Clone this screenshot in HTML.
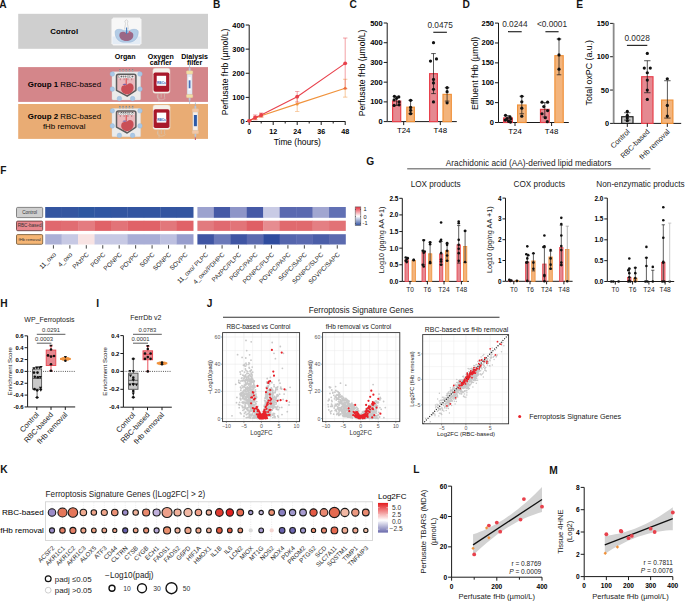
<!DOCTYPE html>
<html><head><meta charset="utf-8"><style>
html,body{margin:0;padding:0;background:#fff;}
svg{display:block;font-family:"Liberation Sans", sans-serif;}
</style></head><body>
<svg width="685" height="601" viewBox="0 0 685 601">
<rect width="685" height="601" fill="#fff"/>
<text x="-0.66" y="7.7" font-size="10.2" font-weight="bold" fill="#151515" >A</text>
<rect x="18.2" y="13.8" width="189.8" height="35" fill="#cfcfcf" />
<text x="64.2" y="33.6" font-size="7.8" font-weight="bold" text-anchor="middle" >Control</text>
<path d="M113.3,17.6 L139.6,17.6 L141.6,19.6 L141.6,43.5 L139.6,45.5 L113.3,45.5 L111.3,43.5 L111.3,19.6 Z" fill="#f7f7f7" stroke="#dedede" stroke-width="0.6" />
<rect x="112.5" y="36.5" width="28" height="7.6" fill="#e4ecf5" />
<path d="M115.2,31.5 C115.5,29.2 120,28.6 123,30.2 C125,31 128,31 130,30.2 C133.5,28.6 138,29.2 138.2,31.5 C138.6,36 136,41.5 130,42.2 L123,42.2 C117,41.5 114.8,36 115.2,31.5 Z" fill="#b3cce6" stroke="#93b2d4" stroke-width="0.5" />
<path d="M119.3,35.2 C119.2,32 122.5,31.2 125,32.2 C125.8,32.6 126.5,33.4 126.8,33.6 C127.2,33.2 128,32.5 129,32.2 C131.5,31.4 133.8,33 133.3,36 C132.8,39.4 129.8,41.1 126.2,41 C122.4,40.9 119.4,38.6 119.3,35.2 Z" fill="#9b6786" />
<line x1="126.6" y1="27.5" x2="126.6" y2="34" stroke="#4a7fc0" stroke-width="1.3" />
<path d="M124.5,29.5 L125.5,23.5 L124.8,21 L126.4,19.8 L128,21 L127.4,23.5 L128.6,29.5" fill="none" stroke="#b8b8b8" stroke-width="0.5" />
<circle cx="129.6" cy="31.8" r="0.9" fill="#e06070" />
<text x="125.2" y="58.6" font-size="7.1" font-weight="bold" text-anchor="middle" >Organ</text>
<text x="160.8" y="58.6" font-size="7.1" font-weight="bold" text-anchor="middle" >Oxygen</text>
<text x="160.8" y="64.9" font-size="7.1" font-weight="bold" text-anchor="middle" >carrier</text>
<text x="194.6" y="58.6" font-size="7.1" font-weight="bold" text-anchor="middle" >Dialysis</text>
<text x="194.6" y="64.9" font-size="7.1" font-weight="bold" text-anchor="middle" >filter</text>
<rect x="18.2" y="67.1" width="189.8" height="34.8" fill="#d4868a" />
<rect x="18.2" y="104" width="189.8" height="34.9" fill="#e9ac74" />
<text x="27.8" y="87" font-size="7.9" ><tspan font-weight="bold">Group 1</tspan> RBC-based</text>
<text x="27.8" y="119" font-size="7.9" ><tspan font-weight="bold">Group 2</tspan> RBC-based</text>
<text x="64.2" y="128.6" font-size="7.9" text-anchor="middle" >fHb removal</text>
<rect x="112" y="71.8" width="28.6" height="28.1" fill="#ebebeb" stroke="#d6d6d6" stroke-width="0.4" rx="0.8" />
<rect x="119" y="69.4" width="1.7" height="2.2" fill="#a8a8a8" />
<rect x="119.3" y="69.1" width="1.1" height="0.8" fill="#777" />
<rect x="122.2" y="69.4" width="1.7" height="2.2" fill="#a8a8a8" />
<rect x="122.5" y="69.1" width="1.1" height="0.8" fill="#777" />
<rect x="125.4" y="69.4" width="1.7" height="2.2" fill="#a8a8a8" />
<rect x="125.7" y="69.1" width="1.1" height="0.8" fill="#777" />
<rect x="128.6" y="69.4" width="1.7" height="2.2" fill="#a8a8a8" />
<rect x="128.9" y="69.1" width="1.1" height="0.8" fill="#777" />
<rect x="131.8" y="69.4" width="1.7" height="2.2" fill="#a8a8a8" />
<rect x="132.1" y="69.1" width="1.1" height="0.8" fill="#777" />
<circle cx="112.3" cy="74" r="2.3" fill="#a9c8e6" stroke="#8fb2d6" stroke-width="0.4" />
<circle cx="140" cy="74" r="2.3" fill="#a9c8e6" stroke="#8fb2d6" stroke-width="0.4" />
<circle cx="112.3" cy="89.1" r="2.3" fill="#a9c8e6" stroke="#8fb2d6" stroke-width="0.4" />
<circle cx="140" cy="89.1" r="2.3" fill="#a9c8e6" stroke="#8fb2d6" stroke-width="0.4" />
<circle cx="119.4" cy="98.6" r="2.3" fill="#a9c8e6" stroke="#8fb2d6" stroke-width="0.4" />
<circle cx="132.6" cy="98.6" r="2.3" fill="#a9c8e6" stroke="#8fb2d6" stroke-width="0.4" />
<path d="M118.5,74.2 L133.9,74.2 Q135.9,74.2 135.9,76.2 L135.9,90.3 L127.2,96.19999999999999 L116.5,90.3 L116.5,76.2 Q116.5,74.2 118.5,74.2 Z" fill="#e9b9bd" stroke="#5c5c5c" stroke-width="1.5" stroke-linejoin="round"/>
<rect x="118.2" y="75.2" width="16" height="3" fill="#ffffff" />
<rect x="118.8" y="75.9" width="1.3" height="1.6" fill="none" stroke="#444" stroke-width="0.35" />
<rect x="121" y="75.9" width="1.3" height="1.6" fill="none" stroke="#444" stroke-width="0.35" />
<rect x="123.2" y="75.9" width="1.3" height="1.6" fill="none" stroke="#444" stroke-width="0.35" />
<rect x="125.4" y="75.9" width="1.3" height="1.6" fill="none" stroke="#444" stroke-width="0.35" />
<rect x="127.6" y="75.9" width="1.3" height="1.6" fill="none" stroke="#444" stroke-width="0.35" />
<rect x="129.8" y="75.9" width="1.3" height="1.6" fill="none" stroke="#444" stroke-width="0.35" />
<rect x="132" y="75.9" width="1.3" height="1.6" fill="none" stroke="#444" stroke-width="0.35" />
<line x1="120.3" y1="78.2" x2="120.3" y2="80.2" stroke="#8a4a50" stroke-width="0.5" />
<line x1="124.1" y1="78.2" x2="124.1" y2="80.2" stroke="#8a4a50" stroke-width="0.5" />
<line x1="127.9" y1="78.2" x2="127.9" y2="80.2" stroke="#8a4a50" stroke-width="0.5" />
<line x1="131.7" y1="78.2" x2="131.7" y2="80.2" stroke="#8a4a50" stroke-width="0.5" />
<line x1="126.2" y1="78.2" x2="126.2" y2="84.8" stroke="#e03838" stroke-width="0.9" />
<path d="M121.8,86.39999999999999 C124.0,84.39999999999999 126.0,86.0 127.6,84.2 C129.6,82.2 133.6,83.39999999999999 133.6,87.39999999999999 C133.6,91.8 130.0,94.4 126.5,94.19999999999999 C123.0,93.9 121.0,91.4 121.2,88.8 C121.3,87.6 121.5,86.8 121.8,86.39999999999999 Z" fill="#c94f57" />
<path d="M122.5,84.39999999999999 C123.8,83.2 125.2,84.2 126.8,84.0 C126.2,85.39999999999999 124.0,85.3 122.5,84.39999999999999 Z" fill="#7a62a8" />
<rect x="112" y="108.6" width="28.6" height="28.1" fill="#ebebeb" stroke="#d6d6d6" stroke-width="0.4" rx="0.8" />
<rect x="119" y="106.2" width="1.7" height="2.2" fill="#a8a8a8" />
<rect x="119.3" y="105.9" width="1.1" height="0.8" fill="#777" />
<rect x="122.2" y="106.2" width="1.7" height="2.2" fill="#a8a8a8" />
<rect x="122.5" y="105.9" width="1.1" height="0.8" fill="#777" />
<rect x="125.4" y="106.2" width="1.7" height="2.2" fill="#a8a8a8" />
<rect x="125.7" y="105.9" width="1.1" height="0.8" fill="#777" />
<rect x="128.6" y="106.2" width="1.7" height="2.2" fill="#a8a8a8" />
<rect x="128.9" y="105.9" width="1.1" height="0.8" fill="#777" />
<rect x="131.8" y="106.2" width="1.7" height="2.2" fill="#a8a8a8" />
<rect x="132.1" y="105.9" width="1.1" height="0.8" fill="#777" />
<circle cx="112.3" cy="110.8" r="2.3" fill="#a9c8e6" stroke="#8fb2d6" stroke-width="0.4" />
<circle cx="140" cy="110.8" r="2.3" fill="#a9c8e6" stroke="#8fb2d6" stroke-width="0.4" />
<circle cx="112.3" cy="125.9" r="2.3" fill="#a9c8e6" stroke="#8fb2d6" stroke-width="0.4" />
<circle cx="140" cy="125.9" r="2.3" fill="#a9c8e6" stroke="#8fb2d6" stroke-width="0.4" />
<circle cx="119.4" cy="135.4" r="2.3" fill="#a9c8e6" stroke="#8fb2d6" stroke-width="0.4" />
<circle cx="132.6" cy="135.4" r="2.3" fill="#a9c8e6" stroke="#8fb2d6" stroke-width="0.4" />
<path d="M118.5,111.0 L133.9,111.0 Q135.9,111.0 135.9,113.0 L135.9,127.1 L127.2,133.0 L116.5,127.1 L116.5,113.0 Q116.5,111.0 118.5,111.0 Z" fill="#e9b9bd" stroke="#5c5c5c" stroke-width="1.5" stroke-linejoin="round"/>
<rect x="118.2" y="112" width="16" height="3" fill="#ffffff" />
<rect x="118.8" y="112.7" width="1.3" height="1.6" fill="none" stroke="#444" stroke-width="0.35" />
<rect x="121" y="112.7" width="1.3" height="1.6" fill="none" stroke="#444" stroke-width="0.35" />
<rect x="123.2" y="112.7" width="1.3" height="1.6" fill="none" stroke="#444" stroke-width="0.35" />
<rect x="125.4" y="112.7" width="1.3" height="1.6" fill="none" stroke="#444" stroke-width="0.35" />
<rect x="127.6" y="112.7" width="1.3" height="1.6" fill="none" stroke="#444" stroke-width="0.35" />
<rect x="129.8" y="112.7" width="1.3" height="1.6" fill="none" stroke="#444" stroke-width="0.35" />
<rect x="132" y="112.7" width="1.3" height="1.6" fill="none" stroke="#444" stroke-width="0.35" />
<line x1="120.3" y1="115" x2="120.3" y2="117" stroke="#8a4a50" stroke-width="0.5" />
<line x1="124.1" y1="115" x2="124.1" y2="117" stroke="#8a4a50" stroke-width="0.5" />
<line x1="127.9" y1="115" x2="127.9" y2="117" stroke="#8a4a50" stroke-width="0.5" />
<line x1="131.7" y1="115" x2="131.7" y2="117" stroke="#8a4a50" stroke-width="0.5" />
<line x1="126.2" y1="115" x2="126.2" y2="121.6" stroke="#e03838" stroke-width="0.9" />
<path d="M121.8,123.19999999999999 C124.0,121.19999999999999 126.0,122.8 127.6,121.0 C129.6,119.0 133.6,120.19999999999999 133.6,124.19999999999999 C133.6,128.6 130.0,131.2 126.5,131.0 C123.0,130.7 121.0,128.2 121.2,125.6 C121.3,124.39999999999999 121.5,123.6 121.8,123.19999999999999 Z" fill="#c94f57" />
<path d="M122.5,121.19999999999999 C123.8,120.0 125.2,121.0 126.8,120.8 C126.2,122.19999999999999 124.0,122.1 122.5,121.19999999999999 Z" fill="#7a62a8" />
<rect x="152.9" y="68.2" width="17.1" height="25" fill="#f5f0ea" stroke="#e2dbd0" stroke-width="0.4" rx="2.2" />
<rect x="153.5" y="72.4" width="15.9" height="19.4" fill="#a8182a" rx="1.8" />
<rect x="156.7" y="75.8" width="9.4" height="10" fill="#ffffff" />
<rect x="156.7" y="82.2" width="9.4" height="2.6" fill="#e9eef7" />
<text x="161.4" y="84.2" font-size="3.2" font-weight="bold" text-anchor="middle" fill="#3a66b4" >RBCs</text>
<line x1="157.9" y1="93.2" x2="157.9" y2="97.7" stroke="#cfc6ba" stroke-width="0.6" />
<line x1="161.2" y1="93.2" x2="161.2" y2="97.7" stroke="#cfc6ba" stroke-width="0.6" />
<line x1="164.5" y1="93.2" x2="164.5" y2="97.7" stroke="#cfc6ba" stroke-width="0.6" />
<path d="M157.4,95.2 C156.4,100.2 161.9,101.2 165.4,98.2" fill="none" stroke="#d4ccc0" stroke-width="0.5" />
<line x1="158.9" y1="97.2" x2="158.9" y2="101.8" stroke="#cfc6ba" stroke-width="0.5" />
<rect x="153" y="105" width="17.1" height="24.5" fill="#f5f0ea" stroke="#e2dbd0" stroke-width="0.4" rx="2.2" />
<rect x="153.6" y="109.2" width="15.9" height="18.9" fill="#a8182a" rx="1.8" />
<rect x="156.8" y="112.6" width="9.4" height="10" fill="#ffffff" />
<rect x="156.8" y="119" width="9.4" height="2.6" fill="#e9eef7" />
<text x="161.5" y="121" font-size="3.2" font-weight="bold" text-anchor="middle" fill="#3a66b4" >RBCs</text>
<line x1="158" y1="129.5" x2="158" y2="134" stroke="#cfc6ba" stroke-width="0.6" />
<line x1="161.3" y1="129.5" x2="161.3" y2="134" stroke="#cfc6ba" stroke-width="0.6" />
<line x1="164.6" y1="129.5" x2="164.6" y2="134" stroke="#cfc6ba" stroke-width="0.6" />
<path d="M157.5,131.5 C156.5,136.5 162.0,137.5 165.5,134.5" fill="none" stroke="#d4ccc0" stroke-width="0.5" />
<line x1="159" y1="133.5" x2="159" y2="138.1" stroke="#cfc6ba" stroke-width="0.5" />
<line x1="189.6" y1="64.6" x2="189.6" y2="104" stroke="#aab8cc" stroke-width="0.8" />
<rect x="188.7" y="68.1" width="1.8" height="3" fill="#b8c4d8" />
<rect x="188.7" y="97.5" width="1.8" height="3" fill="#b8c4d8" />
<rect x="187.1" y="74.1" width="5" height="20.4" fill="#e6ebf3" stroke="#c4ccda" stroke-width="0.4" />
<rect x="186.4" y="70.8" width="6.4" height="3.3" fill="#f2dea2" stroke="#d8c8a0" stroke-width="0.3" rx="0.8" />
<rect x="186.4" y="94.4" width="6.4" height="3.3" fill="#f2dea2" stroke="#d8c8a0" stroke-width="0.3" rx="0.8" />
<rect x="188.5" y="77.1" width="2.2" height="13.1" fill="#ffffff" />
<rect x="188.7" y="80.3" width="1.8" height="8" fill="#4a72b8" />
<line x1="195.4" y1="102.5" x2="195.4" y2="140" stroke="#aab8cc" stroke-width="0.8" />
<rect x="194.5" y="106" width="1.8" height="3" fill="#b8c4d8" />
<rect x="194.5" y="133.5" width="1.8" height="3" fill="#b8c4d8" />
<rect x="192.9" y="112" width="5" height="18.5" fill="#f8efe8" stroke="#c4ccda" stroke-width="0.4" />
<rect x="192.2" y="108.7" width="6.4" height="3.3" fill="#f3c6a6" stroke="#d8c8a0" stroke-width="0.3" rx="0.8" />
<rect x="192.2" y="130.4" width="6.4" height="3.3" fill="#f3c6a6" stroke="#d8c8a0" stroke-width="0.3" rx="0.8" />
<rect x="193.9" y="115" width="3" height="11.2" fill="#2c5aa8" />
<line x1="195.4" y1="137.5" x2="195.4" y2="140" stroke="#d04050" stroke-width="0.8" />
<text x="213.12" y="7.8" font-size="10.2" font-weight="bold" fill="#151515" >B</text>
<line x1="249.2" y1="121.5" x2="249.2" y2="25" stroke="#1a1a1a" stroke-width="1" />
<line x1="245.7" y1="121.5" x2="249.2" y2="121.5" stroke="#1a1a1a" stroke-width="1" />
<text x="244.7" y="121.5" font-size="7.4" font-weight="bold" text-anchor="end" dominant-baseline="central" >0</text>
<line x1="245.7" y1="97.38" x2="249.2" y2="97.38" stroke="#1a1a1a" stroke-width="1" />
<text x="244.7" y="97.38" font-size="7.4" font-weight="bold" text-anchor="end" dominant-baseline="central" >100</text>
<line x1="245.7" y1="73.26" x2="249.2" y2="73.26" stroke="#1a1a1a" stroke-width="1" />
<text x="244.7" y="73.26" font-size="7.4" font-weight="bold" text-anchor="end" dominant-baseline="central" >200</text>
<line x1="245.7" y1="49.14" x2="249.2" y2="49.14" stroke="#1a1a1a" stroke-width="1" />
<text x="244.7" y="49.14" font-size="7.4" font-weight="bold" text-anchor="end" dominant-baseline="central" >300</text>
<line x1="245.7" y1="25.02" x2="249.2" y2="25.02" stroke="#1a1a1a" stroke-width="1" />
<text x="244.7" y="25.02" font-size="7.4" font-weight="bold" text-anchor="end" dominant-baseline="central" >400</text>
<line x1="249.2" y1="121.5" x2="345.4" y2="121.5" stroke="#1a1a1a" stroke-width="1" />
<line x1="249.2" y1="121.5" x2="249.2" y2="125" stroke="#1a1a1a" stroke-width="1" />
<line x1="261.2" y1="121.5" x2="261.2" y2="123.5" stroke="#1a1a1a" stroke-width="1" />
<line x1="273.2" y1="121.5" x2="273.2" y2="125" stroke="#1a1a1a" stroke-width="1" />
<line x1="285.2" y1="121.5" x2="285.2" y2="123.5" stroke="#1a1a1a" stroke-width="1" />
<line x1="297.2" y1="121.5" x2="297.2" y2="125" stroke="#1a1a1a" stroke-width="1" />
<line x1="309.2" y1="121.5" x2="309.2" y2="123.5" stroke="#1a1a1a" stroke-width="1" />
<line x1="321.2" y1="121.5" x2="321.2" y2="125" stroke="#1a1a1a" stroke-width="1" />
<line x1="333.2" y1="121.5" x2="333.2" y2="123.5" stroke="#1a1a1a" stroke-width="1" />
<line x1="345.2" y1="121.5" x2="345.2" y2="125" stroke="#1a1a1a" stroke-width="1" />
<text x="249.2" y="133.6" font-size="7.2" font-weight="bold" text-anchor="middle" >0</text>
<text x="273.2" y="133.6" font-size="7.2" font-weight="bold" text-anchor="middle" >12</text>
<text x="297.2" y="133.6" font-size="7.2" font-weight="bold" text-anchor="middle" >24</text>
<text x="321.2" y="133.6" font-size="7.2" font-weight="bold" text-anchor="middle" >36</text>
<text x="345.2" y="133.6" font-size="7.2" font-weight="bold" text-anchor="middle" >48</text>
<text x="297.3" y="145.3" font-size="8.4" text-anchor="middle" >Time (hours)</text>
<text x="227.8" y="72" font-size="8.6" text-anchor="middle" transform="rotate(-90 227.8 72)" >Perfusate fHb (µmol/L)</text>
<path d="M249.20,120.78 L255.20,118.12 L261.20,115.71 L297.20,103.89 L345.20,88.21" fill="none" stroke="#f0923b" stroke-width="1.1" />
<line x1="249.2" y1="120.29" x2="249.2" y2="121.26" stroke="#f0923b" stroke-width="0.7" opacity="0.7"/>
<line x1="247" y1="120.29" x2="251.4" y2="120.29" stroke="#f0923b" stroke-width="0.7" opacity="0.7"/>
<line x1="247" y1="121.26" x2="251.4" y2="121.26" stroke="#f0923b" stroke-width="0.7" opacity="0.7"/>
<circle cx="249.2" cy="120.78" r="1.5" fill="#f0923b" />
<line x1="255.2" y1="116.68" x2="255.2" y2="119.57" stroke="#f0923b" stroke-width="0.7" opacity="0.7"/>
<line x1="253" y1="116.68" x2="257.4" y2="116.68" stroke="#f0923b" stroke-width="0.7" opacity="0.7"/>
<line x1="253" y1="119.57" x2="257.4" y2="119.57" stroke="#f0923b" stroke-width="0.7" opacity="0.7"/>
<circle cx="255.2" cy="118.12" r="1.5" fill="#f0923b" />
<line x1="261.2" y1="114.26" x2="261.2" y2="117.16" stroke="#f0923b" stroke-width="0.7" opacity="0.7"/>
<line x1="259" y1="114.26" x2="263.4" y2="114.26" stroke="#f0923b" stroke-width="0.7" opacity="0.7"/>
<line x1="259" y1="117.16" x2="263.4" y2="117.16" stroke="#f0923b" stroke-width="0.7" opacity="0.7"/>
<circle cx="261.2" cy="115.71" r="1.5" fill="#f0923b" />
<line x1="297.2" y1="96.42" x2="297.2" y2="111.37" stroke="#f0923b" stroke-width="0.7" opacity="0.7"/>
<line x1="295" y1="96.42" x2="299.4" y2="96.42" stroke="#f0923b" stroke-width="0.7" opacity="0.7"/>
<line x1="295" y1="111.37" x2="299.4" y2="111.37" stroke="#f0923b" stroke-width="0.7" opacity="0.7"/>
<circle cx="297.2" cy="103.89" r="1.5" fill="#f0923b" />
<line x1="345.2" y1="79.29" x2="345.2" y2="97.14" stroke="#f0923b" stroke-width="0.7" opacity="0.7"/>
<line x1="343" y1="79.29" x2="347.4" y2="79.29" stroke="#f0923b" stroke-width="0.7" opacity="0.7"/>
<line x1="343" y1="97.14" x2="347.4" y2="97.14" stroke="#f0923b" stroke-width="0.7" opacity="0.7"/>
<circle cx="345.2" cy="88.21" r="1.5" fill="#f0923b" />
<path d="M249.20,120.78 L255.20,117.40 L261.20,114.99 L297.20,96.66 L345.20,63.37" fill="none" stroke="#e8414c" stroke-width="1.1" />
<line x1="249.2" y1="120.29" x2="249.2" y2="121.26" stroke="#e8414c" stroke-width="0.7" opacity="0.7"/>
<line x1="247" y1="120.29" x2="251.4" y2="120.29" stroke="#e8414c" stroke-width="0.7" opacity="0.7"/>
<line x1="247" y1="121.26" x2="251.4" y2="121.26" stroke="#e8414c" stroke-width="0.7" opacity="0.7"/>
<circle cx="249.2" cy="120.78" r="1.9" fill="#e8414c" />
<line x1="255.2" y1="114.99" x2="255.2" y2="119.81" stroke="#e8414c" stroke-width="0.7" opacity="0.7"/>
<line x1="253" y1="114.99" x2="257.4" y2="114.99" stroke="#e8414c" stroke-width="0.7" opacity="0.7"/>
<line x1="253" y1="119.81" x2="257.4" y2="119.81" stroke="#e8414c" stroke-width="0.7" opacity="0.7"/>
<circle cx="255.2" cy="117.4" r="1.9" fill="#e8414c" />
<line x1="261.2" y1="113.06" x2="261.2" y2="116.92" stroke="#e8414c" stroke-width="0.7" opacity="0.7"/>
<line x1="259" y1="113.06" x2="263.4" y2="113.06" stroke="#e8414c" stroke-width="0.7" opacity="0.7"/>
<line x1="259" y1="116.92" x2="263.4" y2="116.92" stroke="#e8414c" stroke-width="0.7" opacity="0.7"/>
<circle cx="261.2" cy="114.99" r="1.9" fill="#e8414c" />
<line x1="297.2" y1="91.35" x2="297.2" y2="101.96" stroke="#e8414c" stroke-width="0.7" opacity="0.7"/>
<line x1="295" y1="91.35" x2="299.4" y2="91.35" stroke="#e8414c" stroke-width="0.7" opacity="0.7"/>
<line x1="295" y1="101.96" x2="299.4" y2="101.96" stroke="#e8414c" stroke-width="0.7" opacity="0.7"/>
<circle cx="297.2" cy="96.66" r="1.9" fill="#e8414c" />
<line x1="345.2" y1="38.04" x2="345.2" y2="88.7" stroke="#e8414c" stroke-width="0.7" opacity="0.7"/>
<line x1="343" y1="38.04" x2="347.4" y2="38.04" stroke="#e8414c" stroke-width="0.7" opacity="0.7"/>
<line x1="343" y1="88.7" x2="347.4" y2="88.7" stroke="#e8414c" stroke-width="0.7" opacity="0.7"/>
<circle cx="345.2" cy="63.37" r="1.9" fill="#e8414c" />
<text x="349.48" y="7.6" font-size="10.2" font-weight="bold" fill="#151515" >C</text>
<line x1="387.2" y1="121.6" x2="387.2" y2="23" stroke="#1a1a1a" stroke-width="1" />
<line x1="383.7" y1="121.6" x2="387.2" y2="121.6" stroke="#1a1a1a" stroke-width="1" />
<text x="382.7" y="121.6" font-size="7.5" font-weight="bold" text-anchor="end" dominant-baseline="central" >0</text>
<line x1="383.7" y1="101.88" x2="387.2" y2="101.88" stroke="#1a1a1a" stroke-width="1" />
<text x="382.7" y="101.88" font-size="7.5" font-weight="bold" text-anchor="end" dominant-baseline="central" >100</text>
<line x1="383.7" y1="82.16" x2="387.2" y2="82.16" stroke="#1a1a1a" stroke-width="1" />
<text x="382.7" y="82.16" font-size="7.5" font-weight="bold" text-anchor="end" dominant-baseline="central" >200</text>
<line x1="383.7" y1="62.44" x2="387.2" y2="62.44" stroke="#1a1a1a" stroke-width="1" />
<text x="382.7" y="62.44" font-size="7.5" font-weight="bold" text-anchor="end" dominant-baseline="central" >300</text>
<line x1="383.7" y1="42.72" x2="387.2" y2="42.72" stroke="#1a1a1a" stroke-width="1" />
<text x="382.7" y="42.72" font-size="7.5" font-weight="bold" text-anchor="end" dominant-baseline="central" >400</text>
<line x1="383.7" y1="23" x2="387.2" y2="23" stroke="#1a1a1a" stroke-width="1" />
<text x="382.7" y="23" font-size="7.5" font-weight="bold" text-anchor="end" dominant-baseline="central" >500</text>
<line x1="387.2" y1="121.6" x2="456.8" y2="121.6" stroke="#1a1a1a" stroke-width="1" />
<line x1="403.7" y1="121.6" x2="403.7" y2="125.1" stroke="#1a1a1a" stroke-width="1" />
<text x="403.7" y="133.4" font-size="7.9" text-anchor="middle" >T24</text>
<line x1="440.3" y1="121.6" x2="440.3" y2="125.1" stroke="#1a1a1a" stroke-width="1" />
<text x="440.3" y="133.4" font-size="7.9" text-anchor="middle" >T48</text>
<text x="365.3" y="72.9" font-size="8.6" text-anchor="middle" transform="rotate(-90 365.3 72.9)" >Perfusate fHb (µmol/L)</text>
<rect x="392.6" y="101.09" width="8.1" height="20.51" fill="#e58991" stroke="#e8414c" stroke-width="1.2" />
<rect x="406.8" y="107.2" width="7.6" height="14.4" fill="#f3b47c" stroke="#f0923b" stroke-width="1.2" />
<rect x="429.6" y="73.68" width="7.8" height="47.92" fill="#e58991" stroke="#e8414c" stroke-width="1.2" />
<rect x="443" y="94.39" width="8.3" height="27.21" fill="#f3b47c" stroke="#f0923b" stroke-width="1.2" />
<line x1="396.6" y1="96.36" x2="396.6" y2="105.43" stroke="#111" stroke-width="0.7" />
<line x1="394.3" y1="96.36" x2="398.9" y2="96.36" stroke="#111" stroke-width="0.7" />
<line x1="394.3" y1="105.43" x2="398.9" y2="105.43" stroke="#111" stroke-width="0.7" />
<line x1="410.6" y1="100.3" x2="410.6" y2="113.71" stroke="#111" stroke-width="0.7" />
<line x1="408.3" y1="100.3" x2="412.9" y2="100.3" stroke="#111" stroke-width="0.7" />
<line x1="408.3" y1="113.71" x2="412.9" y2="113.71" stroke="#111" stroke-width="0.7" />
<line x1="433.5" y1="53.57" x2="433.5" y2="93.6" stroke="#111" stroke-width="0.7" />
<line x1="431.2" y1="53.57" x2="435.8" y2="53.57" stroke="#111" stroke-width="0.7" />
<line x1="431.2" y1="93.6" x2="435.8" y2="93.6" stroke="#111" stroke-width="0.7" />
<line x1="447.1" y1="87.68" x2="447.1" y2="101.09" stroke="#111" stroke-width="0.7" />
<line x1="444.8" y1="87.68" x2="449.4" y2="87.68" stroke="#111" stroke-width="0.7" />
<line x1="444.8" y1="101.09" x2="449.4" y2="101.09" stroke="#111" stroke-width="0.7" />
<circle cx="394.4" cy="96.36" r="1.6" fill="#111" />
<circle cx="398.8" cy="96.95" r="1.6" fill="#111" />
<circle cx="394.1" cy="99.91" r="1.6" fill="#111" />
<circle cx="399.1" cy="101.88" r="1.6" fill="#111" />
<circle cx="396.6" cy="98.33" r="1.6" fill="#111" />
<circle cx="394.1" cy="105.43" r="1.6" fill="#111" />
<circle cx="399.1" cy="104.84" r="1.6" fill="#111" />
<circle cx="410.6" cy="100.3" r="1.6" fill="#111" />
<circle cx="410.6" cy="107.4" r="1.6" fill="#111" />
<circle cx="410.6" cy="110.36" r="1.6" fill="#111" />
<circle cx="410.6" cy="113.71" r="1.6" fill="#111" />
<circle cx="433.5" cy="42.72" r="1.6" fill="#111" />
<circle cx="430.5" cy="61.06" r="1.6" fill="#111" />
<circle cx="436.5" cy="58.89" r="1.6" fill="#111" />
<circle cx="433.5" cy="79.4" r="1.6" fill="#111" />
<circle cx="433.5" cy="82.95" r="1.6" fill="#111" />
<circle cx="433.5" cy="89.26" r="1.6" fill="#111" />
<circle cx="433.5" cy="101.88" r="1.6" fill="#111" />
<circle cx="447.1" cy="87.68" r="1.6" fill="#111" />
<circle cx="447.1" cy="91.63" r="1.6" fill="#111" />
<circle cx="447.1" cy="102.87" r="1.6" fill="#111" />
<line x1="433.3" y1="32.3" x2="446.9" y2="32.3" stroke="#2a2a2a" stroke-width="1.2" />
<text x="440.1" y="27.8" font-size="8.3" text-anchor="middle" fill="#2a2a2a" >0.0475</text>
<text x="462.62" y="7.7" font-size="10.2" font-weight="bold" fill="#151515" >D</text>
<line x1="498.5" y1="122.5" x2="498.5" y2="23" stroke="#1a1a1a" stroke-width="1" />
<line x1="495" y1="122.5" x2="498.5" y2="122.5" stroke="#1a1a1a" stroke-width="1" />
<text x="494" y="122.5" font-size="7.5" font-weight="bold" text-anchor="end" dominant-baseline="central" >0</text>
<line x1="495" y1="102.62" x2="498.5" y2="102.62" stroke="#1a1a1a" stroke-width="1" />
<text x="494" y="102.62" font-size="7.5" font-weight="bold" text-anchor="end" dominant-baseline="central" >50</text>
<line x1="495" y1="82.74" x2="498.5" y2="82.74" stroke="#1a1a1a" stroke-width="1" />
<text x="494" y="82.74" font-size="7.5" font-weight="bold" text-anchor="end" dominant-baseline="central" >100</text>
<line x1="495" y1="62.86" x2="498.5" y2="62.86" stroke="#1a1a1a" stroke-width="1" />
<text x="494" y="62.86" font-size="7.5" font-weight="bold" text-anchor="end" dominant-baseline="central" >150</text>
<line x1="495" y1="42.98" x2="498.5" y2="42.98" stroke="#1a1a1a" stroke-width="1" />
<text x="494" y="42.98" font-size="7.5" font-weight="bold" text-anchor="end" dominant-baseline="central" >200</text>
<line x1="495" y1="23.1" x2="498.5" y2="23.1" stroke="#1a1a1a" stroke-width="1" />
<text x="494" y="23.1" font-size="7.5" font-weight="bold" text-anchor="end" dominant-baseline="central" >250</text>
<line x1="498.5" y1="122.5" x2="568.8" y2="122.5" stroke="#1a1a1a" stroke-width="1" />
<line x1="515" y1="122.5" x2="515" y2="126" stroke="#1a1a1a" stroke-width="1" />
<text x="515" y="133.5" font-size="7.9" text-anchor="middle" >T24</text>
<line x1="551.6" y1="122.5" x2="551.6" y2="126" stroke="#1a1a1a" stroke-width="1" />
<text x="551.6" y="133.5" font-size="7.9" text-anchor="middle" >T48</text>
<text x="477.9" y="73.4" font-size="8.8" text-anchor="middle" transform="rotate(-90 477.9 73.4)" >Effluent fHb (µmol)</text>
<rect x="503.6" y="117.93" width="8.8" height="4.57" fill="#e58991" stroke="#e8414c" stroke-width="1.2" />
<rect x="517.6" y="105.01" width="8.5" height="17.49" fill="#f3b47c" stroke="#f0923b" stroke-width="1.2" />
<rect x="540.5" y="109.38" width="8.7" height="13.12" fill="#e58991" stroke="#e8414c" stroke-width="1.2" />
<rect x="554.9" y="55.7" width="8.3" height="66.8" fill="#f3b47c" stroke="#f0923b" stroke-width="1.2" />
<line x1="508" y1="115.74" x2="508" y2="120.51" stroke="#111" stroke-width="0.7" />
<line x1="505.7" y1="115.74" x2="510.3" y2="115.74" stroke="#111" stroke-width="0.7" />
<line x1="505.7" y1="120.51" x2="510.3" y2="120.51" stroke="#111" stroke-width="0.7" />
<line x1="521.8" y1="96.26" x2="521.8" y2="113.75" stroke="#111" stroke-width="0.7" />
<line x1="519.5" y1="96.26" x2="524.1" y2="96.26" stroke="#111" stroke-width="0.7" />
<line x1="519.5" y1="113.75" x2="524.1" y2="113.75" stroke="#111" stroke-width="0.7" />
<line x1="544.8" y1="102.62" x2="544.8" y2="116.93" stroke="#111" stroke-width="0.7" />
<line x1="542.5" y1="102.62" x2="547.1" y2="102.62" stroke="#111" stroke-width="0.7" />
<line x1="542.5" y1="116.93" x2="547.1" y2="116.93" stroke="#111" stroke-width="0.7" />
<line x1="559" y1="39" x2="559" y2="74.79" stroke="#111" stroke-width="0.7" />
<line x1="556.7" y1="39" x2="561.3" y2="39" stroke="#111" stroke-width="0.7" />
<line x1="556.7" y1="74.79" x2="561.3" y2="74.79" stroke="#111" stroke-width="0.7" />
<circle cx="505.5" cy="115.34" r="1.6" fill="#111" />
<circle cx="510" cy="116.93" r="1.6" fill="#111" />
<circle cx="507" cy="118.52" r="1.6" fill="#111" />
<circle cx="510.8" cy="118.92" r="1.6" fill="#111" />
<circle cx="505.2" cy="120.11" r="1.6" fill="#111" />
<circle cx="508.5" cy="121.31" r="1.6" fill="#111" />
<circle cx="510.5" cy="122.1" r="1.6" fill="#111" />
<circle cx="521.8" cy="96.26" r="1.6" fill="#111" />
<circle cx="521.8" cy="101.82" r="1.6" fill="#111" />
<circle cx="521.8" cy="108.19" r="1.6" fill="#111" />
<circle cx="521.8" cy="116.14" r="1.6" fill="#111" />
<circle cx="542" cy="102.22" r="1.6" fill="#111" />
<circle cx="547.6" cy="102.22" r="1.6" fill="#111" />
<circle cx="543.8" cy="106.6" r="1.6" fill="#111" />
<circle cx="547.6" cy="110.57" r="1.6" fill="#111" />
<circle cx="542" cy="113.75" r="1.6" fill="#111" />
<circle cx="545.3" cy="117.73" r="1.6" fill="#111" />
<circle cx="547.3" cy="121.7" r="1.6" fill="#111" />
<circle cx="559" cy="39" r="1.6" fill="#111" />
<circle cx="559" cy="54.91" r="1.6" fill="#111" />
<circle cx="559" cy="69.22" r="1.6" fill="#111" />
<line x1="508" y1="31.7" x2="521.7" y2="31.7" stroke="#2a2a2a" stroke-width="1.2" />
<text x="514.85" y="27.2" font-size="8.3" text-anchor="middle" fill="#2a2a2a" >0.0244</text>
<line x1="545.4" y1="31.7" x2="558.6" y2="31.7" stroke="#2a2a2a" stroke-width="1.2" />
<text x="552" y="27.2" font-size="8.3" text-anchor="middle" fill="#2a2a2a" >&lt;0.0001</text>
<text x="576.32" y="7.7" font-size="10.2" font-weight="bold" fill="#151515" >E</text>
<line x1="613.6" y1="123.4" x2="613.6" y2="23.2" stroke="#1a1a1a" stroke-width="1" />
<line x1="610.1" y1="123.4" x2="613.6" y2="123.4" stroke="#1a1a1a" stroke-width="1" />
<text x="609.1" y="123.4" font-size="7.4" font-weight="bold" text-anchor="end" dominant-baseline="central" >0</text>
<line x1="610.1" y1="90.06" x2="613.6" y2="90.06" stroke="#1a1a1a" stroke-width="1" />
<text x="609.1" y="90.06" font-size="7.4" font-weight="bold" text-anchor="end" dominant-baseline="central" >50</text>
<line x1="610.1" y1="56.73" x2="613.6" y2="56.73" stroke="#1a1a1a" stroke-width="1" />
<text x="609.1" y="56.73" font-size="7.4" font-weight="bold" text-anchor="end" dominant-baseline="central" >100</text>
<line x1="610.1" y1="23.4" x2="613.6" y2="23.4" stroke="#1a1a1a" stroke-width="1" />
<text x="609.1" y="23.4" font-size="7.4" font-weight="bold" text-anchor="end" dominant-baseline="central" >150</text>
<line x1="613.6" y1="123.4" x2="613.6" y2="23.2" stroke="#8a8a8a" stroke-width="1.7" />
<line x1="613.6" y1="123.4" x2="681.2" y2="123.4" stroke="#1a1a1a" stroke-width="1" />
<rect x="621.7" y="116.73" width="11.3" height="6.67" fill="#c8c8c8" stroke="#222" stroke-width="1.2" />
<rect x="641.7" y="76.73" width="11.3" height="46.67" fill="#e58991" stroke="#e8414c" stroke-width="1.2" />
<rect x="661.6" y="100.07" width="11.3" height="23.33" fill="#f3b47c" stroke="#f0923b" stroke-width="1.2" />
<line x1="627.3" y1="112.73" x2="627.3" y2="120.07" stroke="#111" stroke-width="0.7" />
<line x1="624.1" y1="112.73" x2="630.5" y2="112.73" stroke="#111" stroke-width="0.7" />
<line x1="624.1" y1="120.07" x2="630.5" y2="120.07" stroke="#111" stroke-width="0.7" />
<line x1="647.3" y1="60.73" x2="647.3" y2="92.73" stroke="#111" stroke-width="0.7" />
<line x1="644.1" y1="60.73" x2="650.5" y2="60.73" stroke="#111" stroke-width="0.7" />
<line x1="644.1" y1="92.73" x2="650.5" y2="92.73" stroke="#111" stroke-width="0.7" />
<line x1="667.4" y1="80.73" x2="667.4" y2="118.07" stroke="#111" stroke-width="0.7" />
<line x1="664.2" y1="80.73" x2="670.6" y2="80.73" stroke="#111" stroke-width="0.7" />
<line x1="664.2" y1="118.07" x2="670.6" y2="118.07" stroke="#111" stroke-width="0.7" />
<circle cx="627.3" cy="111.4" r="1.6" fill="#111" />
<circle cx="627.3" cy="115.4" r="1.6" fill="#111" />
<circle cx="627.3" cy="118.07" r="1.6" fill="#111" />
<circle cx="627.3" cy="120.73" r="1.6" fill="#111" />
<circle cx="647.3" cy="53.4" r="1.6" fill="#111" />
<circle cx="644.3" cy="68.06" r="1.6" fill="#111" />
<circle cx="650.3" cy="68.06" r="1.6" fill="#111" />
<circle cx="647.3" cy="72.73" r="1.6" fill="#111" />
<circle cx="647.3" cy="80.06" r="1.6" fill="#111" />
<circle cx="647.3" cy="90.06" r="1.6" fill="#111" />
<circle cx="647.3" cy="99.4" r="1.6" fill="#111" />
<circle cx="667.3" cy="78.73" r="1.6" fill="#111" />
<circle cx="667.3" cy="105.4" r="1.6" fill="#111" />
<circle cx="667.3" cy="116.07" r="1.6" fill="#111" />
<line x1="626.9" y1="45.4" x2="647.3" y2="45.4" stroke="#2a2a2a" stroke-width="1.2" />
<text x="637.1" y="40.9" font-size="8.3" text-anchor="middle" fill="#2a2a2a" >0.0028</text>
<line x1="627.3" y1="123.4" x2="627.3" y2="126.9" stroke="#1a1a1a" stroke-width="1" />
<text x="630.2" y="132.2" font-size="7.3" text-anchor="end" fill="#222" transform="rotate(-45 630.2 132.2)" >Control</text>
<line x1="647.3" y1="123.4" x2="647.3" y2="126.9" stroke="#1a1a1a" stroke-width="1" />
<text x="650.2" y="132.2" font-size="7.3" text-anchor="end" fill="#222" transform="rotate(-45 650.2 132.2)" >RBC-based</text>
<line x1="667.3" y1="123.4" x2="667.3" y2="126.9" stroke="#1a1a1a" stroke-width="1" />
<text x="670.2" y="132.2" font-size="7.3" text-anchor="end" fill="#222" transform="rotate(-45 670.2 132.2)" >fHb removal</text>
<text x="592.4" y="72.7" font-size="8.8" text-anchor="middle" transform="rotate(-90 592.4 72.7)" >Total oxPC (a.u.)</text>
<text x="0.22" y="173.8" font-size="10.2" font-weight="bold" fill="#151515" >F</text>
<rect x="16.5" y="207.4" width="26.2" height="10.2" fill="#cfcfcf" stroke="#6a6a6a" stroke-width="0.8" rx="1.2" />
<text x="29.6" y="213.9" font-size="4.6" text-anchor="middle" fill="#333" >Control</text>
<rect x="16.5" y="221.1" width="26.2" height="9.6" fill="#e8878d" stroke="#5a3434" stroke-width="0.8" rx="1.2" />
<text x="29.6" y="227.3" font-size="4.6" text-anchor="middle" fill="#333" >RBC-based</text>
<rect x="16.5" y="234.6" width="26.2" height="9.7" fill="#f5b574" stroke="#6a5030" stroke-width="0.8" rx="1.2" />
<text x="29.6" y="240.85" font-size="4.1" text-anchor="middle" fill="#333" >fHb removal</text>
<rect x="45.2" y="207" width="16.74" height="10.8" fill="#3455a0" />
<rect x="61.64" y="207" width="16.74" height="10.8" fill="#3455a0" />
<rect x="78.09" y="207" width="16.74" height="10.8" fill="#2d56a0" />
<rect x="94.53" y="207" width="16.74" height="10.8" fill="#2f55a2" />
<rect x="110.98" y="207" width="16.74" height="10.8" fill="#3254a0" />
<rect x="127.42" y="207" width="16.74" height="10.8" fill="#3254a0" />
<rect x="143.87" y="207" width="16.74" height="10.8" fill="#3254a0" />
<rect x="160.31" y="207" width="16.74" height="10.8" fill="#3455a0" />
<rect x="176.76" y="207" width="16.74" height="10.8" fill="#3455a0" />
<rect x="45.2" y="220.7" width="16.74" height="10.2" fill="#e0686e" />
<rect x="61.64" y="220.7" width="16.74" height="10.2" fill="#e16d72" />
<rect x="78.09" y="220.7" width="16.74" height="10.2" fill="#e47b80" />
<rect x="94.53" y="220.7" width="16.74" height="10.2" fill="#e06268" />
<rect x="110.98" y="220.7" width="16.74" height="10.2" fill="#e27378" />
<rect x="127.42" y="220.7" width="16.74" height="10.2" fill="#e06268" />
<rect x="143.87" y="220.7" width="16.74" height="10.2" fill="#e06268" />
<rect x="160.31" y="220.7" width="16.74" height="10.2" fill="#e2777b" />
<rect x="176.76" y="220.7" width="16.74" height="10.2" fill="#e06268" />
<rect x="45.2" y="234.2" width="16.74" height="10.3" fill="#abb0d6" />
<rect x="61.64" y="234.2" width="16.74" height="10.3" fill="#c7c9e4" />
<rect x="78.09" y="234.2" width="16.74" height="10.3" fill="#f8e3e3" />
<rect x="94.53" y="234.2" width="16.74" height="10.3" fill="#c7c9e4" />
<rect x="110.98" y="234.2" width="16.74" height="10.3" fill="#c7c9e4" />
<rect x="127.42" y="234.2" width="16.74" height="10.3" fill="#a9aed6" />
<rect x="143.87" y="234.2" width="16.74" height="10.3" fill="#a9aed6" />
<rect x="160.31" y="234.2" width="16.74" height="10.3" fill="#bdc0e0" />
<rect x="176.76" y="234.2" width="16.74" height="10.3" fill="#979dcd" />
<rect x="197.4" y="207" width="16.76" height="10.8" fill="#9ca2cf" />
<rect x="213.86" y="207" width="16.76" height="10.8" fill="#4659a6" />
<rect x="230.31" y="207" width="16.76" height="10.8" fill="#8e95c8" />
<rect x="246.77" y="207" width="16.76" height="10.8" fill="#4659a6" />
<rect x="263.22" y="207" width="16.76" height="10.8" fill="#c9cbe5" />
<rect x="279.68" y="207" width="16.76" height="10.8" fill="#5b69b0" />
<rect x="296.13" y="207" width="16.76" height="10.8" fill="#5b69b0" />
<rect x="312.59" y="207" width="16.76" height="10.8" fill="#a1a6d1" />
<rect x="329.04" y="207" width="16.76" height="10.8" fill="#6170b4" />
<rect x="197.4" y="220.7" width="16.76" height="10.2" fill="#e27a7e" />
<rect x="213.86" y="220.7" width="16.76" height="10.2" fill="#e06a70" />
<rect x="230.31" y="220.7" width="16.76" height="10.2" fill="#e27478" />
<rect x="246.77" y="220.7" width="16.76" height="10.2" fill="#df5f65" />
<rect x="263.22" y="220.7" width="16.76" height="10.2" fill="#e68c90" />
<rect x="279.68" y="220.7" width="16.76" height="10.2" fill="#e06a6e" />
<rect x="296.13" y="220.7" width="16.76" height="10.2" fill="#e06a6e" />
<rect x="312.59" y="220.7" width="16.76" height="10.2" fill="#e47f83" />
<rect x="329.04" y="220.7" width="16.76" height="10.2" fill="#e27276" />
<rect x="197.4" y="234.2" width="16.76" height="10.3" fill="#3f55a3" />
<rect x="213.86" y="234.2" width="16.76" height="10.3" fill="#6b79b9" />
<rect x="230.31" y="234.2" width="16.76" height="10.3" fill="#3f55a3" />
<rect x="246.77" y="234.2" width="16.76" height="10.3" fill="#5b6aaf" />
<rect x="263.22" y="234.2" width="16.76" height="10.3" fill="#2f4c9e" />
<rect x="279.68" y="234.2" width="16.76" height="10.3" fill="#5565ad" />
<rect x="296.13" y="234.2" width="16.76" height="10.3" fill="#5a69b0" />
<rect x="312.59" y="234.2" width="16.76" height="10.3" fill="#4b5ea8" />
<rect x="329.04" y="234.2" width="16.76" height="10.3" fill="#5b6aaf" />
<line x1="53.42" y1="245.2" x2="53.42" y2="248.6" stroke="#333" stroke-width="0.9" />
<text x="56.42" y="255" font-size="6.4" text-anchor="end" fill="#1a1a1a" transform="rotate(-45 56.42 255)" >11_oxo</text>
<line x1="69.87" y1="245.2" x2="69.87" y2="248.6" stroke="#333" stroke-width="0.9" />
<text x="72.87" y="255" font-size="6.4" text-anchor="end" fill="#1a1a1a" transform="rotate(-45 72.87 255)" >4_oxo</text>
<line x1="86.31" y1="245.2" x2="86.31" y2="248.6" stroke="#333" stroke-width="0.9" />
<text x="89.31" y="255" font-size="6.4" text-anchor="end" fill="#1a1a1a" transform="rotate(-45 89.31 255)" >PAzPC</text>
<line x1="102.76" y1="245.2" x2="102.76" y2="248.6" stroke="#333" stroke-width="0.9" />
<text x="105.76" y="255" font-size="6.4" text-anchor="end" fill="#1a1a1a" transform="rotate(-45 105.76 255)" >PGPC</text>
<line x1="119.2" y1="245.2" x2="119.2" y2="248.6" stroke="#333" stroke-width="0.9" />
<text x="122.2" y="255" font-size="6.4" text-anchor="end" fill="#1a1a1a" transform="rotate(-45 122.2 255)" >PONPC</text>
<line x1="135.64" y1="245.2" x2="135.64" y2="248.6" stroke="#333" stroke-width="0.9" />
<text x="138.64" y="255" font-size="6.4" text-anchor="end" fill="#1a1a1a" transform="rotate(-45 138.64 255)" >POVPC</text>
<line x1="152.09" y1="245.2" x2="152.09" y2="248.6" stroke="#333" stroke-width="0.9" />
<text x="155.09" y="255" font-size="6.4" text-anchor="end" fill="#1a1a1a" transform="rotate(-45 155.09 255)" >SGPC</text>
<line x1="168.53" y1="245.2" x2="168.53" y2="248.6" stroke="#333" stroke-width="0.9" />
<text x="171.53" y="255" font-size="6.4" text-anchor="end" fill="#1a1a1a" transform="rotate(-45 171.53 255)" >SONPC</text>
<line x1="184.98" y1="245.2" x2="184.98" y2="248.6" stroke="#333" stroke-width="0.9" />
<text x="187.98" y="255" font-size="6.4" text-anchor="end" fill="#1a1a1a" transform="rotate(-45 187.98 255)" >SOVPC</text>
<line x1="205.63" y1="245.2" x2="205.63" y2="248.6" stroke="#333" stroke-width="0.9" />
<text x="208.63" y="255" font-size="6.4" text-anchor="end" fill="#1a1a1a" transform="rotate(-45 208.63 255)" >11_oxo/ PLPC</text>
<line x1="222.08" y1="245.2" x2="222.08" y2="248.6" stroke="#333" stroke-width="0.9" />
<text x="225.08" y="255" font-size="6.4" text-anchor="end" fill="#1a1a1a" transform="rotate(-45 225.08 255)" >4_oxo/PDHPC</text>
<line x1="238.54" y1="245.2" x2="238.54" y2="248.6" stroke="#333" stroke-width="0.9" />
<text x="241.54" y="255" font-size="6.4" text-anchor="end" fill="#1a1a1a" transform="rotate(-45 241.54 255)" >PAzPC/PLPC</text>
<line x1="254.99" y1="245.2" x2="254.99" y2="248.6" stroke="#333" stroke-width="0.9" />
<text x="257.99" y="255" font-size="6.4" text-anchor="end" fill="#1a1a1a" transform="rotate(-45 257.99 255)" >PGPC/PAPC</text>
<line x1="271.45" y1="245.2" x2="271.45" y2="248.6" stroke="#333" stroke-width="0.9" />
<text x="274.45" y="255" font-size="6.4" text-anchor="end" fill="#1a1a1a" transform="rotate(-45 274.45 255)" >PONPC/PLPC</text>
<line x1="287.91" y1="245.2" x2="287.91" y2="248.6" stroke="#333" stroke-width="0.9" />
<text x="290.91" y="255" font-size="6.4" text-anchor="end" fill="#1a1a1a" transform="rotate(-45 290.91 255)" >POVPC/PAPC</text>
<line x1="304.36" y1="245.2" x2="304.36" y2="248.6" stroke="#333" stroke-width="0.9" />
<text x="307.36" y="255" font-size="6.4" text-anchor="end" fill="#1a1a1a" transform="rotate(-45 307.36 255)" >SGPC/SAPC</text>
<line x1="320.82" y1="245.2" x2="320.82" y2="248.6" stroke="#333" stroke-width="0.9" />
<text x="323.82" y="255" font-size="6.4" text-anchor="end" fill="#1a1a1a" transform="rotate(-45 323.82 255)" >SONPC/SLPC</text>
<line x1="337.27" y1="245.2" x2="337.27" y2="248.6" stroke="#333" stroke-width="0.9" />
<text x="340.27" y="255" font-size="6.4" text-anchor="end" fill="#1a1a1a" transform="rotate(-45 340.27 255)" >SOVPC/SAPC</text>
<defs><linearGradient id="hcb" x1="0" y1="0" x2="0" y2="1"><stop offset="0" stop-color="#e8303e"/><stop offset="0.5" stop-color="#ffffff"/><stop offset="1" stop-color="#2f4f9f"/></linearGradient><linearGradient id="kcb" x1="0" y1="0" x2="0" y2="1"><stop offset="0" stop-color="#e31a1c"/><stop offset="0.58" stop-color="#ffffff"/><stop offset="1" stop-color="#6a6aac"/></linearGradient></defs>
<rect x="355.2" y="206.9" width="5.6" height="18.6" fill="url(#hcb)" stroke="#666" stroke-width="0.6" />
<line x1="355.2" y1="209.4" x2="356" y2="209.4" stroke="#222" stroke-width="0.6" />
<line x1="360" y1="209.4" x2="360.8" y2="209.4" stroke="#222" stroke-width="0.6" />
<text x="363.6" y="211.4" font-size="5.6" fill="#222" >1</text>
<line x1="355.2" y1="216.6" x2="356" y2="216.6" stroke="#222" stroke-width="0.6" />
<line x1="360" y1="216.6" x2="360.8" y2="216.6" stroke="#222" stroke-width="0.6" />
<text x="363.6" y="218.6" font-size="5.6" fill="#222" >0</text>
<line x1="355.2" y1="223.4" x2="356" y2="223.4" stroke="#222" stroke-width="0.6" />
<line x1="360" y1="223.4" x2="360.8" y2="223.4" stroke="#222" stroke-width="0.6" />
<text x="362.6" y="225.4" font-size="5.6" fill="#222" >-1</text>
<text x="366.28" y="165" font-size="10.2" font-weight="bold" fill="#151515" >G</text>
<text x="445.8" y="166.4" font-size="8.3" fill="#222" >Arachidonic acid (AA)-derived lipid mediators</text>
<line x1="407.2" y1="168.8" x2="650.5" y2="168.8" stroke="#8a8a8a" stroke-width="1.6" />
<text x="435.7" y="187.2" font-size="8.2" text-anchor="middle" fill="#222" >LOX products</text>
<text x="539.3" y="187.2" font-size="8.2" text-anchor="middle" fill="#222" >COX products</text>
<text x="640.5" y="187.2" font-size="8.2" text-anchor="middle" fill="#222" >Non-enzymatic products</text>
<line x1="402.3" y1="281.4" x2="402.3" y2="198.3" stroke="#1a1a1a" stroke-width="1" />
<line x1="399.3" y1="281.4" x2="402.3" y2="281.4" stroke="#1a1a1a" stroke-width="1" />
<text x="398.3" y="281.4" font-size="6.4" font-weight="bold" text-anchor="end" dominant-baseline="central" >0.0</text>
<line x1="399.3" y1="264.78" x2="402.3" y2="264.78" stroke="#1a1a1a" stroke-width="1" />
<text x="398.3" y="264.78" font-size="6.4" font-weight="bold" text-anchor="end" dominant-baseline="central" >0.5</text>
<line x1="399.3" y1="248.16" x2="402.3" y2="248.16" stroke="#1a1a1a" stroke-width="1" />
<text x="398.3" y="248.16" font-size="6.4" font-weight="bold" text-anchor="end" dominant-baseline="central" >1.0</text>
<line x1="399.3" y1="231.54" x2="402.3" y2="231.54" stroke="#1a1a1a" stroke-width="1" />
<text x="398.3" y="231.54" font-size="6.4" font-weight="bold" text-anchor="end" dominant-baseline="central" >1.5</text>
<line x1="399.3" y1="214.92" x2="402.3" y2="214.92" stroke="#1a1a1a" stroke-width="1" />
<text x="398.3" y="214.92" font-size="6.4" font-weight="bold" text-anchor="end" dominant-baseline="central" >2.0</text>
<line x1="399.3" y1="198.3" x2="402.3" y2="198.3" stroke="#1a1a1a" stroke-width="1" />
<text x="398.3" y="198.3" font-size="6.4" font-weight="bold" text-anchor="end" dominant-baseline="central" >2.5</text>
<line x1="402.3" y1="281.4" x2="468.9" y2="281.4" stroke="#1a1a1a" stroke-width="1" />
<line x1="410" y1="281.4" x2="410" y2="284.4" stroke="#1a1a1a" stroke-width="1" />
<text x="410" y="291.6" font-size="6.6" text-anchor="middle" fill="#222" >T0</text>
<line x1="427.4" y1="281.4" x2="427.4" y2="284.4" stroke="#1a1a1a" stroke-width="1" />
<text x="427.4" y="291.6" font-size="6.6" text-anchor="middle" fill="#222" >T6</text>
<line x1="444" y1="281.4" x2="444" y2="284.4" stroke="#1a1a1a" stroke-width="1" />
<text x="444" y="291.6" font-size="6.6" text-anchor="middle" fill="#222" >T24</text>
<line x1="461.4" y1="281.4" x2="461.4" y2="284.4" stroke="#1a1a1a" stroke-width="1" />
<text x="461.4" y="291.6" font-size="6.6" text-anchor="middle" fill="#222" >T48</text>
<rect x="405" y="259.79" width="3.4" height="21.61" fill="#e58991" stroke="#e8414c" stroke-width="0.8" />
<line x1="406.7" y1="257.47" x2="406.7" y2="261.46" stroke="#1a1a1a" stroke-width="0.7" />
<line x1="405.1" y1="257.47" x2="408.3" y2="257.47" stroke="#1a1a1a" stroke-width="0.7" />
<line x1="405.1" y1="261.46" x2="408.3" y2="261.46" stroke="#1a1a1a" stroke-width="0.7" />
<circle cx="405.7" cy="257.47" r="1.3" fill="#111" />
<circle cx="407.7" cy="258.13" r="1.3" fill="#111" />
<circle cx="406.7" cy="259.46" r="1.3" fill="#111" />
<circle cx="405.7" cy="260.79" r="1.3" fill="#111" />
<circle cx="406.7" cy="262.12" r="1.3" fill="#111" />
<rect x="412" y="260.46" width="3.4" height="20.94" fill="#f3b47c" stroke="#f0923b" stroke-width="0.8" />
<circle cx="413.7" cy="259.79" r="1.3" fill="#111" />
<circle cx="413.7" cy="260.13" r="1.3" fill="#111" />
<rect x="422" y="252.15" width="3.4" height="29.25" fill="#e58991" stroke="#e8414c" stroke-width="0.8" />
<line x1="423.7" y1="239.85" x2="423.7" y2="264.78" stroke="#1a1a1a" stroke-width="0.7" />
<line x1="422.1" y1="239.85" x2="425.3" y2="239.85" stroke="#1a1a1a" stroke-width="0.7" />
<line x1="422.1" y1="264.78" x2="425.3" y2="264.78" stroke="#1a1a1a" stroke-width="0.7" />
<circle cx="423.7" cy="240.18" r="1.3" fill="#111" />
<circle cx="422.7" cy="250.82" r="1.3" fill="#111" />
<circle cx="424.7" cy="251.48" r="1.3" fill="#111" />
<circle cx="423.7" cy="252.81" r="1.3" fill="#111" />
<circle cx="422.7" cy="264.78" r="1.3" fill="#111" />
<circle cx="423.7" cy="266.44" r="1.3" fill="#111" />
<rect x="428.4" y="253.81" width="3.4" height="27.59" fill="#f3b47c" stroke="#f0923b" stroke-width="0.8" />
<line x1="430.1" y1="242.18" x2="430.1" y2="263.12" stroke="#1a1a1a" stroke-width="0.7" />
<line x1="428.5" y1="242.18" x2="431.7" y2="242.18" stroke="#1a1a1a" stroke-width="0.7" />
<line x1="428.5" y1="263.12" x2="431.7" y2="263.12" stroke="#1a1a1a" stroke-width="0.7" />
<circle cx="430.1" cy="242.18" r="1.3" fill="#111" />
<circle cx="430.1" cy="244.17" r="1.3" fill="#111" />
<circle cx="430.1" cy="262.12" r="1.3" fill="#111" />
<circle cx="430.1" cy="263.12" r="1.3" fill="#111" />
<rect x="439.4" y="254.14" width="3.4" height="27.26" fill="#e58991" stroke="#e8414c" stroke-width="0.8" />
<line x1="441.1" y1="241.51" x2="441.1" y2="264.78" stroke="#1a1a1a" stroke-width="0.7" />
<line x1="439.5" y1="241.51" x2="442.7" y2="241.51" stroke="#1a1a1a" stroke-width="0.7" />
<line x1="439.5" y1="264.78" x2="442.7" y2="264.78" stroke="#1a1a1a" stroke-width="0.7" />
<circle cx="441.1" cy="222.57" r="1.3" fill="#111" />
<circle cx="441.1" cy="239.85" r="1.3" fill="#111" />
<circle cx="440.1" cy="241.51" r="1.3" fill="#111" />
<circle cx="441.1" cy="253.15" r="1.3" fill="#111" />
<circle cx="441.1" cy="259.46" r="1.3" fill="#111" />
<circle cx="441.1" cy="261.46" r="1.3" fill="#111" />
<circle cx="441.1" cy="264.78" r="1.3" fill="#111" />
<rect x="445.4" y="250.82" width="3.4" height="30.58" fill="#f3b47c" stroke="#f0923b" stroke-width="0.8" />
<line x1="447.1" y1="243.17" x2="447.1" y2="260.79" stroke="#1a1a1a" stroke-width="0.7" />
<line x1="445.5" y1="243.17" x2="448.7" y2="243.17" stroke="#1a1a1a" stroke-width="0.7" />
<line x1="445.5" y1="260.79" x2="448.7" y2="260.79" stroke="#1a1a1a" stroke-width="0.7" />
<circle cx="447.1" cy="243.17" r="1.3" fill="#111" />
<circle cx="447.1" cy="244.84" r="1.3" fill="#111" />
<circle cx="447.1" cy="250.82" r="1.3" fill="#111" />
<circle cx="447.1" cy="255.47" r="1.3" fill="#111" />
<circle cx="447.1" cy="260.79" r="1.3" fill="#111" />
<rect x="457" y="244.84" width="3.4" height="36.56" fill="#e58991" stroke="#e8414c" stroke-width="0.8" />
<line x1="458.7" y1="225.56" x2="458.7" y2="263.12" stroke="#1a1a1a" stroke-width="0.7" />
<line x1="457.1" y1="225.56" x2="460.3" y2="225.56" stroke="#1a1a1a" stroke-width="0.7" />
<line x1="457.1" y1="263.12" x2="460.3" y2="263.12" stroke="#1a1a1a" stroke-width="0.7" />
<circle cx="458.7" cy="221.57" r="1.3" fill="#111" />
<circle cx="458.7" cy="223.23" r="1.3" fill="#111" />
<circle cx="458.7" cy="239.85" r="1.3" fill="#111" />
<circle cx="458.7" cy="244.84" r="1.3" fill="#111" />
<circle cx="458.7" cy="248.82" r="1.3" fill="#111" />
<circle cx="458.7" cy="253.15" r="1.3" fill="#111" />
<circle cx="458.7" cy="260.79" r="1.3" fill="#111" />
<rect x="463.4" y="246.5" width="3.4" height="34.9" fill="#f3b47c" stroke="#f0923b" stroke-width="0.8" />
<line x1="465.1" y1="230.88" x2="465.1" y2="262.45" stroke="#1a1a1a" stroke-width="0.7" />
<line x1="463.5" y1="230.88" x2="466.7" y2="230.88" stroke="#1a1a1a" stroke-width="0.7" />
<line x1="463.5" y1="262.45" x2="466.7" y2="262.45" stroke="#1a1a1a" stroke-width="0.7" />
<circle cx="465.1" cy="230.88" r="1.3" fill="#111" />
<circle cx="465.1" cy="262.12" r="1.3" fill="#111" />
<text x="384.5" y="239.85" font-size="7.3" text-anchor="middle" fill="#222" transform="rotate(-90 384.5 239.85)" >Log10 (pg/ng AA +1)</text>
<line x1="505.5" y1="281.3" x2="505.5" y2="198.1" stroke="#1a1a1a" stroke-width="1" />
<line x1="502.5" y1="281.3" x2="505.5" y2="281.3" stroke="#1a1a1a" stroke-width="1" />
<text x="501.5" y="281.3" font-size="6.4" font-weight="bold" text-anchor="end" dominant-baseline="central" >0</text>
<line x1="502.5" y1="260.5" x2="505.5" y2="260.5" stroke="#1a1a1a" stroke-width="1" />
<text x="501.5" y="260.5" font-size="6.4" font-weight="bold" text-anchor="end" dominant-baseline="central" >1</text>
<line x1="502.5" y1="239.7" x2="505.5" y2="239.7" stroke="#1a1a1a" stroke-width="1" />
<text x="501.5" y="239.7" font-size="6.4" font-weight="bold" text-anchor="end" dominant-baseline="central" >2</text>
<line x1="502.5" y1="218.9" x2="505.5" y2="218.9" stroke="#1a1a1a" stroke-width="1" />
<text x="501.5" y="218.9" font-size="6.4" font-weight="bold" text-anchor="end" dominant-baseline="central" >3</text>
<line x1="502.5" y1="198.1" x2="505.5" y2="198.1" stroke="#1a1a1a" stroke-width="1" />
<text x="501.5" y="198.1" font-size="6.4" font-weight="bold" text-anchor="end" dominant-baseline="central" >4</text>
<line x1="505.5" y1="281.3" x2="572.6" y2="281.3" stroke="#1a1a1a" stroke-width="1" />
<line x1="513.8" y1="281.3" x2="513.8" y2="284.3" stroke="#1a1a1a" stroke-width="1" />
<text x="513.8" y="291.6" font-size="6.6" text-anchor="middle" fill="#222" >T0</text>
<line x1="530" y1="281.3" x2="530" y2="284.3" stroke="#1a1a1a" stroke-width="1" />
<text x="530" y="291.6" font-size="6.6" text-anchor="middle" fill="#222" >T6</text>
<line x1="546.6" y1="281.3" x2="546.6" y2="284.3" stroke="#1a1a1a" stroke-width="1" />
<text x="546.6" y="291.6" font-size="6.6" text-anchor="middle" fill="#222" >T24</text>
<line x1="563.9" y1="281.3" x2="563.9" y2="284.3" stroke="#1a1a1a" stroke-width="1" />
<text x="563.9" y="291.6" font-size="6.6" text-anchor="middle" fill="#222" >T48</text>
<rect x="508.6" y="280.26" width="3.4" height="1.04" fill="#e58991" stroke="#e8414c" stroke-width="0.8" />
<circle cx="509.3" cy="279.84" r="1.3" fill="#111" />
<circle cx="511.3" cy="280.47" r="1.3" fill="#111" />
<circle cx="510.3" cy="280.88" r="1.3" fill="#111" />
<rect x="515.2" y="280.68" width="3.4" height="0.62" fill="#f3b47c" stroke="#f0923b" stroke-width="0.8" />
<circle cx="516.9" cy="280.88" r="1.3" fill="#111" />
<rect x="525.6" y="261.96" width="3.4" height="19.34" fill="#e58991" stroke="#e8414c" stroke-width="0.8" />
<line x1="527.3" y1="254.26" x2="527.3" y2="281.3" stroke="#1a1a1a" stroke-width="0.7" />
<line x1="525.7" y1="254.26" x2="528.9" y2="254.26" stroke="#1a1a1a" stroke-width="0.7" />
<line x1="525.7" y1="281.3" x2="528.9" y2="281.3" stroke="#1a1a1a" stroke-width="0.7" />
<circle cx="527.3" cy="246.36" r="1.3" fill="#111" />
<circle cx="526.3" cy="254.26" r="1.3" fill="#111" />
<circle cx="528.3" cy="255.3" r="1.3" fill="#111" />
<circle cx="527.3" cy="258.42" r="1.3" fill="#111" />
<circle cx="527.3" cy="262.16" r="1.3" fill="#111" />
<circle cx="526.3" cy="262.58" r="1.3" fill="#111" />
<circle cx="527.3" cy="280.88" r="1.3" fill="#111" />
<rect x="531.7" y="260.92" width="3.4" height="20.38" fill="#f3b47c" stroke="#f0923b" stroke-width="0.8" />
<line x1="533.4" y1="253.64" x2="533.4" y2="270.9" stroke="#1a1a1a" stroke-width="0.7" />
<line x1="531.8" y1="253.64" x2="535" y2="253.64" stroke="#1a1a1a" stroke-width="0.7" />
<line x1="531.8" y1="270.9" x2="535" y2="270.9" stroke="#1a1a1a" stroke-width="0.7" />
<circle cx="533.4" cy="253.22" r="1.3" fill="#111" />
<circle cx="533.4" cy="262.58" r="1.3" fill="#111" />
<circle cx="533.4" cy="268.82" r="1.3" fill="#111" />
<rect x="542.7" y="264.04" width="3.4" height="17.26" fill="#e58991" stroke="#e8414c" stroke-width="0.8" />
<line x1="544.4" y1="247.6" x2="544.4" y2="281.3" stroke="#1a1a1a" stroke-width="0.7" />
<line x1="542.8" y1="247.6" x2="546" y2="247.6" stroke="#1a1a1a" stroke-width="0.7" />
<line x1="542.8" y1="281.3" x2="546" y2="281.3" stroke="#1a1a1a" stroke-width="0.7" />
<circle cx="544.4" cy="235.54" r="1.3" fill="#111" />
<circle cx="544.4" cy="246.36" r="1.3" fill="#111" />
<circle cx="543.4" cy="246.98" r="1.3" fill="#111" />
<circle cx="544.4" cy="275.06" r="1.3" fill="#111" />
<circle cx="544.4" cy="276.1" r="1.3" fill="#111" />
<circle cx="544.4" cy="281.3" r="1.3" fill="#111" />
<rect x="548.9" y="256.96" width="3.4" height="24.34" fill="#f3b47c" stroke="#f0923b" stroke-width="0.8" />
<line x1="550.6" y1="251.14" x2="550.6" y2="268.82" stroke="#1a1a1a" stroke-width="0.7" />
<line x1="549" y1="251.14" x2="552.2" y2="251.14" stroke="#1a1a1a" stroke-width="0.7" />
<line x1="549" y1="268.82" x2="552.2" y2="268.82" stroke="#1a1a1a" stroke-width="0.7" />
<circle cx="550.6" cy="250.1" r="1.3" fill="#111" />
<circle cx="550.6" cy="258.42" r="1.3" fill="#111" />
<circle cx="550.6" cy="264.66" r="1.3" fill="#111" />
<circle cx="550.6" cy="268.82" r="1.3" fill="#111" />
<rect x="559.6" y="247.6" width="3.4" height="33.7" fill="#e58991" stroke="#e8414c" stroke-width="0.8" />
<line x1="561.3" y1="225.14" x2="561.3" y2="265.08" stroke="#1a1a1a" stroke-width="0.7" />
<line x1="559.7" y1="225.14" x2="562.9" y2="225.14" stroke="#1a1a1a" stroke-width="0.7" />
<line x1="559.7" y1="265.08" x2="562.9" y2="265.08" stroke="#1a1a1a" stroke-width="0.7" />
<circle cx="561.3" cy="217.86" r="1.3" fill="#111" />
<circle cx="561.3" cy="224.1" r="1.3" fill="#111" />
<circle cx="561.3" cy="235.54" r="1.3" fill="#111" />
<circle cx="561.3" cy="245.94" r="1.3" fill="#111" />
<circle cx="561.3" cy="250.1" r="1.3" fill="#111" />
<circle cx="561.3" cy="262.58" r="1.3" fill="#111" />
<circle cx="561.3" cy="265.08" r="1.3" fill="#111" />
<rect x="565.6" y="249.48" width="3.4" height="31.82" fill="#f3b47c" stroke="#f0923b" stroke-width="0.8" />
<line x1="567.3" y1="226.18" x2="567.3" y2="281.3" stroke="#9a9a9a" stroke-width="0.7" />
<line x1="565.7" y1="226.18" x2="568.9" y2="226.18" stroke="#9a9a9a" stroke-width="0.7" />
<line x1="565.7" y1="281.3" x2="568.9" y2="281.3" stroke="#9a9a9a" stroke-width="0.7" />
<circle cx="567.3" cy="281.3" r="1.3" fill="#111" />
<text x="492.5" y="239.7" font-size="7.3" text-anchor="middle" fill="#222" transform="rotate(-90 492.5 239.7)" >Log10 (pg/ng AA +1)</text>
<line x1="607.3" y1="281.5" x2="607.3" y2="198.1" stroke="#1a1a1a" stroke-width="1" />
<line x1="604.3" y1="281.5" x2="607.3" y2="281.5" stroke="#1a1a1a" stroke-width="1" />
<text x="603.3" y="281.5" font-size="6.4" font-weight="bold" text-anchor="end" dominant-baseline="central" >0.0</text>
<line x1="604.3" y1="260.65" x2="607.3" y2="260.65" stroke="#1a1a1a" stroke-width="1" />
<text x="603.3" y="260.65" font-size="6.4" font-weight="bold" text-anchor="end" dominant-baseline="central" >0.5</text>
<line x1="604.3" y1="239.8" x2="607.3" y2="239.8" stroke="#1a1a1a" stroke-width="1" />
<text x="603.3" y="239.8" font-size="6.4" font-weight="bold" text-anchor="end" dominant-baseline="central" >1.0</text>
<line x1="604.3" y1="218.95" x2="607.3" y2="218.95" stroke="#1a1a1a" stroke-width="1" />
<text x="603.3" y="218.95" font-size="6.4" font-weight="bold" text-anchor="end" dominant-baseline="central" >1.5</text>
<line x1="604.3" y1="198.1" x2="607.3" y2="198.1" stroke="#1a1a1a" stroke-width="1" />
<text x="603.3" y="198.1" font-size="6.4" font-weight="bold" text-anchor="end" dominant-baseline="central" >2.0</text>
<line x1="607.3" y1="281.5" x2="674.2" y2="281.5" stroke="#1a1a1a" stroke-width="1" />
<line x1="615.3" y1="281.5" x2="615.3" y2="284.5" stroke="#1a1a1a" stroke-width="1" />
<text x="615.3" y="291.6" font-size="6.6" text-anchor="middle" fill="#222" >T0</text>
<line x1="632.6" y1="281.5" x2="632.6" y2="284.5" stroke="#1a1a1a" stroke-width="1" />
<text x="632.6" y="291.6" font-size="6.6" text-anchor="middle" fill="#222" >T6</text>
<line x1="648.9" y1="281.5" x2="648.9" y2="284.5" stroke="#1a1a1a" stroke-width="1" />
<text x="648.9" y="291.6" font-size="6.6" text-anchor="middle" fill="#222" >T24</text>
<line x1="665.1" y1="281.5" x2="665.1" y2="284.5" stroke="#1a1a1a" stroke-width="1" />
<text x="665.1" y="291.6" font-size="6.6" text-anchor="middle" fill="#222" >T48</text>
<circle cx="611.3" cy="281.5" r="1.3" fill="#111" />
<circle cx="613.3" cy="281.5" r="1.3" fill="#111" />
<circle cx="618.6" cy="281.5" r="1.3" fill="#111" />
<rect x="627.6" y="277.33" width="3.4" height="4.17" fill="#e58991" stroke="#e8414c" stroke-width="0.8" />
<line x1="629.3" y1="268.99" x2="629.3" y2="281.5" stroke="#1a1a1a" stroke-width="0.7" />
<line x1="627.7" y1="268.99" x2="630.9" y2="268.99" stroke="#1a1a1a" stroke-width="0.7" />
<line x1="627.7" y1="281.5" x2="630.9" y2="281.5" stroke="#1a1a1a" stroke-width="0.7" />
<circle cx="629.3" cy="258.56" r="1.3" fill="#111" />
<circle cx="629.3" cy="268.57" r="1.3" fill="#111" />
<circle cx="628.3" cy="270.24" r="1.3" fill="#111" />
<circle cx="629.3" cy="273.16" r="1.3" fill="#111" />
<circle cx="629.3" cy="277.33" r="1.3" fill="#111" />
<circle cx="629.3" cy="280.67" r="1.3" fill="#111" />
<circle cx="628.3" cy="281.5" r="1.3" fill="#111" />
<circle cx="630.3" cy="281.5" r="1.3" fill="#111" />
<rect x="633.6" y="278.16" width="3.4" height="3.34" fill="#f3b47c" stroke="#f0923b" stroke-width="0.8" />
<line x1="635.3" y1="267.74" x2="635.3" y2="281.5" stroke="#1a1a1a" stroke-width="0.7" />
<line x1="633.7" y1="267.74" x2="636.9" y2="267.74" stroke="#1a1a1a" stroke-width="0.7" />
<line x1="633.7" y1="281.5" x2="636.9" y2="281.5" stroke="#1a1a1a" stroke-width="0.7" />
<circle cx="635.3" cy="267.74" r="1.3" fill="#111" />
<circle cx="635.3" cy="273.16" r="1.3" fill="#111" />
<circle cx="635.3" cy="278.16" r="1.3" fill="#111" />
<circle cx="635.3" cy="281.5" r="1.3" fill="#111" />
<line x1="646.4" y1="257.73" x2="646.4" y2="281.5" stroke="#1a1a1a" stroke-width="0.7" />
<line x1="644.8" y1="257.73" x2="648" y2="257.73" stroke="#1a1a1a" stroke-width="0.7" />
<line x1="644.8" y1="281.5" x2="648" y2="281.5" stroke="#1a1a1a" stroke-width="0.7" />
<circle cx="646.4" cy="246.89" r="1.3" fill="#111" />
<circle cx="646.4" cy="257.73" r="1.3" fill="#111" />
<circle cx="646.4" cy="266.07" r="1.3" fill="#111" />
<circle cx="645.4" cy="281.5" r="1.3" fill="#111" />
<circle cx="647.4" cy="281.5" r="1.3" fill="#111" />
<line x1="652.8" y1="270.24" x2="652.8" y2="281.5" stroke="#1a1a1a" stroke-width="0.7" />
<line x1="651.2" y1="270.24" x2="654.4" y2="270.24" stroke="#1a1a1a" stroke-width="0.7" />
<line x1="651.2" y1="281.5" x2="654.4" y2="281.5" stroke="#1a1a1a" stroke-width="0.7" />
<circle cx="652.8" cy="266.9" r="1.3" fill="#111" />
<circle cx="652.8" cy="281.5" r="1.3" fill="#111" />
<rect x="661.6" y="262.32" width="3.4" height="19.18" fill="#e58991" stroke="#e8414c" stroke-width="0.8" />
<line x1="663.3" y1="224.79" x2="663.3" y2="281.5" stroke="#1a1a1a" stroke-width="0.7" />
<line x1="661.7" y1="224.79" x2="664.9" y2="224.79" stroke="#1a1a1a" stroke-width="0.7" />
<line x1="661.7" y1="281.5" x2="664.9" y2="281.5" stroke="#1a1a1a" stroke-width="0.7" />
<circle cx="663.3" cy="207.27" r="1.3" fill="#111" />
<circle cx="663.3" cy="220.2" r="1.3" fill="#111" />
<circle cx="663.3" cy="237.72" r="1.3" fill="#111" />
<circle cx="663.3" cy="261.9" r="1.3" fill="#111" />
<circle cx="663.3" cy="262.74" r="1.3" fill="#111" />
<circle cx="662.3" cy="281.5" r="1.3" fill="#111" />
<circle cx="664.3" cy="281.5" r="1.3" fill="#111" />
<circle cx="669.7" cy="281.5" r="1.3" fill="#111" />
<line x1="669.7" y1="223.12" x2="669.7" y2="281.5" stroke="#bbb" stroke-width="0.8" />
<line x1="668.1" y1="223.12" x2="671.3" y2="223.12" stroke="#bbb" stroke-width="0.8" />
<text x="0.22" y="306.8" font-size="10.2" font-weight="bold" fill="#151515" >H</text>
<path d="M60.4,358.9 L62.5,357.6 L68.4,357.6 L70.5,358.9 L68.4,360.2 L62.5,360.2 Z" fill="#f0923b" stroke="#f0923b" stroke-width="0.8" />
<line x1="27.6" y1="406.95" x2="27.6" y2="335.85" stroke="#1a1a1a" stroke-width="1" />
<line x1="24.6" y1="406.95" x2="27.6" y2="406.95" stroke="#1a1a1a" stroke-width="1" />
<text x="23.6" y="406.95" font-size="5.9" font-weight="bold" text-anchor="end" dominant-baseline="central" >-0.6</text>
<line x1="24.6" y1="395.1" x2="27.6" y2="395.1" stroke="#1a1a1a" stroke-width="1" />
<text x="23.6" y="395.1" font-size="5.9" font-weight="bold" text-anchor="end" dominant-baseline="central" >-0.4</text>
<line x1="24.6" y1="383.25" x2="27.6" y2="383.25" stroke="#1a1a1a" stroke-width="1" />
<text x="23.6" y="383.25" font-size="5.9" font-weight="bold" text-anchor="end" dominant-baseline="central" >-0.2</text>
<line x1="24.6" y1="371.4" x2="27.6" y2="371.4" stroke="#1a1a1a" stroke-width="1" />
<text x="23.6" y="371.4" font-size="5.9" font-weight="bold" text-anchor="end" dominant-baseline="central" >0.0</text>
<line x1="24.6" y1="359.55" x2="27.6" y2="359.55" stroke="#1a1a1a" stroke-width="1" />
<text x="23.6" y="359.55" font-size="5.9" font-weight="bold" text-anchor="end" dominant-baseline="central" >0.2</text>
<line x1="24.6" y1="347.7" x2="27.6" y2="347.7" stroke="#1a1a1a" stroke-width="1" />
<text x="23.6" y="347.7" font-size="5.9" font-weight="bold" text-anchor="end" dominant-baseline="central" >0.4</text>
<line x1="24.6" y1="335.85" x2="27.6" y2="335.85" stroke="#1a1a1a" stroke-width="1" />
<text x="23.6" y="335.85" font-size="5.9" font-weight="bold" text-anchor="end" dominant-baseline="central" >0.6</text>
<line x1="27.6" y1="406.95" x2="75.2" y2="406.95" stroke="#1a1a1a" stroke-width="1" />
<line x1="27.6" y1="371.4" x2="75.2" y2="371.4" stroke="#333" stroke-width="0.9" stroke-dasharray="0.9 1.3" />
<text x="49.4" y="321.6" font-size="7" text-anchor="middle" fill="#222" >WP_Ferroptosis</text>
<line x1="36.8" y1="406.95" x2="36.8" y2="409.95" stroke="#1a1a1a" stroke-width="1" />
<text x="39.4" y="414.95" font-size="7.5" text-anchor="end" fill="#222" transform="rotate(-47 39.4 414.95)" >Control</text>
<line x1="51" y1="406.95" x2="51" y2="409.95" stroke="#1a1a1a" stroke-width="1" />
<text x="53.6" y="414.95" font-size="7.5" text-anchor="end" fill="#222" transform="rotate(-47 53.6 414.95)" >RBC-based</text>
<line x1="65.3" y1="406.95" x2="65.3" y2="409.95" stroke="#1a1a1a" stroke-width="1" />
<text x="67.9" y="414.95" font-size="7.5" text-anchor="end" fill="#222" transform="rotate(-47 67.9 414.95)" >fHb removal</text>
<line x1="36.8" y1="334.3" x2="65.4" y2="334.3" stroke="#333" stroke-width="0.8" />
<text x="51.1" y="332.3" font-size="5.9" text-anchor="middle" fill="#333" >0.0291</text>
<line x1="36.8" y1="343.2" x2="51.4" y2="343.2" stroke="#333" stroke-width="0.8" />
<text x="44.1" y="341.2" font-size="5.9" text-anchor="middle" fill="#333" >0.0003</text>
<line x1="37.1" y1="367.25" x2="37.1" y2="369.03" stroke="#555" stroke-width="0.9" />
<line x1="37.1" y1="389.17" x2="37.1" y2="397.47" stroke="#555" stroke-width="0.9" />
<line x1="35.3" y1="367.25" x2="38.9" y2="367.25" stroke="#555" stroke-width="0.9" />
<line x1="35.3" y1="397.47" x2="38.9" y2="397.47" stroke="#555" stroke-width="0.9" />
<rect x="32.6" y="369.03" width="9" height="20.14" fill="#c9c9c9" stroke="#555" stroke-width="0.9" />
<line x1="32.6" y1="378.51" x2="41.6" y2="378.51" stroke="#555" stroke-width="0.9" />
<line x1="51" y1="345.92" x2="51" y2="350.07" stroke="#e8414c" stroke-width="0.9" />
<line x1="51" y1="365.47" x2="51" y2="370.81" stroke="#e8414c" stroke-width="0.9" />
<line x1="49.2" y1="345.92" x2="52.8" y2="345.92" stroke="#e8414c" stroke-width="0.9" />
<line x1="49.2" y1="370.81" x2="52.8" y2="370.81" stroke="#e8414c" stroke-width="0.9" />
<rect x="46.2" y="350.07" width="9.6" height="15.4" fill="#e58991" stroke="#e8414c" stroke-width="0.9" />
<line x1="46.2" y1="356" x2="55.8" y2="356" stroke="#e8414c" stroke-width="0.9" />
<line x1="65.4" y1="357.77" x2="65.4" y2="358.36" stroke="#f0923b" stroke-width="0.9" />
<line x1="65.4" y1="359.55" x2="65.4" y2="360.14" stroke="#f0923b" stroke-width="0.9" />
<line x1="63.6" y1="357.77" x2="67.2" y2="357.77" stroke="#f0923b" stroke-width="0.9" />
<line x1="63.6" y1="360.14" x2="67.2" y2="360.14" stroke="#f0923b" stroke-width="0.9" />
<rect x="60.6" y="358.36" width="9.6" height="1.19" fill="#f3b47c" stroke="#f0923b" stroke-width="0.9" />
<line x1="60.6" y1="358.96" x2="70.2" y2="358.96" stroke="#f0923b" stroke-width="0.9" />
<path d="M32.40,367.16 L35.60,367.16 L34.00,369.88 Z" fill="#111" />
<path d="M35.20,366.56 L38.40,366.56 L36.80,369.28 Z" fill="#111" />
<path d="M38.00,366.56 L41.20,366.56 L39.60,369.28 Z" fill="#111" />
<path d="M39.40,365.97 L42.60,365.97 L41.00,368.69 Z" fill="#111" />
<circle cx="34" cy="372.58" r="1.3" fill="#111" />
<circle cx="37.5" cy="372.58" r="1.3" fill="#111" />
<circle cx="34.8" cy="376.73" r="1.3" fill="#111" />
<circle cx="37.8" cy="377.32" r="1.3" fill="#111" />
<path d="M38.60,376.05 L41.80,376.05 L40.20,378.76 Z" fill="#111" />
<circle cx="34.5" cy="389.17" r="1.3" fill="#111" />
<path d="M38.90,386.71 L42.10,386.71 L40.50,389.43 Z" fill="#111" />
<circle cx="37.2" cy="390.36" r="1.3" fill="#111" />
<path d="M39.20,389.08 L42.40,389.08 L40.80,391.80 Z" fill="#111" />
<circle cx="37.1" cy="397.47" r="1.3" fill="#111" />
<path d="M49.40,344.64 L52.60,344.64 L51.00,347.36 Z" fill="#111" />
<circle cx="51" cy="349.48" r="1.3" fill="#111" />
<circle cx="48" cy="355.4" r="1.3" fill="#111" />
<circle cx="51" cy="356.59" r="1.3" fill="#111" />
<circle cx="54" cy="356" r="1.3" fill="#111" />
<circle cx="51" cy="364.29" r="1.3" fill="#111" />
<circle cx="51" cy="370.81" r="1.3" fill="#111" />
<path d="M63.80,355.90 L67.00,355.90 L65.40,358.62 Z" fill="#111" />
<circle cx="65.4" cy="360.73" r="1.3" fill="#111" />
<text x="11.6" y="371.4" font-size="6.1" text-anchor="middle" fill="#222" transform="rotate(-90 11.6 371.4)" >Enrichment Score</text>
<text x="96.32" y="306.8" font-size="10.2" font-weight="bold" fill="#151515" >I</text>
<path d="M157.0,363.3 L159.1,362.0 L165.0,362.0 L167.1,363.3 L165.0,364.6 L159.1,364.6 Z" fill="#f0923b" stroke="#f0923b" stroke-width="0.8" />
<line x1="123.4" y1="407.2" x2="123.4" y2="335.6" stroke="#1a1a1a" stroke-width="1" />
<line x1="120.4" y1="407.2" x2="123.4" y2="407.2" stroke="#1a1a1a" stroke-width="1" />
<text x="119.4" y="407.2" font-size="5.9" font-weight="bold" text-anchor="end" dominant-baseline="central" >-0.4</text>
<line x1="120.4" y1="389.3" x2="123.4" y2="389.3" stroke="#1a1a1a" stroke-width="1" />
<text x="119.4" y="389.3" font-size="5.9" font-weight="bold" text-anchor="end" dominant-baseline="central" >-0.2</text>
<line x1="120.4" y1="371.4" x2="123.4" y2="371.4" stroke="#1a1a1a" stroke-width="1" />
<text x="119.4" y="371.4" font-size="5.9" font-weight="bold" text-anchor="end" dominant-baseline="central" >0.0</text>
<line x1="120.4" y1="353.5" x2="123.4" y2="353.5" stroke="#1a1a1a" stroke-width="1" />
<text x="119.4" y="353.5" font-size="5.9" font-weight="bold" text-anchor="end" dominant-baseline="central" >0.2</text>
<line x1="120.4" y1="335.6" x2="123.4" y2="335.6" stroke="#1a1a1a" stroke-width="1" />
<text x="119.4" y="335.6" font-size="5.9" font-weight="bold" text-anchor="end" dominant-baseline="central" >0.4</text>
<line x1="123.4" y1="407.2" x2="171.8" y2="407.2" stroke="#1a1a1a" stroke-width="1" />
<line x1="123.4" y1="371.4" x2="171.8" y2="371.4" stroke="#333" stroke-width="0.9" stroke-dasharray="0.9 1.3" />
<text x="145.9" y="320" font-size="7" text-anchor="middle" fill="#222" >FerrDb v2</text>
<line x1="133.1" y1="407.2" x2="133.1" y2="410.2" stroke="#1a1a1a" stroke-width="1" />
<text x="135.7" y="415.2" font-size="7.5" text-anchor="end" fill="#222" transform="rotate(-47 135.7 415.2)" >Control</text>
<line x1="147.5" y1="407.2" x2="147.5" y2="410.2" stroke="#1a1a1a" stroke-width="1" />
<text x="150.1" y="415.2" font-size="7.5" text-anchor="end" fill="#222" transform="rotate(-47 150.1 415.2)" >RBC-based</text>
<line x1="162" y1="407.2" x2="162" y2="410.2" stroke="#1a1a1a" stroke-width="1" />
<text x="164.6" y="415.2" font-size="7.5" text-anchor="end" fill="#222" transform="rotate(-47 164.6 415.2)" >fHb removal</text>
<line x1="133" y1="334.3" x2="161.8" y2="334.3" stroke="#333" stroke-width="0.8" />
<text x="147.4" y="332.3" font-size="5.9" text-anchor="middle" fill="#333" >0.0783</text>
<line x1="133" y1="343.2" x2="148" y2="343.2" stroke="#333" stroke-width="0.8" />
<text x="140.5" y="341.2" font-size="5.9" text-anchor="middle" fill="#333" >0.0001</text>
<line x1="133.3" y1="358.87" x2="133.3" y2="373.19" stroke="#555" stroke-width="0.9" />
<line x1="133.3" y1="389.3" x2="133.3" y2="397.35" stroke="#555" stroke-width="0.9" />
<line x1="131.5" y1="358.87" x2="135.1" y2="358.87" stroke="#555" stroke-width="0.9" />
<line x1="131.5" y1="397.35" x2="135.1" y2="397.35" stroke="#555" stroke-width="0.9" />
<rect x="128.6" y="373.19" width="9.4" height="16.11" fill="#c9c9c9" stroke="#555" stroke-width="0.9" />
<line x1="128.6" y1="380.35" x2="138" y2="380.35" stroke="#555" stroke-width="0.9" />
<line x1="147.8" y1="346.34" x2="147.8" y2="350.81" stroke="#e8414c" stroke-width="0.9" />
<line x1="147.8" y1="359.76" x2="147.8" y2="371.4" stroke="#e8414c" stroke-width="0.9" />
<line x1="146" y1="346.34" x2="149.6" y2="346.34" stroke="#e8414c" stroke-width="0.9" />
<line x1="146" y1="371.4" x2="149.6" y2="371.4" stroke="#e8414c" stroke-width="0.9" />
<rect x="143" y="350.81" width="9.6" height="8.95" fill="#e58991" stroke="#e8414c" stroke-width="0.9" />
<line x1="143" y1="354.39" x2="152.6" y2="354.39" stroke="#e8414c" stroke-width="0.9" />
<line x1="162" y1="362.45" x2="162" y2="362.9" stroke="#f0923b" stroke-width="0.9" />
<line x1="162" y1="363.79" x2="162" y2="364.24" stroke="#f0923b" stroke-width="0.9" />
<line x1="160.2" y1="362.45" x2="163.8" y2="362.45" stroke="#f0923b" stroke-width="0.9" />
<line x1="160.2" y1="364.24" x2="163.8" y2="364.24" stroke="#f0923b" stroke-width="0.9" />
<rect x="157.2" y="362.9" width="9.6" height="0.89" fill="#f3b47c" stroke="#f0923b" stroke-width="0.9" />
<line x1="157.2" y1="363.34" x2="166.8" y2="363.34" stroke="#f0923b" stroke-width="0.9" />
<path d="M128.40,370.12 L131.60,370.12 L130.00,372.84 Z" fill="#111" />
<path d="M131.70,370.12 L134.90,370.12 L133.30,372.84 Z" fill="#111" />
<path d="M128.90,374.60 L132.10,374.60 L130.50,377.31 Z" fill="#111" />
<circle cx="133.3" cy="377.66" r="1.3" fill="#111" />
<path d="M131.70,379.07 L134.90,379.07 L133.30,381.79 Z" fill="#111" />
<circle cx="133.3" cy="383.93" r="1.3" fill="#111" />
<path d="M128.40,383.55 L131.60,383.55 L130.00,386.26 Z" fill="#111" />
<path d="M131.70,383.55 L134.90,383.55 L133.30,386.26 Z" fill="#111" />
<path d="M134.80,383.55 L138.00,383.55 L136.40,386.26 Z" fill="#111" />
<circle cx="133.3" cy="391.09" r="1.3" fill="#111" />
<path d="M131.70,392.50 L134.90,392.50 L133.30,395.21 Z" fill="#111" />
<circle cx="133.3" cy="397.35" r="1.3" fill="#111" />
<circle cx="133.3" cy="358.87" r="1.3" fill="#111" />
<path d="M146.20,345.06 L149.40,345.06 L147.80,347.78 Z" fill="#111" />
<circle cx="147.8" cy="349.02" r="1.3" fill="#111" />
<circle cx="145" cy="353.5" r="1.3" fill="#111" />
<circle cx="150.6" cy="353.5" r="1.3" fill="#111" />
<circle cx="147.8" cy="357.08" r="1.3" fill="#111" />
<circle cx="145" cy="358.87" r="1.3" fill="#111" />
<circle cx="150.6" cy="358.87" r="1.3" fill="#111" />
<circle cx="147.8" cy="371.4" r="1.3" fill="#111" />
<circle cx="162" cy="362.45" r="1.3" fill="#111" />
<circle cx="162" cy="364.24" r="1.3" fill="#111" />
<text x="107.4" y="371.4" font-size="6.1" text-anchor="middle" fill="#222" transform="rotate(-90 107.4 371.4)" >Enrichment Score</text>
<text x="206.75" y="306.8" font-size="10.2" font-weight="bold" fill="#151515" >J</text>
<text x="361" y="312.7" font-size="8.2" text-anchor="middle" fill="#222" >Ferroptosis Signature Genes</text>
<line x1="223" y1="317.3" x2="499.5" y2="317.3" stroke="#333" stroke-width="1.1" />
<line x1="226.4" y1="332.6" x2="226.4" y2="421.6" stroke="#e2e2e2" stroke-width="0.5" />
<line x1="235.15" y1="332.6" x2="235.15" y2="421.6" stroke="#ececec" stroke-width="0.5" />
<line x1="243.9" y1="332.6" x2="243.9" y2="421.6" stroke="#e2e2e2" stroke-width="0.5" />
<line x1="252.65" y1="332.6" x2="252.65" y2="421.6" stroke="#ececec" stroke-width="0.5" />
<line x1="261.4" y1="332.6" x2="261.4" y2="421.6" stroke="#e2e2e2" stroke-width="0.5" />
<line x1="270.15" y1="332.6" x2="270.15" y2="421.6" stroke="#ececec" stroke-width="0.5" />
<line x1="278.9" y1="332.6" x2="278.9" y2="421.6" stroke="#e2e2e2" stroke-width="0.5" />
<line x1="287.65" y1="332.6" x2="287.65" y2="421.6" stroke="#ececec" stroke-width="0.5" />
<line x1="296.4" y1="332.6" x2="296.4" y2="421.6" stroke="#e2e2e2" stroke-width="0.5" />
<line x1="222.6" y1="418.5" x2="299.6" y2="418.5" stroke="#e2e2e2" stroke-width="0.5" />
<line x1="222.6" y1="404.92" x2="299.6" y2="404.92" stroke="#ececec" stroke-width="0.5" />
<line x1="222.6" y1="391.34" x2="299.6" y2="391.34" stroke="#e2e2e2" stroke-width="0.5" />
<line x1="222.6" y1="377.76" x2="299.6" y2="377.76" stroke="#ececec" stroke-width="0.5" />
<line x1="222.6" y1="364.18" x2="299.6" y2="364.18" stroke="#e2e2e2" stroke-width="0.5" />
<line x1="222.6" y1="350.6" x2="299.6" y2="350.6" stroke="#ececec" stroke-width="0.5" />
<line x1="222.6" y1="337.02" x2="299.6" y2="337.02" stroke="#e2e2e2" stroke-width="0.5" />
<path d="M242.9,387.6h0M254.9,399.7h0M242.3,393.6h0M252.1,377.8h0M242.9,410.3h0M253.3,386.3h0M248.9,396.4h0M245.2,408.2h0M250.0,390.7h0M247.6,393.5h0M251.0,383.3h0M255.5,389.8h0M239.8,383.2h0M241.8,395.0h0M241.5,392.7h0M245.3,389.8h0M254.1,410.7h0M247.9,383.7h0M249.0,387.7h0M250.1,406.4h0M252.6,403.7h0M253.2,392.7h0M254.7,400.9h0M254.9,394.4h0M250.3,403.3h0M253.7,386.3h0M252.5,385.8h0M251.0,389.9h0M250.5,400.8h0M244.0,398.1h0M252.7,372.2h0M253.7,383.2h0M250.5,382.2h0M245.7,366.1h0M250.8,379.5h0M254.2,408.1h0M250.5,382.5h0M250.2,404.7h0M248.9,387.6h0M249.8,374.3h0M245.4,381.9h0M255.5,396.7h0M239.8,405.0h0M250.8,385.5h0M257.9,406.3h0M249.5,383.9h0M254.9,405.2h0M247.3,389.7h0M250.1,371.5h0M249.1,367.4h0M245.8,399.1h0M253.0,388.6h0M239.6,402.4h0M246.2,399.9h0M252.7,397.2h0M253.8,391.6h0M247.7,391.1h0M251.8,381.0h0M246.9,395.9h0M242.1,370.9h0M246.9,409.5h0M250.4,389.9h0M240.8,390.2h0M248.8,413.8h0M244.6,376.1h0M241.2,380.8h0M254.1,406.1h0M245.7,402.1h0M243.0,401.9h0M248.8,406.0h0M248.8,410.5h0M239.9,383.2h0M245.6,391.5h0M247.5,407.8h0M240.3,412.8h0M249.5,390.7h0M246.9,373.3h0M250.5,384.8h0M256.1,403.8h0M238.8,382.5h0M245.8,374.9h0M251.3,379.0h0M253.4,401.8h0M245.4,398.6h0M253.7,380.7h0M255.0,415.2h0M248.9,384.5h0M245.4,389.4h0M250.8,379.0h0M245.0,404.0h0M245.4,368.9h0M255.4,394.4h0M250.7,391.1h0M250.6,395.5h0M247.7,409.8h0M246.0,370.3h0M252.4,391.8h0M248.3,391.8h0M251.4,401.5h0M250.6,389.4h0M245.4,403.4h0M244.1,407.1h0M248.1,401.0h0M246.1,391.4h0M255.6,391.7h0M248.7,401.0h0M248.8,380.3h0M247.4,408.3h0M242.6,407.7h0M242.0,377.8h0M251.4,395.9h0M253.6,381.8h0M241.1,413.8h0M244.5,380.4h0M256.5,409.4h0M255.2,397.9h0M247.4,400.2h0M247.7,417.4h0M244.1,409.5h0M240.2,398.2h0M244.4,365.8h0M252.6,402.6h0M254.6,385.4h0M240.7,399.9h0M248.2,392.4h0M250.2,397.3h0M250.5,400.7h0M244.6,372.1h0M251.5,386.7h0M240.8,395.0h0M253.9,410.2h0M255.5,398.0h0M251.7,394.5h0M250.7,376.4h0M247.3,371.5h0M245.3,405.4h0M253.4,407.2h0M247.5,380.4h0M256.1,416.8h0M252.2,367.1h0M256.0,396.0h0M246.2,396.7h0M243.2,396.3h0M248.5,394.7h0M255.9,395.8h0M241.6,378.4h0M243.7,398.8h0M248.8,397.4h0M244.1,396.1h0M248.8,377.4h0M253.5,382.3h0M244.8,391.0h0M252.2,375.1h0M252.0,395.9h0M249.7,395.6h0M250.8,383.5h0M247.7,403.7h0M244.9,377.8h0M254.1,381.4h0M249.5,383.7h0M243.8,395.5h0M245.5,382.8h0M246.4,394.2h0M251.7,374.3h0M245.2,405.4h0M253.9,407.7h0M252.0,400.4h0M248.9,417.4h0M253.4,399.5h0M244.6,364.5h0M251.7,397.4h0M250.1,370.9h0M249.4,386.6h0M252.3,405.1h0M250.2,399.5h0M242.7,380.9h0M253.1,391.7h0M252.1,394.0h0M240.4,393.5h0M241.2,393.1h0M250.3,387.9h0M250.7,390.4h0M243.3,397.9h0M246.7,395.9h0M251.0,384.3h0M251.7,395.4h0M240.5,387.2h0M246.7,379.2h0M243.8,394.1h0M248.8,394.0h0M246.3,417.7h0M252.0,379.1h0M249.1,406.5h0M250.6,385.0h0M248.5,392.9h0M257.1,407.9h0M245.7,402.7h0M244.3,402.1h0M248.9,362.8h0M249.2,416.2h0M251.7,405.4h0M258.4,409.6h0M246.4,414.5h0M250.0,406.5h0M249.1,397.8h0M246.2,379.9h0M254.6,391.9h0M244.6,407.2h0M251.0,360.2h0M247.0,403.4h0M245.7,407.6h0M244.2,395.5h0M246.7,414.6h0M250.7,393.1h0M242.8,407.5h0M249.3,378.9h0M252.9,389.9h0M247.7,388.3h0M249.4,363.2h0M243.4,397.7h0M256.4,396.3h0M250.3,397.7h0M242.0,405.9h0M252.8,379.7h0M252.6,378.8h0M248.1,395.7h0M254.8,397.5h0M242.3,395.8h0M246.5,384.4h0M245.6,407.1h0M247.7,371.6h0M249.2,390.5h0M249.6,388.7h0M240.6,374.2h0M249.5,397.1h0M243.9,386.1h0M253.5,394.4h0M236.9,397.4h0M248.5,407.7h0M247.4,396.8h0M245.2,403.2h0M250.0,388.4h0M246.7,393.9h0M242.0,385.6h0M245.4,389.8h0M244.6,399.7h0M250.7,409.1h0M249.1,402.7h0M251.1,411.3h0M246.8,384.3h0M246.7,408.8h0M243.1,403.2h0M249.6,401.5h0M249.6,354.8h0M251.4,391.5h0M248.8,378.5h0M247.7,397.1h0M247.5,394.1h0M242.2,398.7h0M245.2,381.6h0M250.7,380.6h0M251.9,389.6h0M252.3,410.4h0M249.9,402.0h0M245.8,387.9h0M251.4,404.8h0M246.4,377.5h0M244.8,387.0h0M251.5,390.0h0M243.8,398.8h0M247.7,403.2h0M249.8,398.0h0M251.3,373.2h0M253.5,387.0h0M248.2,413.3h0M248.9,385.3h0M244.0,375.7h0M247.7,387.6h0M247.7,409.7h0M254.5,400.2h0M251.0,403.6h0M247.2,380.2h0M249.6,379.8h0M246.1,383.0h0M245.2,384.5h0M251.9,376.2h0M251.5,408.9h0M253.1,407.7h0M252.7,400.2h0M242.7,397.5h0M250.2,397.4h0M240.4,399.6h0M251.4,389.9h0M247.1,400.9h0M251.2,370.0h0M240.4,395.8h0M245.6,385.1h0M242.8,392.0h0M248.0,413.7h0M254.3,399.8h0M253.2,410.6h0M255.4,412.3h0M255.2,417.3h0M241.1,395.9h0M251.3,406.1h0M246.8,389.0h0M247.2,386.9h0M251.1,379.0h0M245.8,358.0h0M253.8,388.5h0M250.1,401.1h0M255.1,387.0h0M239.2,407.7h0M252.0,391.2h0M251.0,384.0h0M250.3,371.2h0M246.3,398.1h0M251.3,382.6h0M246.9,376.9h0M252.0,406.9h0M248.8,364.4h0M253.8,399.1h0M236.5,402.7h0M245.7,391.7h0M251.2,405.4h0M243.1,395.5h0M247.3,401.1h0M255.6,391.6h0M242.8,375.2h0M247.8,410.7h0M251.2,386.1h0M247.7,383.2h0M254.0,404.7h0M248.8,376.0h0M255.2,413.5h0M253.2,387.4h0M249.0,398.7h0M243.4,390.8h0M256.4,397.7h0M252.4,401.7h0M250.9,406.4h0M251.6,395.7h0M251.2,400.9h0M243.1,397.2h0M247.7,381.8h0M253.6,387.4h0M241.1,388.3h0M244.2,376.7h0M253.8,384.3h0M235.7,384.3h0M253.3,410.0h0M254.8,391.7h0M248.5,402.4h0M244.0,398.6h0M250.6,401.5h0M246.1,400.2h0M244.7,380.8h0M248.0,380.9h0M243.2,380.1h0M249.4,383.6h0M248.9,404.8h0M256.1,398.6h0M248.7,404.7h0M250.6,398.0h0M251.0,388.0h0M245.8,411.9h0M251.8,380.2h0M253.3,408.3h0M252.8,387.5h0M251.0,386.9h0M247.7,389.8h0M254.5,399.6h0M241.7,394.1h0M250.6,417.8h0M245.8,384.7h0M248.7,391.4h0M242.7,380.4h0M245.5,408.4h0M254.3,391.3h0M245.2,376.2h0M253.6,384.5h0M240.0,394.1h0M252.9,409.3h0M255.1,402.5h0M245.7,379.9h0M256.0,394.1h0M247.0,399.2h0M253.0,387.6h0M242.1,402.4h0M243.5,365.2h0M245.6,381.1h0M242.8,397.4h0M245.6,396.6h0M252.5,409.5h0M246.7,364.6h0M249.9,375.0h0M251.2,400.3h0M247.4,394.3h0M252.8,391.0h0M247.0,402.5h0M245.3,412.2h0M244.2,380.4h0M249.8,395.0h0M251.4,378.2h0M252.8,382.2h0M246.5,396.2h0M245.3,394.0h0M245.1,397.8h0M248.6,395.6h0M248.1,399.4h0M256.6,397.3h0M244.0,390.1h0M243.6,407.3h0M250.0,415.3h0M255.1,415.4h0M244.6,384.9h0M238.7,404.6h0M243.0,395.4h0M238.8,380.5h0M248.7,388.6h0M248.7,410.9h0M249.6,404.3h0M247.8,395.6h0M253.7,382.3h0M244.0,392.9h0M245.5,394.3h0M247.6,379.9h0M249.7,387.6h0M244.0,416.2h0M240.9,381.1h0M251.1,370.5h0M238.8,404.7h0M254.3,380.9h0M249.7,392.8h0M249.7,381.3h0M248.6,388.3h0M257.4,408.0h0M245.4,385.0h0M248.1,394.8h0M247.2,377.8h0M245.9,391.1h0M246.0,363.2h0M252.4,398.1h0M252.2,403.5h0M246.2,391.3h0M251.8,374.4h0M251.9,390.7h0M248.8,404.3h0M248.8,399.8h0M247.4,390.8h0M250.3,381.2h0M248.6,401.4h0M251.2,383.7h0M244.6,413.3h0M243.9,378.3h0M254.9,404.7h0M250.1,381.3h0M256.7,401.6h0M248.2,373.6h0M243.3,386.6h0M247.9,393.5h0M245.9,399.2h0M249.4,368.2h0M253.3,386.9h0M249.6,402.9h0M248.3,375.9h0M250.9,393.0h0M240.7,387.3h0M240.1,372.0h0M246.1,392.7h0M254.1,410.3h0M256.3,412.4h0M251.6,409.9h0M254.7,408.5h0M252.7,410.8h0M249.7,415.1h0M251.6,415.8h0M253.5,415.3h0M255.4,410.3h0M251.5,405.3h0M257.7,415.0h0M257.9,414.5h0M254.8,418.1h0M253.7,408.9h0M253.9,407.2h0M258.3,417.6h0M260.2,416.9h0M255.5,413.8h0M257.4,412.5h0M259.5,414.6h0M254.0,411.5h0M251.5,414.5h0M258.7,416.8h0M259.9,417.3h0M253.4,411.3h0M257.4,414.0h0M259.4,414.8h0M258.4,417.0h0M258.6,414.5h0M251.0,404.8h0M259.7,416.8h0M256.3,416.5h0M249.5,417.7h0M254.9,409.7h0M249.3,415.6h0M255.3,410.4h0M259.9,417.6h0M250.4,415.9h0M255.9,415.6h0M255.6,417.7h0M260.0,414.9h0M251.8,406.6h0M257.8,416.7h0M254.2,415.5h0M255.2,408.2h0M256.3,415.4h0M249.4,406.3h0M259.9,417.0h0M253.1,417.7h0M256.5,412.3h0M250.7,407.9h0M250.4,410.0h0M255.9,410.2h0M256.1,411.0h0M257.9,416.2h0M258.3,415.1h0M258.5,417.3h0M257.9,415.4h0M256.9,414.8h0M249.2,404.7h0M250.7,414.8h0M256.1,417.8h0M252.6,413.1h0M257.3,418.4h0M258.3,416.9h0M255.9,409.4h0M252.3,414.4h0M256.3,417.1h0M249.9,411.6h0M251.8,406.7h0M250.2,418.1h0M256.7,415.2h0M259.4,414.6h0M256.7,411.8h0M254.5,417.8h0M255.9,416.2h0M259.9,417.9h0M253.7,418.1h0M256.9,414.9h0M254.3,416.8h0M252.4,414.5h0M252.2,408.1h0M258.7,417.4h0M257.2,412.9h0M255.8,414.6h0M250.7,414.4h0M257.1,415.7h0M257.9,418.2h0M260.1,416.3h0M254.0,408.1h0M249.4,412.6h0M252.8,405.0h0M257.9,413.9h0M252.9,404.6h0M250.6,414.3h0M253.3,417.2h0M255.6,414.4h0M259.7,417.0h0M256.7,414.2h0M257.2,417.3h0M255.8,413.8h0M258.5,414.6h0M257.7,417.8h0M256.5,414.7h0M258.7,415.2h0M252.5,410.1h0M252.5,418.2h0M256.0,414.9h0M259.6,416.8h0M259.7,416.5h0M253.8,412.3h0M256.7,416.3h0M260.1,417.3h0M250.4,408.0h0M257.4,413.5h0M258.3,415.6h0M253.5,405.4h0M256.3,413.1h0M249.8,403.6h0M253.3,409.9h0M267.6,383.3h0M272.5,409.1h0M270.2,403.7h0M272.8,393.1h0M267.5,393.2h0M271.8,403.0h0M270.3,395.3h0M267.6,408.9h0M275.0,402.1h0M266.4,397.5h0M273.3,404.0h0M266.2,387.3h0M266.7,416.8h0M277.7,406.5h0M272.6,390.2h0M266.5,396.1h0M269.1,414.8h0M269.4,394.5h0M267.8,396.5h0M266.7,402.7h0M270.7,400.7h0M275.0,392.7h0M273.0,394.9h0M269.8,413.8h0M274.0,384.8h0M270.2,404.7h0M269.0,390.1h0M270.5,411.9h0M268.3,409.8h0M268.2,411.1h0M264.6,406.6h0M267.3,415.9h0M272.3,395.2h0M267.4,408.7h0M269.4,400.7h0M271.6,403.2h0M267.2,412.0h0M265.9,409.7h0M282.0,414.6h0M276.2,397.4h0M270.1,400.2h0M267.4,386.1h0M271.5,402.4h0M268.6,400.1h0M266.3,395.9h0M268.1,392.3h0M273.8,403.4h0M267.1,414.2h0M269.9,407.7h0M270.1,397.9h0M272.4,405.3h0M266.7,401.8h0M268.7,400.4h0M266.7,404.5h0M266.4,408.0h0M269.9,390.6h0M266.7,396.3h0M270.7,401.0h0M272.3,407.7h0M271.7,399.1h0M271.9,382.7h0M270.8,411.8h0M274.7,397.6h0M265.5,414.1h0M267.2,378.5h0M268.6,408.5h0M271.9,401.2h0M270.5,399.5h0M267.0,390.8h0M272.3,401.7h0M269.8,402.6h0M272.9,417.6h0M271.3,402.6h0M273.7,405.4h0M268.1,409.6h0M270.0,403.4h0M266.1,405.6h0M265.6,395.9h0M264.3,417.7h0M266.8,395.7h0M272.5,407.2h0M272.6,397.1h0M268.9,409.2h0M268.8,415.0h0M267.8,408.0h0M271.2,398.7h0M266.1,393.5h0M274.7,401.5h0M265.7,397.1h0M271.8,382.1h0M280.0,383.2h0M270.0,392.0h0M268.3,408.3h0M268.1,387.1h0M273.0,405.1h0M270.9,393.5h0M271.8,402.6h0M266.0,409.6h0M267.1,407.7h0M273.2,413.5h0M275.9,389.4h0M267.2,412.6h0M266.6,411.4h0M266.5,397.3h0M264.1,410.1h0M267.9,402.5h0M265.5,410.2h0M263.8,409.8h0M271.6,404.6h0M268.8,411.0h0M279.1,380.1h0M265.7,401.8h0M272.8,414.6h0M277.3,409.5h0M270.8,413.9h0M270.8,402.4h0M274.2,413.9h0M269.1,383.7h0M271.2,407.2h0M267.8,387.8h0M274.5,396.4h0M270.4,413.7h0M269.5,384.0h0M274.1,416.0h0M269.9,407.8h0M267.7,398.7h0M273.3,400.1h0M275.0,416.7h0M271.3,397.9h0M281.7,389.0h0M270.9,388.4h0M274.5,413.7h0M271.4,387.9h0M268.3,401.4h0M266.9,394.7h0M266.5,408.2h0M270.1,397.4h0M267.3,412.9h0M270.7,398.5h0M275.1,407.3h0M267.1,397.0h0M276.3,402.7h0M268.7,411.8h0M267.3,392.5h0M273.1,390.8h0M269.7,388.9h0M267.0,382.0h0M267.0,382.7h0M266.8,412.3h0M273.4,406.3h0M268.8,416.0h0M267.5,401.0h0M265.7,398.2h0M267.2,387.1h0M267.4,408.9h0M267.0,399.3h0M271.9,406.9h0M265.3,397.8h0M264.1,409.1h0M277.3,389.5h0M272.9,397.1h0M267.0,410.4h0M278.4,417.1h0M275.7,400.1h0M264.7,400.3h0M265.1,400.3h0M266.0,414.4h0M281.8,407.4h0M273.8,402.7h0M272.3,415.2h0M273.9,397.6h0M270.2,392.7h0M272.0,394.2h0M269.0,406.5h0M272.5,389.4h0M263.5,413.9h0M268.9,383.6h0M273.0,394.4h0M278.4,400.2h0M278.5,409.6h0M273.4,400.8h0M275.5,390.6h0M267.3,390.7h0M273.4,392.9h0M270.5,399.0h0M265.2,402.9h0M269.7,409.8h0M267.7,400.5h0M270.1,391.3h0M264.2,406.2h0M270.4,406.1h0M270.7,407.0h0M274.8,404.5h0M268.5,401.4h0M274.1,386.7h0M272.3,391.8h0M271.3,401.3h0M263.4,417.7h0M273.8,399.2h0M272.3,398.5h0M277.2,387.5h0M266.5,391.8h0M274.9,406.6h0M266.0,396.9h0M268.9,410.1h0M265.7,394.2h0M264.7,400.8h0M277.6,396.3h0M274.5,397.5h0M264.5,405.2h0M269.5,397.6h0M266.3,395.8h0M265.7,401.5h0M269.1,414.0h0M273.9,401.6h0M269.7,402.5h0M266.4,395.9h0M264.2,410.8h0M266.9,391.2h0M271.1,400.7h0M269.1,394.1h0M270.5,412.5h0M272.2,410.2h0M267.5,387.2h0M280.8,387.2h0M271.2,410.1h0M270.7,416.4h0M276.6,396.2h0M275.4,398.0h0M268.5,403.9h0M276.3,409.0h0M268.7,402.7h0M268.7,412.8h0M270.7,404.2h0M270.1,413.0h0M269.1,412.1h0M272.2,396.2h0M268.9,406.1h0M275.8,389.4h0M266.1,413.3h0M270.9,398.9h0M270.3,392.0h0M276.0,387.7h0M267.9,401.8h0M264.9,398.1h0M275.2,391.9h0M272.2,390.5h0M270.4,393.2h0M271.4,394.1h0M264.3,408.9h0M271.5,410.2h0M264.4,408.1h0M273.3,403.3h0M268.0,409.2h0M268.6,385.8h0M265.9,405.8h0M277.2,394.7h0M273.5,408.2h0M265.7,401.6h0M269.1,406.9h0M276.2,398.8h0M267.7,397.1h0M276.8,407.5h0M269.8,406.5h0M269.8,409.2h0M270.9,390.2h0M267.3,405.5h0M269.7,415.6h0M277.8,415.9h0M267.4,411.2h0M276.3,407.1h0M266.7,382.8h0M268.6,410.1h0M269.1,400.1h0M265.6,404.0h0M268.1,394.7h0M272.8,393.6h0M268.6,393.9h0M268.1,390.2h0M271.1,406.5h0M275.0,417.7h0M264.5,410.3h0M268.5,414.7h0M269.7,410.0h0M279.6,394.2h0M269.6,391.1h0M274.4,406.4h0M265.1,406.0h0M270.4,377.4h0M277.7,386.8h0M268.1,405.5h0M270.9,404.9h0M266.9,404.3h0M273.2,402.8h0M270.3,404.8h0M268.2,405.5h0M275.1,399.7h0M276.2,403.9h0M274.2,416.3h0M267.2,402.7h0M260.1,418.3h0M259.5,418.2h0M260.0,418.5h0M260.8,416.5h0M260.6,418.4h0M258.7,418.3h0M264.1,418.1h0M262.6,417.2h0M259.7,415.8h0M266.7,416.4h0M265.9,417.1h0M264.5,414.8h0M263.8,418.2h0M258.7,416.8h0M259.2,416.7h0M262.2,418.1h0M256.1,417.9h0M262.4,418.3h0M265.0,414.8h0M261.9,418.4h0M262.9,415.8h0M258.7,418.2h0M261.6,414.8h0M262.2,418.5h0M263.0,413.2h0M262.5,416.7h0M260.4,416.9h0M265.0,418.2h0M261.2,415.8h0M259.5,418.2h0M260.3,416.5h0M261.8,414.3h0M261.9,417.5h0M261.3,416.2h0M261.8,416.7h0M261.6,415.5h0M261.2,416.0h0M261.3,414.3h0M262.0,417.1h0M260.8,416.8h0M260.9,415.5h0M262.1,416.0h0M264.5,416.9h0M261.5,417.1h0M255.9,415.3h0M260.0,417.1h0M266.8,415.2h0M260.5,417.8h0M262.3,415.1h0M259.4,415.4h0M260.1,417.3h0M258.5,416.6h0M257.6,417.9h0M263.9,418.3h0M260.8,418.0h0M262.4,417.9h0M262.6,414.5h0M266.1,417.3h0M258.8,414.6h0M263.5,416.0h0M246.0,340.4h0M251.2,341.8h0M246.7,350.6h0M242.1,357.4h0M237.6,354.7h0M232.0,415.8h0M272.2,342.5h0M280.3,346.5h0M283.4,353.3h0M274.0,353.3h0M275.4,358.7h0M289.0,404.9h0M290.1,387.3h0M282.4,368.3h0M278.9,380.5h0M285.9,390.0h0M284.1,394.1h0M279.6,407.6h0M289.4,402.2h0M280.6,388.6h0M283.1,399.5h0M278.2,395.4h0M287.3,411.7h0" fill="none" stroke="#c8c8c8" stroke-width="1.8" stroke-linecap="round"/>
<path d="M264.5,417.9h0M261.5,416.8h0M266.7,405.6h0M258.3,415.4h0M261.0,417.9h0M263.6,411.7h0M264.4,416.4h0M263.3,418.4h0M261.5,418.3h0M264.5,414.7h0M257.7,411.2h0M261.1,417.1h0M263.7,417.6h0M261.8,418.4h0M260.0,413.4h0M268.1,412.0h0M264.0,414.7h0M265.1,416.6h0M264.9,415.1h0M252.8,408.1h0M264.6,417.6h0M258.9,411.1h0M263.1,414.2h0M262.2,417.3h0M264.4,417.7h0M263.0,414.5h0M262.4,417.9h0M263.0,414.0h0M256.9,414.3h0M262.3,418.1h0M265.4,418.4h0M262.6,417.7h0M259.7,416.3h0M259.9,415.4h0M260.9,415.3h0M265.4,413.2h0M258.3,415.4h0M264.6,416.5h0M264.6,409.9h0M260.9,415.5h0M263.9,415.4h0M260.8,414.6h0M261.7,416.3h0M264.5,417.3h0M260.4,414.0h0M261.2,418.0h0M266.9,415.2h0M265.5,413.4h0M254.0,411.2h0M262.4,417.2h0M266.6,416.3h0M262.3,416.3h0M259.5,418.3h0M259.3,415.8h0M257.0,407.0h0M262.9,417.5h0M260.8,415.6h0M262.8,417.7h0M265.4,416.8h0M256.5,407.1h0M258.4,414.5h0M262.2,414.4h0M258.1,416.8h0M262.5,414.5h0M258.9,417.7h0M262.2,418.0h0M265.6,407.1h0M256.6,406.9h0M259.7,414.5h0M256.2,408.3h0M263.0,413.9h0M260.1,417.5h0M262.6,418.5h0M270.5,409.8h0M258.7,414.2h0M267.7,404.3h0M267.1,418.2h0M260.1,415.4h0M270.3,400.5h0M268.9,414.9h0M264.5,412.2h0M267.5,403.1h0M260.9,416.1h0M260.9,418.4h0M266.5,408.8h0M257.6,409.6h0M254.3,408.9h0M258.6,415.3h0M259.7,418.5h0M264.6,417.8h0M263.0,415.1h0M259.7,414.1h0M260.8,417.7h0M258.1,416.9h0M264.3,413.2h0M267.2,404.7h0M258.2,410.1h0M269.6,414.9h0M267.2,404.3h0M260.8,415.6h0M260.8,416.9h0M264.9,414.8h0M269.4,410.2h0M263.9,415.7h0M262.2,418.0h0M259.5,415.3h0M262.5,418.4h0M265.5,418.3h0M259.5,412.2h0M265.8,412.0h0M254.0,399.4h0M254.9,398.5h0M251.1,403.3h0M253.9,395.6h0M252.1,397.4h0M252.8,392.2h0M271.2,399.1h0M268.7,381.9h0M268.6,400.5h0M270.3,403.6h0M266.0,392.2h0M266.8,388.3h0M270.0,397.5h0M270.3,390.0h0M269.8,394.4h0M267.9,402.5h0M268.2,382.9h0M271.1,403.6h0M271.9,349.9h0M281.7,352.6h0M273.3,371.6h0M274.0,375.7h0M284.5,389.3h0M286.6,400.8h0M280.6,400.2h0M277.5,400.8h0M268.8,381.8h0M270.1,381.2h0M257.5,385.9h0M251.2,397.5h0M253.3,392.7h0" fill="none" stroke="#e8222a" stroke-width="2.2" stroke-linecap="round"/>
<rect x="222.6" y="332.6" width="77" height="89" fill="none" stroke="#333" stroke-width="0.9" />
<line x1="221.1" y1="418.5" x2="222.6" y2="418.5" stroke="#555" stroke-width="0.5" />
<text x="220.3" y="418.5" font-size="5.2" text-anchor="end" fill="#555" dominant-baseline="central" >0</text>
<line x1="221.1" y1="391.34" x2="222.6" y2="391.34" stroke="#555" stroke-width="0.5" />
<text x="220.3" y="391.34" font-size="5.2" text-anchor="end" fill="#555" dominant-baseline="central" >20</text>
<line x1="221.1" y1="364.18" x2="222.6" y2="364.18" stroke="#555" stroke-width="0.5" />
<text x="220.3" y="364.18" font-size="5.2" text-anchor="end" fill="#555" dominant-baseline="central" >40</text>
<line x1="221.1" y1="337.02" x2="222.6" y2="337.02" stroke="#555" stroke-width="0.5" />
<text x="220.3" y="337.02" font-size="5.2" text-anchor="end" fill="#555" dominant-baseline="central" >60</text>
<line x1="226.4" y1="421.6" x2="226.4" y2="423.1" stroke="#555" stroke-width="0.5" />
<text x="226.4" y="428.2" font-size="5.2" text-anchor="middle" fill="#555" >−10</text>
<line x1="243.9" y1="421.6" x2="243.9" y2="423.1" stroke="#555" stroke-width="0.5" />
<text x="243.9" y="428.2" font-size="5.2" text-anchor="middle" fill="#555" >−5</text>
<line x1="261.4" y1="421.6" x2="261.4" y2="423.1" stroke="#555" stroke-width="0.5" />
<text x="261.4" y="428.2" font-size="5.2" text-anchor="middle" fill="#555" >0</text>
<line x1="278.9" y1="421.6" x2="278.9" y2="423.1" stroke="#555" stroke-width="0.5" />
<text x="278.9" y="428.2" font-size="5.2" text-anchor="middle" fill="#555" >5</text>
<line x1="296.4" y1="421.6" x2="296.4" y2="423.1" stroke="#555" stroke-width="0.5" />
<text x="296.4" y="428.2" font-size="5.2" text-anchor="middle" fill="#555" >10</text>
<text x="258.5" y="329.4" font-size="6.45" text-anchor="middle" fill="#222" >RBC-based vs Control</text>
<text x="261.4" y="435" font-size="6.3" text-anchor="middle" fill="#333" >Log2FC</text>
<text x="212" y="377.1" font-size="5.8" text-anchor="middle" fill="#222" transform="rotate(-90 212 377.1)" >−Log10(padj)</text>
<line x1="325.8" y1="332.6" x2="325.8" y2="421.6" stroke="#e2e2e2" stroke-width="0.5" />
<line x1="334.55" y1="332.6" x2="334.55" y2="421.6" stroke="#ececec" stroke-width="0.5" />
<line x1="343.3" y1="332.6" x2="343.3" y2="421.6" stroke="#e2e2e2" stroke-width="0.5" />
<line x1="352.05" y1="332.6" x2="352.05" y2="421.6" stroke="#ececec" stroke-width="0.5" />
<line x1="360.8" y1="332.6" x2="360.8" y2="421.6" stroke="#e2e2e2" stroke-width="0.5" />
<line x1="369.55" y1="332.6" x2="369.55" y2="421.6" stroke="#ececec" stroke-width="0.5" />
<line x1="378.3" y1="332.6" x2="378.3" y2="421.6" stroke="#e2e2e2" stroke-width="0.5" />
<line x1="387.05" y1="332.6" x2="387.05" y2="421.6" stroke="#ececec" stroke-width="0.5" />
<line x1="395.8" y1="332.6" x2="395.8" y2="421.6" stroke="#e2e2e2" stroke-width="0.5" />
<line x1="322.6" y1="418.5" x2="399.8" y2="418.5" stroke="#e2e2e2" stroke-width="0.5" />
<line x1="322.6" y1="404.92" x2="399.8" y2="404.92" stroke="#ececec" stroke-width="0.5" />
<line x1="322.6" y1="391.34" x2="399.8" y2="391.34" stroke="#e2e2e2" stroke-width="0.5" />
<line x1="322.6" y1="377.76" x2="399.8" y2="377.76" stroke="#ececec" stroke-width="0.5" />
<line x1="322.6" y1="364.18" x2="399.8" y2="364.18" stroke="#e2e2e2" stroke-width="0.5" />
<line x1="322.6" y1="350.6" x2="399.8" y2="350.6" stroke="#ececec" stroke-width="0.5" />
<line x1="322.6" y1="337.02" x2="399.8" y2="337.02" stroke="#e2e2e2" stroke-width="0.5" />
<path d="M351.5,408.0h0M348.5,411.2h0M351.6,410.0h0M351.9,407.3h0M336.2,400.0h0M352.4,409.7h0M357.9,417.4h0M346.0,411.3h0M342.0,396.2h0M346.5,401.9h0M335.1,410.3h0M346.6,399.2h0M350.8,415.4h0M350.4,404.3h0M337.5,408.6h0M345.3,400.3h0M345.1,404.2h0M338.5,407.9h0M348.2,410.8h0M341.2,409.4h0M356.1,415.3h0M347.0,410.0h0M337.0,394.6h0M338.2,394.9h0M347.9,400.4h0M347.6,406.3h0M337.8,399.2h0M342.0,396.4h0M358.1,412.0h0M341.5,403.6h0M338.2,413.3h0M347.0,399.6h0M335.8,409.8h0M345.4,410.6h0M344.3,402.4h0M345.1,414.5h0M356.8,414.4h0M351.1,404.0h0M332.8,393.0h0M338.3,409.1h0M335.0,396.9h0M338.9,399.7h0M340.4,401.6h0M342.8,406.4h0M347.1,404.9h0M338.7,393.8h0M344.2,407.7h0M356.0,413.0h0M351.4,404.5h0M355.5,410.6h0M342.2,409.5h0M352.5,412.1h0M354.4,411.9h0M356.2,407.2h0M345.2,411.9h0M345.9,413.1h0M342.6,403.2h0M340.2,409.9h0M331.7,410.8h0M353.5,413.7h0M343.2,412.3h0M341.9,398.3h0M351.3,416.1h0M343.3,416.4h0M358.0,411.0h0M353.1,415.2h0M346.6,402.7h0M349.3,406.6h0M341.5,402.4h0M337.2,413.4h0M338.9,407.9h0M346.9,403.0h0M335.8,390.4h0M341.1,413.8h0M347.7,416.2h0M356.8,407.5h0M341.0,408.9h0M353.0,406.7h0M356.2,416.8h0M339.6,410.4h0M344.2,399.6h0M340.3,397.1h0M346.9,414.7h0M353.3,408.6h0M357.6,418.0h0M349.4,404.1h0M331.7,400.3h0M347.6,417.0h0M344.1,413.3h0M341.0,403.0h0M343.4,408.8h0M339.1,411.9h0M338.8,410.0h0M342.9,413.6h0M351.8,414.2h0M342.3,399.2h0M336.3,410.7h0M347.6,401.9h0M346.0,405.7h0M334.5,398.8h0M337.4,408.9h0M345.7,408.9h0M336.1,404.3h0M347.7,404.0h0M342.2,412.3h0M348.6,407.8h0M344.6,400.2h0M350.9,405.2h0M340.8,400.8h0M334.5,406.1h0M337.6,395.0h0M351.9,403.2h0M346.2,408.2h0M338.8,396.4h0M345.1,408.4h0M348.9,400.8h0M350.5,408.4h0M352.2,417.2h0M328.1,404.6h0M338.5,399.0h0M336.8,414.5h0M339.9,407.7h0M355.5,416.2h0M338.7,407.7h0M338.7,404.2h0M343.8,405.2h0M351.4,408.5h0M346.4,414.8h0M358.0,415.4h0M351.8,403.7h0M342.3,404.4h0M344.4,413.6h0M350.8,406.5h0M348.8,416.4h0M346.3,415.8h0M347.6,410.2h0M352.6,415.1h0M343.9,400.7h0M350.3,408.7h0M356.2,407.5h0M355.7,414.2h0M348.6,403.9h0M345.6,415.3h0M358.5,413.9h0M351.6,414.7h0M344.6,399.1h0M344.4,415.1h0M343.1,413.9h0M341.9,402.6h0M357.6,412.1h0M344.2,411.0h0M336.6,405.7h0M352.3,418.2h0M353.5,414.3h0M344.9,415.9h0M330.8,413.5h0M335.9,405.2h0M332.0,401.6h0M345.8,414.3h0M350.5,417.5h0M357.8,409.4h0M350.9,411.5h0M346.8,402.3h0M336.0,397.5h0M336.7,399.0h0M350.5,416.5h0M347.6,402.2h0M348.1,403.1h0M344.6,416.6h0M350.9,415.7h0M342.6,415.3h0M342.0,406.7h0M342.5,406.1h0M349.0,410.1h0M351.7,409.4h0M352.6,405.5h0M338.9,405.3h0M341.5,396.2h0M351.1,407.5h0M351.6,413.2h0M328.8,409.9h0M342.2,400.7h0M358.7,411.8h0M350.3,412.5h0M343.4,399.8h0M346.1,398.8h0M341.8,401.5h0M350.8,409.1h0M340.1,394.6h0M354.2,406.6h0M339.4,393.0h0M352.0,403.9h0M351.7,406.6h0M356.2,415.6h0M350.1,413.6h0M341.6,408.7h0M342.5,399.0h0M352.0,413.4h0M345.2,404.6h0M351.5,415.8h0M352.9,415.0h0M345.8,398.4h0M343.8,403.3h0M343.5,414.0h0M332.9,392.5h0M347.2,400.7h0M339.6,409.3h0M349.1,413.6h0M345.3,404.8h0M350.0,415.6h0M342.5,409.8h0M351.1,409.8h0M357.7,411.6h0M348.5,417.1h0M331.2,397.3h0M349.5,409.6h0M350.6,417.0h0M339.6,402.9h0M346.7,415.9h0M354.9,417.1h0M349.6,408.6h0M349.1,416.8h0M339.1,401.9h0M343.5,406.9h0M329.2,399.8h0M353.6,404.9h0M336.6,411.4h0M347.5,410.3h0M339.5,403.9h0M346.7,409.1h0M343.0,416.1h0M345.6,406.6h0M335.6,396.3h0M343.5,408.0h0M354.3,408.0h0M331.5,404.1h0M356.9,414.4h0M338.2,392.0h0M343.1,403.8h0M347.7,416.2h0M350.8,409.2h0M352.6,407.5h0M339.4,410.0h0M348.1,402.2h0M346.0,400.8h0M346.9,409.8h0M348.7,402.6h0M349.0,405.6h0M356.8,416.4h0M350.5,411.7h0M343.7,398.0h0M344.2,412.0h0M354.4,417.3h0M356.8,418.2h0M340.5,396.5h0M338.3,398.1h0M346.4,407.1h0M348.1,410.4h0M340.1,414.0h0M343.8,398.3h0M343.3,397.3h0M340.5,401.2h0M341.0,396.8h0M346.4,409.1h0M343.5,415.9h0M340.1,397.2h0M345.8,412.7h0M355.9,416.8h0M345.2,412.2h0M332.2,406.4h0M341.5,408.2h0M349.8,404.6h0M348.5,410.1h0M341.0,410.4h0M339.7,414.8h0M356.6,417.3h0M344.0,403.7h0M336.7,397.7h0M339.3,403.7h0M330.8,406.4h0M341.1,409.4h0M339.5,410.1h0M341.2,410.9h0M339.8,397.4h0M349.5,404.1h0M334.2,408.0h0M341.9,411.9h0M351.2,414.2h0M328.4,406.7h0M349.1,407.7h0M348.7,402.6h0M351.1,406.6h0M348.9,415.0h0M351.1,411.5h0M340.5,414.3h0M343.6,413.1h0M353.9,408.8h0M357.0,409.7h0M347.9,413.1h0M349.5,405.1h0M344.6,409.6h0M344.9,406.5h0M344.8,410.3h0M347.7,412.5h0M353.2,405.4h0M344.4,400.1h0M342.0,400.0h0M344.5,410.4h0M330.6,387.3h0M337.7,398.6h0M340.2,399.6h0M338.5,401.6h0M351.2,412.4h0M354.0,411.9h0M342.9,406.3h0M333.8,395.3h0M347.4,416.2h0M356.6,415.3h0M337.4,404.0h0M349.1,414.2h0M347.0,402.4h0M338.6,397.9h0M355.9,417.6h0M345.8,400.7h0M351.5,406.7h0M348.4,408.3h0M341.6,406.9h0M338.5,413.9h0M339.7,402.0h0M347.2,416.9h0M349.2,409.7h0M349.8,409.1h0M346.2,402.1h0M342.3,399.7h0M349.0,401.2h0M351.7,406.0h0M357.9,408.7h0M346.8,415.8h0M349.7,415.1h0M335.4,405.8h0M351.0,415.1h0M351.1,408.6h0M343.1,409.4h0M332.1,405.2h0M338.2,407.3h0M347.3,405.9h0M344.0,406.8h0M338.8,415.4h0M353.4,413.9h0M353.2,405.1h0M349.8,404.4h0M352.6,413.6h0M347.1,413.1h0M352.8,406.4h0M353.9,413.7h0M349.1,405.4h0M347.3,403.7h0M358.6,417.9h0M348.4,404.8h0M352.2,407.7h0M342.9,411.2h0M354.1,412.5h0M347.4,403.4h0M339.7,395.4h0M329.4,387.0h0M333.7,414.2h0M351.1,405.9h0M345.5,416.5h0M342.9,399.8h0M354.0,409.5h0M350.7,404.5h0M343.2,412.8h0M345.6,413.2h0M329.0,399.2h0M355.1,408.3h0M351.2,407.2h0M348.4,412.9h0M348.6,411.7h0M338.0,404.2h0M343.4,412.8h0M357.7,415.3h0M347.0,409.6h0M350.2,414.1h0M349.5,410.8h0M347.8,412.4h0M349.2,417.1h0M348.0,410.0h0M335.7,409.7h0M345.8,402.7h0M336.2,395.4h0M355.9,410.6h0M337.7,407.0h0M335.4,404.3h0M343.5,400.7h0M347.4,404.6h0M343.7,405.5h0M335.6,405.8h0M341.6,401.1h0M344.0,408.6h0M345.1,400.2h0M347.8,402.3h0M358.7,411.0h0M345.2,404.2h0M349.0,405.9h0M352.7,411.2h0M354.7,414.5h0M347.7,416.9h0M339.7,402.1h0M347.9,416.9h0M341.6,408.1h0M352.9,412.7h0M330.0,387.8h0M334.9,392.2h0M348.5,414.6h0M340.7,408.1h0M338.9,410.3h0M337.1,391.3h0M347.2,415.1h0M330.4,411.7h0M346.4,400.9h0M378.4,414.9h0M380.2,397.3h0M377.4,405.8h0M370.7,408.7h0M365.0,414.6h0M369.0,411.2h0M365.8,417.7h0M375.9,400.9h0M370.1,405.8h0M372.9,403.8h0M378.2,402.1h0M364.6,411.8h0M367.3,411.2h0M368.4,409.1h0M370.0,418.1h0M367.9,410.9h0M370.0,405.3h0M371.8,409.8h0M367.5,412.3h0M364.5,418.2h0M376.0,404.7h0M364.3,415.4h0M370.8,410.0h0M374.7,410.6h0M369.6,414.6h0M369.5,416.4h0M369.7,414.3h0M372.9,408.7h0M375.9,418.4h0M365.1,410.9h0M362.6,414.8h0M363.8,416.4h0M368.1,411.6h0M370.9,418.2h0M364.4,413.5h0M363.3,411.3h0M375.3,412.0h0M376.4,408.0h0M369.9,407.6h0M365.4,418.5h0M366.0,410.8h0M363.5,413.0h0M375.0,403.2h0M368.9,414.8h0M373.9,414.2h0M369.5,405.7h0M365.9,412.5h0M371.8,417.8h0M367.4,417.8h0M374.1,409.9h0M373.6,414.5h0M372.6,411.7h0M368.7,416.7h0M373.6,404.3h0M369.6,415.9h0M362.8,417.2h0M369.7,412.7h0M373.7,415.3h0M371.1,407.6h0M370.2,411.6h0M375.0,418.1h0M362.8,418.0h0M369.1,406.2h0M369.7,412.3h0M366.2,413.1h0M367.0,408.2h0M367.5,413.9h0M367.5,415.3h0M383.9,417.7h0M367.2,417.0h0M365.6,416.5h0M365.6,412.9h0M366.3,409.6h0M380.2,398.7h0M368.6,416.5h0M370.2,411.8h0M367.2,418.1h0M379.6,417.0h0M376.7,406.2h0M368.9,409.3h0M369.2,418.2h0M376.5,410.9h0M362.9,416.0h0M377.2,418.2h0M370.6,412.5h0M376.3,417.4h0M365.6,412.3h0M367.8,410.4h0M364.7,414.2h0M363.7,417.0h0M372.5,415.5h0M372.9,407.2h0M366.1,415.8h0M369.3,406.4h0M369.5,409.7h0M376.2,418.0h0M368.4,417.4h0M376.1,408.5h0M371.4,404.9h0M368.1,416.9h0M372.9,417.2h0M375.2,412.8h0M370.3,414.8h0M373.5,405.8h0M367.8,413.5h0M370.2,411.4h0M370.0,407.4h0M377.0,415.6h0M371.7,409.4h0M373.4,415.9h0M376.8,401.4h0M380.6,398.4h0M367.6,415.4h0M368.8,407.7h0M373.2,418.2h0M371.0,406.5h0M367.9,415.5h0M370.9,416.7h0M362.6,414.5h0M372.2,417.8h0M367.5,414.7h0M368.8,409.2h0M368.4,416.6h0M378.9,412.3h0M369.3,412.6h0M368.8,413.1h0M366.4,412.1h0M369.8,413.4h0M372.6,415.5h0M367.1,411.8h0M368.5,414.7h0M371.7,405.0h0M370.0,407.7h0M373.0,403.0h0M365.7,417.5h0M367.3,417.1h0M371.9,417.9h0M369.3,409.0h0M364.5,418.0h0M365.5,413.2h0M371.0,411.3h0M371.3,410.4h0M372.3,417.3h0M368.2,413.8h0M372.0,418.4h0M374.6,405.5h0M363.3,415.5h0M377.7,402.9h0M364.0,412.4h0M370.2,418.2h0M373.9,406.8h0M371.8,415.5h0M373.6,402.8h0M369.7,406.8h0M368.2,418.2h0M376.4,407.2h0M375.2,417.1h0M367.4,413.2h0M374.6,417.9h0M371.5,413.8h0M372.8,405.8h0M363.7,418.3h0M370.7,408.3h0M364.3,417.8h0M366.9,414.6h0M371.6,418.0h0M370.2,414.1h0M375.6,409.0h0M376.7,402.7h0M366.3,416.6h0M368.2,409.2h0M362.7,414.6h0M365.4,418.3h0M370.9,407.2h0M374.5,402.6h0M365.8,418.3h0M367.0,413.5h0M375.8,416.2h0M369.5,418.4h0M370.1,408.4h0M371.3,418.4h0M367.0,413.3h0M369.4,407.2h0M376.4,405.6h0M367.9,416.2h0M376.2,405.5h0M368.7,411.2h0M379.8,399.9h0M379.9,407.7h0M368.9,415.8h0M376.8,417.4h0M376.2,415.6h0M371.0,417.8h0M369.7,409.5h0M366.3,416.6h0M378.4,402.5h0M376.7,408.7h0M375.9,409.4h0M366.3,416.2h0M364.3,417.1h0M373.9,409.2h0M374.7,416.0h0M362.9,418.4h0M365.4,410.9h0M373.4,411.1h0M368.4,413.0h0M366.3,413.8h0M363.2,417.4h0M373.2,404.8h0M373.2,403.6h0M367.4,413.8h0M375.8,412.0h0M373.2,417.8h0M377.5,415.6h0M368.6,417.1h0M372.7,417.9h0M366.0,412.9h0M368.7,412.2h0M364.9,413.8h0M365.0,416.7h0M371.0,416.6h0M368.5,406.9h0M362.3,414.9h0M366.5,416.5h0M365.3,412.3h0M373.2,408.1h0M374.4,401.9h0M381.2,409.3h0M376.5,413.1h0M369.0,418.0h0M376.2,406.4h0M370.0,411.4h0M370.4,409.3h0M363.7,414.4h0M364.8,413.3h0M364.3,414.6h0M375.8,406.9h0M373.4,413.1h0M375.1,416.8h0M368.1,413.6h0M367.2,409.1h0M371.7,416.9h0M368.4,413.4h0M366.1,408.6h0M378.0,418.5h0M374.7,401.7h0M374.0,409.2h0M366.1,414.9h0M371.7,413.4h0M373.4,405.0h0M374.1,412.2h0M373.5,411.0h0M371.1,415.2h0M362.3,412.1h0M365.8,414.1h0M366.8,409.8h0M376.5,411.1h0M371.4,415.6h0M371.3,413.6h0M372.4,413.5h0M359.2,417.7h0M358.8,417.2h0M362.1,415.7h0M361.3,414.0h0M358.7,418.1h0M360.7,415.9h0M357.4,417.5h0M360.6,415.3h0M360.4,415.2h0M358.5,417.9h0M358.2,417.6h0M357.8,417.9h0M364.6,417.7h0M366.9,415.8h0M361.6,418.4h0M361.6,417.3h0M362.3,418.3h0M356.1,418.4h0M362.3,418.4h0M361.6,418.5h0M359.7,416.8h0M364.3,418.0h0M362.8,416.8h0M363.9,417.2h0M360.9,416.9h0M359.6,418.4h0M363.3,417.6h0M361.7,416.7h0M361.5,417.3h0M359.9,418.1h0M360.9,417.5h0M357.1,418.4h0M361.3,416.0h0M357.3,417.1h0M363.0,418.5h0M363.5,418.5h0M359.3,418.4h0M363.8,417.3h0M361.3,418.2h0M363.4,417.5h0M361.4,417.3h0M361.1,416.7h0M363.0,416.5h0M364.2,418.4h0M357.9,417.8h0M359.4,415.5h0M361.2,417.3h0M361.0,417.8h0M362.8,417.1h0M362.1,416.6h0M359.6,414.7h0M356.7,417.3h0M363.3,417.9h0M361.1,416.6h0M359.8,418.0h0M357.8,415.4h0M360.0,417.2h0M358.5,418.3h0M357.5,416.7h0M363.6,418.4h0M340.5,383.2h0M345.8,385.2h0M335.6,386.6h0M330.0,393.4h0M328.2,400.8h0M331.8,390.0h0M373.1,384.6h0M379.0,394.1h0M383.6,401.5h0M385.3,407.6h0" fill="none" stroke="#c8c8c8" stroke-width="1.8" stroke-linecap="round"/>
<path d="M359.4,415.8h0M362.0,417.6h0M359.2,416.1h0M364.3,415.7h0M360.1,416.2h0M357.5,415.1h0M366.7,416.1h0M365.7,416.1h0M367.5,410.8h0M360.4,418.1h0M360.5,418.0h0M360.4,418.2h0M372.8,402.2h0M363.9,416.4h0M370.1,409.5h0M362.8,418.3h0M362.4,417.6h0M360.4,416.5h0M362.6,416.3h0M358.6,414.7h0M357.4,417.4h0M358.6,418.2h0M364.5,414.6h0M367.7,413.6h0M358.1,415.0h0M357.4,415.9h0M365.5,411.6h0M357.1,412.0h0M366.2,412.5h0M354.8,413.2h0M362.2,416.0h0M364.5,416.9h0M357.5,414.8h0M358.2,416.2h0M362.5,415.6h0M366.4,410.6h0M360.4,417.4h0M366.1,414.8h0M356.7,413.0h0M356.1,412.1h0M360.2,417.2h0M349.3,411.2h0M359.7,415.7h0M358.7,416.6h0M356.6,415.9h0M360.1,418.5h0M361.2,416.1h0M367.7,417.0h0M373.0,404.9h0M354.7,415.8h0M372.2,417.4h0M363.4,416.9h0M369.0,408.4h0M359.5,415.4h0M364.7,417.8h0M367.4,414.6h0M353.2,415.2h0M362.4,415.8h0M364.6,418.1h0M365.1,414.2h0M355.6,414.9h0M358.2,413.6h0M361.1,416.4h0M355.9,417.0h0M360.6,417.1h0M368.2,407.8h0M361.5,415.7h0M360.8,417.5h0M364.5,414.3h0M370.2,406.8h0M358.6,416.3h0M361.0,417.4h0M358.3,417.7h0M367.4,415.9h0M363.0,416.0h0M363.0,415.0h0M353.6,411.8h0M368.3,411.1h0M359.8,417.4h0M372.4,404.6h0M362.6,415.5h0M374.3,415.2h0M361.9,417.2h0M359.4,417.1h0M359.8,418.0h0M369.6,412.1h0M373.0,409.2h0M372.3,408.4h0M374.6,403.5h0M372.2,403.9h0M374.0,403.0h0M369.7,406.6h0M366.7,409.1h0M368.9,406.3h0M366.1,404.9h0M371.3,390.7h0M373.4,394.7h0M378.3,398.8h0M368.5,400.8h0M355.2,404.9h0M348.6,408.3h0M380.4,413.7h0M376.6,407.6h0M370.2,396.8h0" fill="none" stroke="#e8222a" stroke-width="2.2" stroke-linecap="round"/>
<rect x="322.6" y="332.6" width="77.2" height="89" fill="none" stroke="#333" stroke-width="0.9" />
<line x1="321.1" y1="418.5" x2="322.6" y2="418.5" stroke="#555" stroke-width="0.5" />
<text x="320.3" y="418.5" font-size="5.2" text-anchor="end" fill="#555" dominant-baseline="central" >0</text>
<line x1="321.1" y1="391.34" x2="322.6" y2="391.34" stroke="#555" stroke-width="0.5" />
<text x="320.3" y="391.34" font-size="5.2" text-anchor="end" fill="#555" dominant-baseline="central" >20</text>
<line x1="321.1" y1="364.18" x2="322.6" y2="364.18" stroke="#555" stroke-width="0.5" />
<text x="320.3" y="364.18" font-size="5.2" text-anchor="end" fill="#555" dominant-baseline="central" >40</text>
<line x1="321.1" y1="337.02" x2="322.6" y2="337.02" stroke="#555" stroke-width="0.5" />
<text x="320.3" y="337.02" font-size="5.2" text-anchor="end" fill="#555" dominant-baseline="central" >60</text>
<line x1="325.8" y1="421.6" x2="325.8" y2="423.1" stroke="#555" stroke-width="0.5" />
<text x="325.8" y="428.2" font-size="5.2" text-anchor="middle" fill="#555" >−10</text>
<line x1="343.3" y1="421.6" x2="343.3" y2="423.1" stroke="#555" stroke-width="0.5" />
<text x="343.3" y="428.2" font-size="5.2" text-anchor="middle" fill="#555" >−5</text>
<line x1="360.8" y1="421.6" x2="360.8" y2="423.1" stroke="#555" stroke-width="0.5" />
<text x="360.8" y="428.2" font-size="5.2" text-anchor="middle" fill="#555" >0</text>
<line x1="378.3" y1="421.6" x2="378.3" y2="423.1" stroke="#555" stroke-width="0.5" />
<text x="378.3" y="428.2" font-size="5.2" text-anchor="middle" fill="#555" >5</text>
<line x1="395.8" y1="421.6" x2="395.8" y2="423.1" stroke="#555" stroke-width="0.5" />
<text x="395.8" y="428.2" font-size="5.2" text-anchor="middle" fill="#555" >10</text>
<text x="358.5" y="329.4" font-size="6.45" text-anchor="middle" fill="#222" >fHb removal vs Control</text>
<text x="360.8" y="435" font-size="6.3" text-anchor="middle" fill="#333" >Log2FC</text>
<text x="312" y="377.1" font-size="5.8" text-anchor="middle" fill="#222" transform="rotate(-90 312 377.1)" >−Log10(padj)</text>
<line x1="429.45" y1="334.6" x2="429.45" y2="423.8" stroke="#ececec" stroke-width="0.5" />
<line x1="441.6" y1="334.6" x2="441.6" y2="423.8" stroke="#e2e2e2" stroke-width="0.5" />
<line x1="453.75" y1="334.6" x2="453.75" y2="423.8" stroke="#ececec" stroke-width="0.5" />
<line x1="465.9" y1="334.6" x2="465.9" y2="423.8" stroke="#e2e2e2" stroke-width="0.5" />
<line x1="478.05" y1="334.6" x2="478.05" y2="423.8" stroke="#ececec" stroke-width="0.5" />
<line x1="490.2" y1="334.6" x2="490.2" y2="423.8" stroke="#e2e2e2" stroke-width="0.5" />
<line x1="502.35" y1="334.6" x2="502.35" y2="423.8" stroke="#ececec" stroke-width="0.5" />
<line x1="422.7" y1="417.65" x2="508.6" y2="417.65" stroke="#ececec" stroke-width="0.5" />
<line x1="422.7" y1="404.9" x2="508.6" y2="404.9" stroke="#e2e2e2" stroke-width="0.5" />
<line x1="422.7" y1="392.15" x2="508.6" y2="392.15" stroke="#ececec" stroke-width="0.5" />
<line x1="422.7" y1="379.4" x2="508.6" y2="379.4" stroke="#e2e2e2" stroke-width="0.5" />
<line x1="422.7" y1="366.65" x2="508.6" y2="366.65" stroke="#ececec" stroke-width="0.5" />
<line x1="422.7" y1="353.9" x2="508.6" y2="353.9" stroke="#e2e2e2" stroke-width="0.5" />
<line x1="422.7" y1="341.15" x2="508.6" y2="341.15" stroke="#ececec" stroke-width="0.5" />
<path d="M477.4,371.1h0M439.8,409.5h0M458.1,391.1h0M452.7,389.6h0M460.2,384.2h0M475.6,371.6h0M477.9,374.8h0M475.8,373.9h0M448.0,403.3h0M468.4,378.6h0M475.3,370.8h0M467.1,387.1h0M461.6,385.4h0M462.7,381.5h0M474.9,365.8h0M448.4,399.7h0M467.7,384.4h0M466.3,384.6h0M471.7,375.6h0M490.7,350.8h0M464.1,388.2h0M456.7,393.7h0M453.1,395.2h0M463.8,384.8h0M448.5,392.1h0M453.4,394.2h0M465.6,382.5h0M489.4,365.7h0M452.3,393.2h0M477.2,375.2h0M454.5,394.6h0M458.0,392.1h0M464.5,382.7h0M469.3,380.4h0M480.7,370.8h0M458.0,382.2h0M458.6,382.3h0M479.4,369.6h0M480.5,374.1h0M444.2,398.6h0M476.7,376.4h0M449.0,400.7h0M470.2,373.1h0M460.7,392.0h0M447.2,401.4h0M471.9,379.5h0M464.6,381.7h0M468.9,375.4h0M468.3,381.0h0M476.8,378.3h0M471.0,378.6h0M460.0,384.3h0M468.7,384.7h0M458.4,388.7h0M457.3,396.2h0M460.3,390.6h0M481.0,367.0h0M444.9,406.8h0M461.6,386.9h0M472.5,370.7h0M487.0,362.5h0M455.9,395.2h0M465.7,387.7h0M464.8,378.2h0M439.4,413.2h0M485.0,369.1h0M444.6,407.3h0M478.5,373.9h0M471.4,381.9h0M473.5,368.0h0M447.8,398.8h0M447.8,393.4h0M459.6,393.5h0M477.1,376.3h0M467.5,376.6h0M459.8,385.5h0M469.4,385.3h0M472.7,369.0h0M466.6,378.6h0M466.9,375.6h0M466.3,381.8h0M448.4,398.6h0M460.4,386.3h0M462.9,384.2h0M474.8,367.5h0M457.9,390.3h0M458.1,392.0h0M444.5,399.6h0M455.1,404.0h0M465.5,380.7h0M483.8,363.7h0M482.2,373.9h0M484.7,368.5h0M460.0,387.9h0M467.9,383.5h0M501.5,351.7h0M473.8,365.4h0M478.8,371.0h0M464.0,387.3h0M461.2,384.3h0M468.5,389.1h0M476.9,364.4h0M472.5,371.5h0M450.8,393.6h0M473.1,375.2h0M462.4,385.4h0M472.0,375.7h0M471.8,379.2h0M452.8,391.1h0M480.2,374.1h0M477.7,372.0h0M454.6,389.6h0M457.8,387.1h0M480.4,366.1h0M464.5,380.6h0M471.6,381.5h0M487.8,362.5h0M457.2,392.2h0M486.7,361.4h0M469.3,377.4h0M472.3,377.6h0M474.4,377.6h0M459.5,384.2h0M465.2,385.6h0M441.3,414.5h0M469.1,384.8h0M451.6,397.1h0M467.2,381.4h0M465.8,381.9h0M483.8,354.4h0M491.4,356.9h0M456.8,393.0h0M469.0,378.2h0M451.1,396.5h0M496.2,356.9h0M466.2,379.4h0M439.3,401.1h0M460.8,389.7h0M467.2,383.0h0M440.6,413.3h0M447.2,405.2h0M459.6,380.3h0M454.2,395.7h0M432.7,414.2h0M470.4,375.4h0M456.9,385.1h0M462.8,385.7h0M455.7,385.4h0M478.4,370.9h0M448.7,399.9h0M447.0,393.8h0M472.3,371.7h0M449.4,412.9h0M473.3,374.6h0M490.1,360.8h0M437.5,411.3h0M451.6,405.4h0M496.5,356.4h0M482.0,369.1h0M459.5,390.6h0M432.5,414.9h0M456.2,386.0h0M455.1,392.5h0M466.6,385.2h0M474.3,374.0h0M466.0,390.7h0M459.4,383.1h0M465.0,378.0h0M448.0,402.6h0M433.6,412.7h0M462.7,388.2h0M470.7,384.5h0M466.9,379.8h0M473.3,380.1h0M454.5,393.2h0M461.4,389.8h0M474.5,374.2h0M481.3,364.2h0M459.4,388.9h0M471.9,379.3h0M446.6,402.8h0M459.7,390.8h0M460.3,390.0h0M492.1,354.3h0M471.0,376.2h0M463.5,376.9h0M478.8,368.1h0M474.4,378.9h0M466.3,385.1h0M460.2,388.0h0M484.1,361.1h0M471.7,376.6h0M453.4,399.0h0M454.7,396.9h0M478.1,370.2h0M466.3,384.8h0M471.2,376.5h0M467.1,379.8h0M485.1,368.0h0M471.3,379.4h0M481.2,375.0h0M465.7,378.7h0M466.2,381.2h0M461.4,385.7h0M457.4,387.7h0M467.2,382.1h0M468.1,368.5h0M455.8,394.1h0M496.3,356.3h0M465.8,386.8h0M465.9,397.2h0M466.8,374.6h0M464.3,384.5h0M485.9,361.4h0M450.8,401.2h0M461.7,394.0h0M455.3,388.4h0M469.0,375.5h0M456.7,387.3h0M477.9,361.5h0M466.1,386.6h0M474.7,373.6h0M455.7,392.0h0M457.8,392.6h0M476.0,375.5h0M474.4,373.5h0M461.7,390.9h0M479.6,371.0h0M464.3,394.0h0M453.5,398.4h0M446.2,397.8h0M469.8,373.0h0M459.3,387.4h0M465.5,378.0h0M449.8,400.5h0M443.9,400.6h0M475.4,375.7h0M481.2,364.1h0M457.0,387.4h0M442.5,397.2h0M466.9,392.7h0M458.3,382.5h0M470.6,376.1h0M473.4,373.1h0M467.7,378.8h0M481.0,367.9h0M471.3,378.5h0M450.9,398.6h0M464.6,384.6h0M471.5,382.0h0M473.4,371.5h0M463.7,388.4h0M455.2,385.6h0M455.9,392.0h0M468.2,378.4h0M461.1,393.8h0M457.8,387.3h0M456.3,389.1h0M464.0,385.6h0M463.6,376.2h0M446.1,397.7h0M494.4,356.1h0M449.5,396.2h0M461.4,391.4h0M446.7,403.0h0M473.4,371.8h0M474.2,378.2h0M465.5,384.8h0M482.0,359.5h0M446.8,395.4h0M469.0,381.5h0M464.6,396.9h0M450.2,393.6h0M457.6,392.0h0M473.2,375.8h0M478.0,365.8h0M461.0,390.0h0M471.5,374.9h0M467.4,381.3h0M474.8,377.2h0M467.0,381.1h0M498.4,346.1h0M462.3,380.0h0M472.0,381.5h0M441.3,413.4h0M459.2,385.0h0M457.6,395.3h0M465.4,382.9h0M475.3,377.5h0M479.0,365.6h0M443.9,397.2h0M463.1,385.2h0M444.9,408.0h0M443.2,403.1h0M464.8,380.1h0M448.0,400.6h0M442.7,404.4h0M448.0,402.9h0M458.4,390.3h0M464.7,391.2h0M466.7,383.4h0M442.9,399.9h0M463.3,380.1h0M479.3,369.2h0M471.2,371.5h0M439.8,406.6h0M435.0,414.2h0M469.6,371.9h0M457.0,388.2h0M474.2,376.9h0M474.8,375.7h0M461.4,387.9h0M441.0,404.6h0M466.7,375.1h0M467.3,383.2h0M476.2,380.3h0M469.8,385.8h0M481.4,367.3h0M451.4,401.1h0M467.8,382.6h0M439.5,408.5h0M457.9,388.9h0M476.1,364.5h0M440.4,409.7h0M461.1,379.8h0M457.5,392.0h0M457.7,392.4h0M456.9,394.7h0M470.1,380.4h0M495.3,350.1h0M485.9,358.7h0M454.1,392.8h0M477.1,376.0h0M472.0,379.5h0M469.9,381.1h0M447.8,395.2h0M449.7,400.8h0M460.3,385.6h0M450.4,395.3h0M430.4,421.7h0M458.0,390.0h0M453.5,388.6h0M466.8,395.0h0M457.0,392.8h0M459.7,393.7h0M452.8,398.7h0M452.4,400.8h0M462.5,388.0h0M480.3,363.1h0M452.1,401.4h0M453.5,392.1h0M478.2,375.3h0M487.3,364.9h0M455.1,384.2h0M467.2,375.0h0M450.5,390.1h0M448.4,406.0h0M468.4,387.5h0M451.9,397.3h0M447.8,399.7h0M464.4,385.3h0M474.0,371.0h0M438.5,410.3h0M450.0,401.4h0M448.9,398.7h0M490.0,366.0h0M493.4,356.7h0M469.6,378.9h0M475.2,380.1h0M457.4,387.4h0M464.2,381.7h0M437.4,405.8h0M469.2,384.5h0M470.8,368.7h0M463.5,396.4h0M472.3,374.4h0M454.4,392.6h0M472.5,379.6h0M454.9,390.4h0M461.7,387.0h0M452.6,391.0h0M460.5,388.4h0M474.9,380.7h0M467.0,377.4h0M451.4,397.3h0M476.9,369.1h0M447.0,405.5h0M453.2,392.1h0M470.2,378.5h0M475.9,369.4h0M470.0,381.0h0M461.0,385.8h0M477.7,373.4h0M440.0,409.2h0M446.6,408.0h0M482.0,361.0h0M477.3,373.9h0M436.0,406.5h0M462.8,383.7h0M453.1,393.5h0M475.7,367.5h0M489.8,360.1h0M462.1,391.7h0M471.8,370.0h0M457.0,388.3h0M472.4,371.0h0M442.0,402.6h0M462.5,380.4h0M483.2,360.4h0M466.5,381.1h0M475.7,370.5h0M465.4,376.9h0M461.4,382.6h0M459.6,384.0h0M440.9,408.6h0M488.3,361.4h0M455.6,399.2h0M454.4,395.1h0M462.6,386.2h0M448.2,397.8h0M467.3,375.1h0M468.8,384.4h0M450.9,403.8h0M449.4,398.4h0M438.9,409.1h0M448.3,395.8h0M482.6,361.1h0M468.4,374.5h0M463.7,395.9h0M466.8,373.3h0M447.8,406.8h0M474.2,372.7h0M457.0,393.2h0M478.5,368.0h0M462.8,386.2h0M461.2,390.1h0M465.3,387.1h0M482.9,355.7h0M469.0,375.1h0M450.7,391.6h0M456.7,393.9h0M477.8,373.0h0M466.9,390.7h0M448.7,393.3h0M475.3,379.4h0M481.1,366.5h0M464.3,385.5h0M462.1,382.1h0M485.6,360.1h0M449.3,403.3h0M474.8,373.0h0M464.6,390.7h0M471.2,378.7h0M448.4,401.3h0M478.7,374.3h0M463.7,383.5h0M484.4,361.0h0M465.3,385.3h0M448.1,397.9h0M462.2,379.9h0M475.2,371.1h0M460.9,384.6h0M454.4,401.2h0M483.6,367.2h0M450.0,391.2h0M482.8,359.3h0M496.6,348.5h0M464.4,382.0h0M450.4,397.4h0M473.7,380.1h0M460.0,387.5h0M472.9,369.0h0M445.4,404.8h0M477.5,370.6h0M465.4,386.0h0M470.8,378.3h0M470.2,376.0h0M453.7,389.2h0M463.3,381.2h0M477.5,380.2h0M468.2,386.2h0M477.2,366.7h0M472.1,381.9h0M473.3,368.5h0M452.1,396.1h0M439.4,393.3h0M488.4,363.3h0M440.2,402.4h0M484.2,362.4h0M454.2,398.8h0M441.9,407.4h0M461.1,383.6h0M474.3,375.7h0M464.1,387.7h0M454.0,399.1h0M461.0,385.0h0M492.2,352.2h0M442.5,410.3h0M469.5,379.1h0M459.8,386.1h0M478.8,367.4h0M466.1,377.9h0M448.1,397.0h0M470.1,381.4h0M469.0,373.7h0M452.7,391.4h0M449.8,394.1h0M449.1,405.0h0M491.6,357.5h0M482.7,364.2h0M457.4,387.1h0M457.8,392.0h0M475.2,375.6h0M486.3,370.9h0M470.5,381.1h0M473.8,369.5h0M480.8,365.3h0M472.2,371.2h0M482.8,373.6h0M481.4,364.3h0M446.5,398.6h0M448.7,401.7h0M483.6,361.8h0M451.3,400.7h0M477.2,367.1h0M457.9,387.3h0M439.0,405.8h0M456.8,394.3h0M459.8,379.7h0M442.7,408.9h0M475.5,374.2h0M467.7,376.1h0M460.7,381.6h0M486.6,360.8h0M453.3,397.3h0M465.0,390.9h0M437.0,404.3h0M445.8,398.9h0M461.6,393.1h0M471.3,377.2h0M465.7,383.8h0M462.9,381.9h0M446.4,395.5h0M454.7,393.2h0M471.0,376.2h0M477.0,368.1h0M457.1,392.3h0M455.7,391.4h0M435.0,415.7h0M458.0,391.0h0M445.8,403.6h0M443.8,411.1h0M468.4,375.4h0M457.8,385.0h0M462.2,385.9h0M456.6,382.4h0M477.8,375.1h0M485.3,357.4h0M452.5,390.3h0M484.2,362.5h0M464.4,383.6h0M466.5,381.2h0M446.2,410.4h0M471.5,377.7h0M480.9,368.0h0M473.7,372.1h0M456.5,390.7h0M471.1,375.2h0M470.6,380.4h0M456.1,392.8h0M469.1,376.6h0M454.0,395.5h0M456.9,389.4h0M460.2,385.3h0M485.7,370.8h0M462.5,386.2h0M449.9,394.1h0M466.5,382.9h0M468.8,371.6h0M457.9,389.1h0M476.2,371.3h0M472.4,374.8h0M472.9,376.1h0M456.0,396.6h0M442.4,408.9h0M461.0,383.1h0M452.4,389.4h0M463.3,386.6h0M455.3,395.6h0M460.5,384.4h0M435.6,407.7h0M457.3,386.8h0M463.4,381.9h0M469.3,375.2h0M477.3,369.3h0M444.8,401.3h0M466.5,377.7h0M476.3,383.3h0M454.4,397.9h0M479.5,370.4h0M478.3,370.5h0M457.0,387.8h0M501.6,345.0h0M471.1,383.4h0M451.1,396.1h0M473.6,374.3h0M458.8,386.4h0M471.9,379.6h0M475.6,374.1h0M475.8,378.5h0M502.8,342.5h0M461.0,387.0h0M473.4,376.9h0M465.6,382.2h0M453.1,387.1h0M480.1,361.2h0M475.0,373.7h0M463.1,391.4h0M467.4,382.4h0M476.4,369.4h0M463.2,385.0h0M472.2,377.4h0M461.0,389.7h0M493.3,357.3h0M477.0,376.1h0M460.7,388.0h0M461.1,394.0h0M450.4,387.8h0M460.3,390.3h0M459.7,388.1h0M456.5,389.6h0M463.9,380.0h0M466.2,376.7h0M465.5,378.3h0M474.3,379.1h0M464.8,385.9h0M467.8,377.2h0M463.8,382.7h0M473.4,377.1h0M446.2,403.7h0M466.6,383.3h0M452.4,396.8h0M456.2,394.5h0M472.6,377.6h0M464.5,380.1h0M486.7,362.0h0M470.4,377.8h0M449.0,402.0h0M449.9,402.2h0M491.7,352.1h0M472.2,370.1h0M484.5,366.3h0M445.3,401.7h0M450.5,394.5h0M454.6,391.3h0M460.7,389.3h0M477.7,368.1h0M469.6,376.4h0M487.4,359.7h0M462.2,384.6h0M439.1,405.9h0M461.1,390.1h0M457.3,390.5h0M472.3,370.7h0M465.8,382.9h0M469.8,382.3h0M458.2,389.4h0M464.4,384.6h0M463.6,392.3h0M466.7,380.2h0M475.2,374.2h0M478.3,367.9h0M468.3,375.4h0M474.0,378.2h0M473.4,380.6h0M465.4,385.7h0M463.8,384.3h0M490.2,353.4h0M454.3,396.1h0M475.8,367.2h0M477.7,367.7h0M469.1,375.1h0M480.1,367.1h0M468.9,381.2h0M461.6,384.5h0M445.8,404.2h0M471.7,376.7h0M461.4,391.1h0M490.8,358.6h0M471.8,368.2h0M470.6,377.5h0M471.1,379.6h0M450.9,395.0h0M459.5,383.9h0M456.9,385.2h0M497.4,355.1h0M466.7,378.7h0M467.9,376.6h0M451.1,400.6h0M469.4,384.5h0M441.7,403.9h0M460.8,391.1h0M475.5,371.8h0M465.8,386.9h0M483.8,365.2h0M466.0,377.7h0M447.8,398.8h0M471.9,373.2h0M434.6,414.1h0M473.5,382.6h0M467.5,383.5h0M469.4,378.6h0M466.5,381.7h0M447.0,399.4h0M457.6,383.0h0M463.2,385.4h0M473.1,374.7h0M470.4,371.5h0M465.2,385.5h0M456.9,390.8h0M456.3,401.5h0M471.8,373.9h0M445.9,401.1h0M471.2,371.1h0M492.3,364.9h0M451.5,390.2h0M473.9,376.2h0M448.1,393.8h0M445.0,403.8h0M462.9,387.6h0M478.5,372.0h0M468.2,378.3h0M478.2,369.8h0M478.5,369.4h0M467.2,372.8h0M453.5,395.7h0M447.5,393.3h0M460.8,386.7h0M446.1,399.2h0M442.8,402.5h0M440.7,403.3h0M476.1,372.2h0M435.4,405.0h0M474.6,379.7h0M482.0,368.7h0M452.8,390.1h0M455.8,399.2h0M456.6,387.9h0M473.0,371.8h0M456.2,392.8h0M479.4,366.5h0M471.5,380.4h0M471.5,377.6h0M467.6,379.0h0M470.7,379.6h0M486.6,363.5h0M472.9,387.0h0M456.7,394.6h0M471.9,382.6h0M467.3,385.0h0M468.9,383.7h0M485.1,361.3h0M472.1,371.9h0M484.8,362.0h0M458.6,384.3h0M463.7,386.3h0M445.9,397.9h0M455.9,389.2h0M470.9,376.4h0M458.7,392.6h0M455.2,391.4h0M465.6,377.5h0M473.3,377.5h0M462.3,384.6h0M461.1,386.3h0M469.8,379.9h0M461.0,389.5h0M460.9,389.5h0M461.5,387.0h0M468.1,377.5h0M474.5,375.4h0M464.2,379.7h0M467.2,388.6h0M470.3,377.4h0M478.5,369.8h0M452.8,395.8h0M460.7,387.2h0M451.4,399.8h0M437.9,405.0h0M452.2,391.8h0M456.8,391.2h0M466.9,379.8h0M468.8,381.4h0M503.9,345.8h0M475.7,378.0h0M457.4,389.9h0M460.5,384.9h0M451.4,399.3h0M468.8,385.6h0M494.1,359.5h0M467.5,374.5h0M448.9,392.9h0M470.8,370.9h0M463.1,381.1h0M472.1,376.2h0M438.4,404.9h0M442.5,399.9h0M455.8,389.7h0M445.9,398.2h0M483.3,365.2h0M450.7,392.1h0M463.3,388.2h0M482.5,361.2h0M481.1,357.0h0M469.4,377.0h0M464.5,385.8h0M454.6,392.9h0M462.3,381.0h0M466.5,388.6h0M438.8,416.1h0M463.8,381.1h0M474.3,370.6h0M483.1,360.2h0M476.4,371.7h0M462.7,376.4h0M441.5,400.2h0M448.9,401.2h0M453.4,387.1h0M437.6,398.9h0M456.2,391.0h0M441.3,404.3h0M464.7,387.5h0M475.9,374.6h0M454.2,387.6h0M449.5,396.1h0M469.2,368.9h0M434.7,411.3h0M464.0,385.7h0M446.0,397.5h0M471.8,378.4h0M451.1,394.4h0M475.9,377.1h0M440.4,402.9h0M443.1,399.4h0M463.1,384.2h0M458.7,380.8h0M458.7,391.9h0M462.2,380.8h0M466.9,375.0h0M457.6,391.0h0M453.0,392.7h0M472.2,382.5h0M441.7,414.4h0M459.7,388.2h0M464.6,386.1h0M478.4,371.6h0M463.4,382.5h0M477.1,371.7h0M466.1,378.0h0M474.2,372.8h0M448.4,399.6h0M456.4,391.2h0M480.1,365.4h0M491.1,355.2h0M463.7,387.2h0M480.9,366.5h0M484.8,370.2h0M468.5,380.7h0M471.8,378.3h0M439.9,403.2h0M469.4,388.5h0M444.0,397.9h0M457.6,387.1h0M454.5,396.7h0M457.0,396.7h0M481.6,367.6h0M445.0,403.8h0M445.4,406.3h0M476.3,374.2h0M459.2,382.5h0M443.6,405.5h0M455.0,389.1h0M456.5,385.2h0M457.8,397.0h0M450.3,399.1h0M463.0,387.0h0M476.2,376.2h0M469.8,372.3h0M491.0,353.1h0M483.5,372.1h0M462.9,384.5h0M462.4,391.6h0M470.5,375.5h0M474.7,374.2h0M440.7,400.2h0M490.2,357.3h0M485.6,362.1h0M487.8,358.8h0M467.2,378.5h0M464.4,378.8h0M447.2,400.3h0M466.9,385.4h0M454.7,392.8h0M452.7,392.8h0M425.6,418.6h0M461.4,387.3h0M459.2,386.6h0M463.1,383.4h0M466.8,379.0h0M456.0,390.8h0M449.4,405.0h0M473.4,377.1h0M459.6,381.2h0M462.3,392.5h0M466.1,374.5h0M474.3,373.3h0M463.8,386.1h0M483.4,377.1h0M471.0,379.6h0M471.0,375.6h0M448.4,408.6h0M485.7,367.4h0M492.2,347.9h0M467.5,383.2h0M460.6,384.8h0M450.3,397.3h0M475.3,374.6h0M456.8,379.6h0M452.9,388.2h0M477.1,372.4h0M469.9,379.8h0M472.5,373.6h0M468.1,378.1h0M478.2,367.2h0M463.9,381.7h0M467.4,375.4h0M450.5,398.5h0M464.2,380.6h0M455.1,389.2h0M452.1,389.5h0M469.2,374.7h0M463.1,380.1h0M448.2,404.4h0M469.1,375.0h0M447.5,395.7h0M474.8,370.7h0M433.0,413.3h0" fill="none" stroke="#c8c8c8" stroke-width="1.5" stroke-linecap="round"/>
<line x1="422.7" y1="423.8" x2="508.6" y2="334.6" stroke="#111" stroke-width="1.1" stroke-dasharray="1 1.4" />
<path d="M479.7,367.0h0M467.1,381.4h0M464.5,379.5h0M469.4,377.6h0M463.8,380.8h0M463.7,382.5h0M460.2,388.5h0M472.0,374.6h0M462.2,385.1h0M470.5,372.9h0M470.3,374.3h0M469.9,376.6h0M475.9,369.6h0M474.0,369.9h0M461.6,385.4h0M475.5,373.1h0M459.8,385.8h0M473.9,371.3h0M473.4,372.4h0M472.0,377.7h0M467.3,374.9h0M454.5,392.2h0M465.8,377.5h0M461.2,384.9h0M464.3,382.3h0M465.0,380.8h0M476.5,368.1h0M467.0,379.8h0M461.9,383.0h0M487.0,361.3h0M471.0,372.9h0M472.5,374.0h0M461.6,383.0h0M468.6,376.2h0M484.1,361.4h0M478.8,363.7h0M469.5,374.5h0M467.3,377.8h0M458.4,387.8h0M469.8,373.1h0M479.2,368.8h0M469.8,375.0h0M467.3,373.2h0M467.8,378.3h0M472.8,371.9h0M470.8,371.0h0M472.9,373.4h0M462.3,382.9h0M465.5,383.9h0M468.3,376.9h0M468.2,378.3h0M466.8,379.9h0M474.0,367.7h0M463.3,382.7h0M463.1,384.2h0M468.3,377.1h0M473.6,369.7h0M459.1,385.2h0M472.2,372.4h0M474.0,372.7h0M474.3,371.9h0M472.2,373.5h0M463.9,382.4h0M467.3,379.7h0M473.3,371.5h0M467.4,374.8h0M467.0,376.6h0M468.3,379.2h0M469.6,376.2h0M480.7,365.8h0M475.8,370.5h0M474.1,373.0h0M475.9,370.3h0M465.0,379.4h0M481.0,365.1h0M467.0,379.9h0M473.0,372.2h0M464.7,382.7h0M464.9,381.8h0M477.3,368.7h0M500.9,344.2h0M497.5,341.7h0M490.2,348.8h0M495.5,354.9h0M486.8,363.1h0M450.3,403.9h0M446.9,405.9h0M455.7,397.8h0M453.8,385.5h0M460.1,381.4h0M481.5,360.0h0M484.9,358.0h0M479.5,360.5h0" fill="none" stroke="#e8222a" stroke-width="1.8" stroke-linecap="round"/>
<rect x="422.7" y="334.6" width="85.9" height="89.2" fill="none" stroke="#333" stroke-width="0.9" />
<line x1="421.2" y1="404.9" x2="422.7" y2="404.9" stroke="#555" stroke-width="0.5" />
<text x="420.4" y="404.9" font-size="5.2" text-anchor="end" fill="#555" dominant-baseline="central" >−5</text>
<line x1="441.6" y1="423.8" x2="441.6" y2="425.3" stroke="#555" stroke-width="0.5" />
<text x="441.6" y="430.4" font-size="5.2" text-anchor="middle" fill="#555" >−5</text>
<line x1="421.2" y1="379.4" x2="422.7" y2="379.4" stroke="#555" stroke-width="0.5" />
<text x="420.4" y="379.4" font-size="5.2" text-anchor="end" fill="#555" dominant-baseline="central" >0</text>
<line x1="465.9" y1="423.8" x2="465.9" y2="425.3" stroke="#555" stroke-width="0.5" />
<text x="465.9" y="430.4" font-size="5.2" text-anchor="middle" fill="#555" >0</text>
<line x1="421.2" y1="353.9" x2="422.7" y2="353.9" stroke="#555" stroke-width="0.5" />
<text x="420.4" y="353.9" font-size="5.2" text-anchor="end" fill="#555" dominant-baseline="central" >5</text>
<line x1="490.2" y1="423.8" x2="490.2" y2="425.3" stroke="#555" stroke-width="0.5" />
<text x="490.2" y="430.4" font-size="5.2" text-anchor="middle" fill="#555" >5</text>
<text x="466.6" y="332" font-size="6.9" text-anchor="middle" fill="#222" >RBC-based vs fHb removal</text>
<text x="466" y="436.4" font-size="6" text-anchor="middle" fill="#222" >Log2FC (RBC-based)</text>
<text x="414.2" y="379" font-size="5.6" text-anchor="middle" fill="#222" transform="rotate(-90 414.2 379)" >Log2FC (fHb removal)</text>
<circle cx="519.7" cy="416.5" r="1.5" fill="#e8222a" />
<text x="529.2" y="419" font-size="7.2" fill="#222" >Ferroptosis Signature Genes</text>
<text x="0.22" y="473.1" font-size="10.2" font-weight="bold" fill="#151515" >K</text>
<text x="45.6" y="496.7" font-size="8.2" fill="#222" >Ferroptosis Signature Genes (|Log2FC| &gt; 2)</text>
<rect x="45.4" y="501.8" width="327.2" height="38.6" fill="#ffffff" stroke="#cfcfcf" stroke-width="0.8" />
<line x1="52" y1="502.5" x2="52" y2="540" stroke="#d8d8d8" stroke-width="0.6" stroke-dasharray="0.8 1.6" />
<line x1="62.46" y1="502.5" x2="62.46" y2="540" stroke="#d8d8d8" stroke-width="0.6" stroke-dasharray="0.8 1.6" />
<line x1="72.92" y1="502.5" x2="72.92" y2="540" stroke="#d8d8d8" stroke-width="0.6" stroke-dasharray="0.8 1.6" />
<line x1="83.38" y1="502.5" x2="83.38" y2="540" stroke="#d8d8d8" stroke-width="0.6" stroke-dasharray="0.8 1.6" />
<line x1="93.84" y1="502.5" x2="93.84" y2="540" stroke="#d8d8d8" stroke-width="0.6" stroke-dasharray="0.8 1.6" />
<line x1="104.3" y1="502.5" x2="104.3" y2="540" stroke="#d8d8d8" stroke-width="0.6" stroke-dasharray="0.8 1.6" />
<line x1="114.76" y1="502.5" x2="114.76" y2="540" stroke="#d8d8d8" stroke-width="0.6" stroke-dasharray="0.8 1.6" />
<line x1="125.22" y1="502.5" x2="125.22" y2="540" stroke="#d8d8d8" stroke-width="0.6" stroke-dasharray="0.8 1.6" />
<line x1="135.68" y1="502.5" x2="135.68" y2="540" stroke="#d8d8d8" stroke-width="0.6" stroke-dasharray="0.8 1.6" />
<line x1="146.14" y1="502.5" x2="146.14" y2="540" stroke="#d8d8d8" stroke-width="0.6" stroke-dasharray="0.8 1.6" />
<line x1="156.6" y1="502.5" x2="156.6" y2="540" stroke="#d8d8d8" stroke-width="0.6" stroke-dasharray="0.8 1.6" />
<line x1="167.06" y1="502.5" x2="167.06" y2="540" stroke="#d8d8d8" stroke-width="0.6" stroke-dasharray="0.8 1.6" />
<line x1="177.52" y1="502.5" x2="177.52" y2="540" stroke="#d8d8d8" stroke-width="0.6" stroke-dasharray="0.8 1.6" />
<line x1="187.98" y1="502.5" x2="187.98" y2="540" stroke="#d8d8d8" stroke-width="0.6" stroke-dasharray="0.8 1.6" />
<line x1="198.44" y1="502.5" x2="198.44" y2="540" stroke="#d8d8d8" stroke-width="0.6" stroke-dasharray="0.8 1.6" />
<line x1="208.9" y1="502.5" x2="208.9" y2="540" stroke="#d8d8d8" stroke-width="0.6" stroke-dasharray="0.8 1.6" />
<line x1="219.36" y1="502.5" x2="219.36" y2="540" stroke="#d8d8d8" stroke-width="0.6" stroke-dasharray="0.8 1.6" />
<line x1="229.82" y1="502.5" x2="229.82" y2="540" stroke="#d8d8d8" stroke-width="0.6" stroke-dasharray="0.8 1.6" />
<line x1="240.28" y1="502.5" x2="240.28" y2="540" stroke="#d8d8d8" stroke-width="0.6" stroke-dasharray="0.8 1.6" />
<line x1="250.74" y1="502.5" x2="250.74" y2="540" stroke="#d8d8d8" stroke-width="0.6" stroke-dasharray="0.8 1.6" />
<line x1="261.2" y1="502.5" x2="261.2" y2="540" stroke="#d8d8d8" stroke-width="0.6" stroke-dasharray="0.8 1.6" />
<line x1="271.66" y1="502.5" x2="271.66" y2="540" stroke="#d8d8d8" stroke-width="0.6" stroke-dasharray="0.8 1.6" />
<line x1="282.12" y1="502.5" x2="282.12" y2="540" stroke="#d8d8d8" stroke-width="0.6" stroke-dasharray="0.8 1.6" />
<line x1="292.58" y1="502.5" x2="292.58" y2="540" stroke="#d8d8d8" stroke-width="0.6" stroke-dasharray="0.8 1.6" />
<line x1="303.04" y1="502.5" x2="303.04" y2="540" stroke="#d8d8d8" stroke-width="0.6" stroke-dasharray="0.8 1.6" />
<line x1="313.5" y1="502.5" x2="313.5" y2="540" stroke="#d8d8d8" stroke-width="0.6" stroke-dasharray="0.8 1.6" />
<line x1="323.96" y1="502.5" x2="323.96" y2="540" stroke="#d8d8d8" stroke-width="0.6" stroke-dasharray="0.8 1.6" />
<line x1="334.42" y1="502.5" x2="334.42" y2="540" stroke="#d8d8d8" stroke-width="0.6" stroke-dasharray="0.8 1.6" />
<line x1="344.88" y1="502.5" x2="344.88" y2="540" stroke="#d8d8d8" stroke-width="0.6" stroke-dasharray="0.8 1.6" />
<line x1="355.34" y1="502.5" x2="355.34" y2="540" stroke="#d8d8d8" stroke-width="0.6" stroke-dasharray="0.8 1.6" />
<line x1="365.8" y1="502.5" x2="365.8" y2="540" stroke="#d8d8d8" stroke-width="0.6" stroke-dasharray="0.8 1.6" />
<circle cx="52" cy="512.5" r="3.75" fill="#9b8cc8" stroke="#1a1a1a" stroke-width="1.1" />
<circle cx="52" cy="530.4" r="2.55" fill="#9b8cc8" stroke="#1a1a1a" stroke-width="1.1" />
<text x="54.9" y="548.6" font-size="6.3" text-anchor="end" fill="#2a2a2a" transform="rotate(-45 54.9 548.6)" >ACSF2</text>
<circle cx="62.46" cy="512.5" r="4.55" fill="#e5775a" stroke="#1a1a1a" stroke-width="1.1" />
<circle cx="62.46" cy="530.4" r="2.75" fill="#e58067" stroke="#1a1a1a" stroke-width="1.1" />
<text x="65.36" y="548.6" font-size="6.3" text-anchor="end" fill="#2a2a2a" transform="rotate(-45 65.36 548.6)" >AKR1C1</text>
<circle cx="72.92" cy="512.5" r="4.75" fill="#e5775a" stroke="#1a1a1a" stroke-width="1.1" />
<circle cx="72.92" cy="530.4" r="3.05" fill="#e58067" stroke="#1a1a1a" stroke-width="1.1" />
<text x="75.82" y="548.6" font-size="6.3" text-anchor="end" fill="#2a2a2a" transform="rotate(-45 75.82 548.6)" >AKR1C2</text>
<circle cx="83.38" cy="512.5" r="3.25" fill="#efab90" stroke="#1a1a1a" stroke-width="1.1" />
<circle cx="83.38" cy="530.4" r="2.55" fill="#efa58a" stroke="#1a1a1a" stroke-width="1.1" />
<text x="86.28" y="548.6" font-size="6.3" text-anchor="end" fill="#2a2a2a" transform="rotate(-45 86.28 548.6)" >AKR1C3</text>
<circle cx="93.84" cy="512.5" r="2.75" fill="#efa58a" stroke="#1a1a1a" stroke-width="1.1" />
<circle cx="93.84" cy="530.4" r="2.35" fill="#eda080" stroke="#1a1a1a" stroke-width="1.1" />
<text x="96.74" y="548.6" font-size="6.3" text-anchor="end" fill="#2a2a2a" transform="rotate(-45 96.74 548.6)" >ALOX5</text>
<circle cx="104.3" cy="512.5" r="3.05" fill="#efa58a" stroke="#1a1a1a" stroke-width="1.1" />
<circle cx="104.3" cy="530.4" r="2.35" fill="#efa88e" stroke="#1a1a1a" stroke-width="1.1" />
<text x="107.2" y="548.6" font-size="6.3" text-anchor="end" fill="#2a2a2a" transform="rotate(-45 107.2 548.6)" >ATF3</text>
<circle cx="114.76" cy="512.5" r="3.25" fill="#ea9075" stroke="#1a1a1a" stroke-width="1.1" />
<circle cx="114.76" cy="530.4" r="2.05" fill="#efa88e" stroke="#1a1a1a" stroke-width="1.1" />
<text x="117.66" y="548.6" font-size="6.3" text-anchor="end" fill="#2a2a2a" transform="rotate(-45 117.66 548.6)" >CD44</text>
<circle cx="125.22" cy="512.5" r="2.75" fill="#9b8cc8" stroke="#1a1a1a" stroke-width="1.1" />
<circle cx="125.22" cy="530.4" r="2.55" fill="#6a62b0" stroke="#1a1a1a" stroke-width="1.1" />
<text x="128.12" y="548.6" font-size="6.3" text-anchor="end" fill="#2a2a2a" transform="rotate(-45 128.12 548.6)" >CLTRN</text>
<circle cx="135.68" cy="512.5" r="2.75" fill="#f0b29a" stroke="#1a1a1a" stroke-width="1.1" />
<circle cx="135.68" cy="530.4" r="2.35" fill="#efa58a" stroke="#1a1a1a" stroke-width="1.1" />
<text x="138.58" y="548.6" font-size="6.3" text-anchor="end" fill="#2a2a2a" transform="rotate(-45 138.58 548.6)" >CTSB</text>
<circle cx="146.14" cy="512.5" r="3.55" fill="#e9896c" stroke="#1a1a1a" stroke-width="1.1" />
<circle cx="146.14" cy="530.4" r="2.55" fill="#ea9378" stroke="#1a1a1a" stroke-width="1.1" />
<text x="149.04" y="548.6" font-size="6.3" text-anchor="end" fill="#2a2a2a" transform="rotate(-45 149.04 548.6)" >CYGB</text>
<circle cx="156.6" cy="512.5" r="3.55" fill="#c0b0dc" stroke="#1a1a1a" stroke-width="1.1" />
<circle cx="156.6" cy="530.4" r="2.55" fill="#b8a8d8" stroke="#1a1a1a" stroke-width="1.1" />
<text x="159.5" y="548.6" font-size="6.3" text-anchor="end" fill="#2a2a2a" transform="rotate(-45 159.5 548.6)" >ECH1</text>
<circle cx="167.06" cy="512.5" r="5.05" fill="#eda08a" stroke="#1a1a1a" stroke-width="1.1" />
<circle cx="167.06" cy="530.4" r="3.55" fill="#e9906f" stroke="#1a1a1a" stroke-width="1.1" />
<text x="169.96" y="548.6" font-size="6.3" text-anchor="end" fill="#2a2a2a" transform="rotate(-45 169.96 548.6)" >FADS1</text>
<circle cx="177.52" cy="512.5" r="3.55" fill="#f0b09a" stroke="#1a1a1a" stroke-width="1.1" />
<circle cx="177.52" cy="530.4" r="2.55" fill="#f0b09a" stroke="#1a1a1a" stroke-width="1.1" />
<text x="180.42" y="548.6" font-size="6.3" text-anchor="end" fill="#2a2a2a" transform="rotate(-45 180.42 548.6)" >FADS2</text>
<circle cx="187.98" cy="512.5" r="4.05" fill="#f2b8a4" stroke="#1a1a1a" stroke-width="1.1" />
<circle cx="187.98" cy="530.4" r="3.05" fill="#efa58a" stroke="#1a1a1a" stroke-width="1.1" />
<text x="190.88" y="548.6" font-size="6.3" text-anchor="end" fill="#2a2a2a" transform="rotate(-45 190.88 548.6)" >G6PD</text>
<circle cx="198.44" cy="512.5" r="3.25" fill="#ef9f88" stroke="#1a1a1a" stroke-width="1.1" />
<circle cx="198.44" cy="530.4" r="2.55" fill="#efa58a" stroke="#1a1a1a" stroke-width="1.1" />
<text x="201.34" y="548.6" font-size="6.3" text-anchor="end" fill="#2a2a2a" transform="rotate(-45 201.34 548.6)" >HIF1A</text>
<circle cx="208.9" cy="512.5" r="2.65" fill="#f0b09a" stroke="#1a1a1a" stroke-width="1.1" />
<circle cx="208.9" cy="530.4" r="2.35" fill="#f0b09a" stroke="#1a1a1a" stroke-width="1.1" />
<text x="211.8" y="548.6" font-size="6.3" text-anchor="end" fill="#2a2a2a" transform="rotate(-45 211.8 548.6)" >HMOX1</text>
<circle cx="219.36" cy="512.5" r="3.85" fill="#e03a30" stroke="#1a1a1a" stroke-width="1.1" />
<circle cx="219.36" cy="530.4" r="2.85" fill="#e25a40" stroke="#1a1a1a" stroke-width="1.1" />
<text x="222.26" y="548.6" font-size="6.3" text-anchor="end" fill="#2a2a2a" transform="rotate(-45 222.26 548.6)" >IL1B</text>
<circle cx="229.82" cy="512.5" r="3.65" fill="#e02020" stroke="#1a1a1a" stroke-width="1.1" />
<circle cx="229.82" cy="530.4" r="2.35" fill="#e25a40" stroke="#1a1a1a" stroke-width="1.1" />
<text x="232.72" y="548.6" font-size="6.3" text-anchor="end" fill="#2a2a2a" transform="rotate(-45 232.72 548.6)" >IL6</text>
<circle cx="240.28" cy="512.5" r="3.35" fill="#e56a50" stroke="#1a1a1a" stroke-width="1.1" />
<circle cx="240.28" cy="530.4" r="2.35" fill="#ec9274" stroke="#1a1a1a" stroke-width="1.1" />
<text x="243.18" y="548.6" font-size="6.3" text-anchor="end" fill="#2a2a2a" transform="rotate(-45 243.18 548.6)" >LCN2</text>
<circle cx="250.74" cy="512.5" r="2.15" fill="#a89cd0" stroke="#1a1a1a" stroke-width="1.1" />
<circle cx="250.74" cy="530.4" r="2.1" fill="#dcdcdc" />
<text x="253.64" y="548.6" font-size="6.3" text-anchor="end" fill="#2a2a2a" transform="rotate(-45 253.64 548.6)" >MIOX</text>
<circle cx="261.2" cy="512.5" r="2.15" fill="#c8bce0" stroke="#1a1a1a" stroke-width="1.1" />
<circle cx="261.2" cy="530.4" r="2.35" fill="#a89cd0" stroke="#1a1a1a" stroke-width="1.1" />
<text x="264.1" y="548.6" font-size="6.3" text-anchor="end" fill="#2a2a2a" transform="rotate(-45 264.1 548.6)" >MT1G</text>
<circle cx="271.66" cy="512.5" r="2.85" fill="#ec9274" stroke="#1a1a1a" stroke-width="1.1" />
<circle cx="271.66" cy="530.4" r="2.1" fill="#f2d4d0" />
<text x="274.56" y="548.6" font-size="6.3" text-anchor="end" fill="#2a2a2a" transform="rotate(-45 274.56 548.6)" >NOS2</text>
<circle cx="282.12" cy="512.5" r="3.35" fill="#8a80c0" stroke="#1a1a1a" stroke-width="1.1" />
<circle cx="282.12" cy="530.4" r="2.85" fill="#6a62b0" stroke="#1a1a1a" stroke-width="1.1" />
<text x="285.02" y="548.6" font-size="6.3" text-anchor="end" fill="#2a2a2a" transform="rotate(-45 285.02 548.6)" >NOX4</text>
<circle cx="292.58" cy="512.5" r="3.15" fill="#a098cc" stroke="#1a1a1a" stroke-width="1.1" />
<circle cx="292.58" cy="530.4" r="2.85" fill="#7068b4" stroke="#1a1a1a" stroke-width="1.1" />
<text x="295.48" y="548.6" font-size="6.3" text-anchor="end" fill="#2a2a2a" transform="rotate(-45 295.48 548.6)" >PDK4</text>
<circle cx="303.04" cy="512.5" r="3.35" fill="#a89cd0" stroke="#1a1a1a" stroke-width="1.1" />
<circle cx="303.04" cy="530.4" r="2.55" fill="#a098cc" stroke="#1a1a1a" stroke-width="1.1" />
<text x="305.94" y="548.6" font-size="6.3" text-anchor="end" fill="#2a2a2a" transform="rotate(-45 305.94 548.6)" >PROM2</text>
<circle cx="313.5" cy="512.5" r="3.65" fill="#e45a45" stroke="#1a1a1a" stroke-width="1.1" />
<circle cx="313.5" cy="530.4" r="2.15" fill="#ea9070" stroke="#1a1a1a" stroke-width="1.1" />
<text x="316.4" y="548.6" font-size="6.3" text-anchor="end" fill="#2a2a2a" transform="rotate(-45 316.4 548.6)" >PTGS2</text>
<circle cx="323.96" cy="512.5" r="3.85" fill="#ea8870" stroke="#1a1a1a" stroke-width="1.1" />
<circle cx="323.96" cy="530.4" r="2.55" fill="#ea8a70" stroke="#1a1a1a" stroke-width="1.1" />
<text x="326.86" y="548.6" font-size="6.3" text-anchor="end" fill="#2a2a2a" transform="rotate(-45 326.86 548.6)" >SCD</text>
<circle cx="334.42" cy="512.5" r="5.15" fill="#e56a50" stroke="#1a1a1a" stroke-width="1.1" />
<circle cx="334.42" cy="530.4" r="3.35" fill="#e56a50" stroke="#1a1a1a" stroke-width="1.1" />
<text x="337.32" y="548.6" font-size="6.3" text-anchor="end" fill="#2a2a2a" transform="rotate(-45 337.32 548.6)" >SLC7A11</text>
<circle cx="344.88" cy="512.5" r="4.15" fill="#f2b8a4" stroke="#1a1a1a" stroke-width="1.1" />
<circle cx="344.88" cy="530.4" r="2.85" fill="#f0ac94" stroke="#1a1a1a" stroke-width="1.1" />
<text x="347.78" y="548.6" font-size="6.3" text-anchor="end" fill="#2a2a2a" transform="rotate(-45 347.78 548.6)" >SQSTM1</text>
<circle cx="355.34" cy="512.5" r="3.65" fill="#ec9880" stroke="#1a1a1a" stroke-width="1.1" />
<circle cx="355.34" cy="530.4" r="2.55" fill="#f0a890" stroke="#1a1a1a" stroke-width="1.1" />
<text x="358.24" y="548.6" font-size="6.3" text-anchor="end" fill="#2a2a2a" transform="rotate(-45 358.24 548.6)" >TIMP1</text>
<circle cx="365.8" cy="512.5" r="3.35" fill="#ea8a70" stroke="#1a1a1a" stroke-width="1.1" />
<circle cx="365.8" cy="530.4" r="2.15" fill="#f2c0a8" stroke="#1a1a1a" stroke-width="1.1" />
<text x="368.7" y="548.6" font-size="6.3" text-anchor="end" fill="#2a2a2a" transform="rotate(-45 368.7 548.6)" >TNFAIP3</text>
<text x="43.8" y="514.9" font-size="8.1" text-anchor="end" >RBC-based</text>
<text x="43.8" y="533.2" font-size="8.1" text-anchor="end" >fHb removal</text>
<text x="378" y="499" font-size="8" >Log2FC</text>
<rect x="378" y="502.9" width="10" height="29.7" fill="url(#kcb)" />
<line x1="378" y1="507.7" x2="379.6" y2="507.7" stroke="#fff" stroke-width="0.5" />
<line x1="386.4" y1="507.7" x2="388" y2="507.7" stroke="#fff" stroke-width="0.5" />
<text x="392" y="509.8" font-size="6.6" fill="#333" >5.0</text>
<line x1="378" y1="514.9" x2="379.6" y2="514.9" stroke="#fff" stroke-width="0.5" />
<line x1="386.4" y1="514.9" x2="388" y2="514.9" stroke="#fff" stroke-width="0.5" />
<text x="392" y="517" font-size="6.6" fill="#333" >2.5</text>
<line x1="378" y1="521.5" x2="379.6" y2="521.5" stroke="#fff" stroke-width="0.5" />
<line x1="386.4" y1="521.5" x2="388" y2="521.5" stroke="#fff" stroke-width="0.5" />
<text x="392" y="523.6" font-size="6.6" fill="#333" >0.0</text>
<line x1="378" y1="529.2" x2="379.6" y2="529.2" stroke="#fff" stroke-width="0.5" />
<line x1="386.4" y1="529.2" x2="388" y2="529.2" stroke="#fff" stroke-width="0.5" />
<text x="389.6" y="531.3" font-size="6.6" fill="#333" >−2.5</text>
<circle cx="48.2" cy="578.8" r="2.9" fill="#fff" stroke="#111" stroke-width="1.2" />
<text x="54.8" y="581.5" font-size="7.9" fill="#222" >padj ≤0.05</text>
<circle cx="48.2" cy="590.2" r="2.9" fill="#fff" stroke="#cfcfcf" stroke-width="1" />
<text x="54.8" y="592.9" font-size="7.9" fill="#222" >padj &gt;0.05</text>
<text x="105.1" y="578" font-size="8.2" fill="#222" >−Log10(padj)</text>
<circle cx="112" cy="588.2" r="3" fill="#fff" stroke="#111" stroke-width="1.35" />
<text x="123.2" y="590.6" font-size="6.8" fill="#333" >10</text>
<circle cx="142" cy="588.2" r="4.5" fill="#fff" stroke="#111" stroke-width="1.35" />
<text x="153.2" y="590.6" font-size="6.8" fill="#333" >30</text>
<circle cx="171.5" cy="588.2" r="5.5" fill="#fff" stroke="#111" stroke-width="1.35" />
<text x="182.7" y="590.6" font-size="6.8" fill="#333" >50</text>
<text x="413.32" y="473.4" font-size="10.2" font-weight="bold" fill="#151515" >L</text>
<path d="M473.07,534.35 L476.52,533.15 L479.96,531.83 L483.41,530.39 L486.86,528.82 L490.30,527.13 L493.75,525.32 L497.20,523.38 L500.64,521.32 L504.09,519.14 L507.54,516.83 L510.98,514.40 L514.43,511.84 L517.87,509.17 L521.32,506.37 L524.77,503.44 L528.21,500.39 L531.66,497.22 L535.11,493.92 L538.55,490.51 L542.00,486.96 L542.00,512.05 L538.55,513.04 L535.11,514.16 L531.66,515.40 L528.21,516.76 L524.77,518.25 L521.32,519.86 L517.87,521.59 L514.43,523.45 L510.98,525.43 L507.54,527.54 L504.09,529.76 L500.64,532.12 L497.20,534.59 L493.75,537.19 L490.30,539.91 L486.86,542.76 L483.41,545.73 L479.96,548.82 L476.52,552.04 L473.07,555.38 Z" fill="#d2d2d2" />
<line x1="473.07" y1="544.86" x2="542" y2="499.5" stroke="#111" stroke-width="1.3" />
<circle cx="474.2" cy="554.44" r="1.9" fill="#e8414c" />
<circle cx="488.89" cy="525.61" r="1.9" fill="#e8414c" />
<circle cx="496.8" cy="522.57" r="1.9" fill="#e8414c" />
<circle cx="500.19" cy="531.68" r="1.9" fill="#e8414c" />
<circle cx="520.53" cy="519.54" r="1.9" fill="#e8414c" />
<circle cx="523.92" cy="499.05" r="1.9" fill="#e8414c" />
<circle cx="542" cy="506.64" r="1.9" fill="#e8414c" />
<path d="M473.07,546.67 L474.77,548.37 L473.07,550.07 L471.37,548.37 Z" fill="#f0923b" />
<path d="M486.63,526.18 L488.33,527.88 L486.63,529.58 L484.93,527.88 Z" fill="#f0923b" />
<path d="M488.89,536.04 L490.59,537.75 L488.89,539.45 L487.19,537.75 Z" fill="#f0923b" />
<line x1="451.6" y1="577.2" x2="451.6" y2="486.15" stroke="#1a1a1a" stroke-width="1" />
<line x1="448.1" y1="577.2" x2="451.6" y2="577.2" stroke="#1a1a1a" stroke-width="1" />
<text x="447.1" y="577.2" font-size="6.6" font-weight="bold" text-anchor="end" dominant-baseline="central" >0</text>
<line x1="448.1" y1="546.85" x2="451.6" y2="546.85" stroke="#1a1a1a" stroke-width="1" />
<text x="447.1" y="546.85" font-size="6.6" font-weight="bold" text-anchor="end" dominant-baseline="central" >20</text>
<line x1="448.1" y1="516.5" x2="451.6" y2="516.5" stroke="#1a1a1a" stroke-width="1" />
<text x="447.1" y="516.5" font-size="6.6" font-weight="bold" text-anchor="end" dominant-baseline="central" >40</text>
<line x1="448.1" y1="486.15" x2="451.6" y2="486.15" stroke="#1a1a1a" stroke-width="1" />
<text x="447.1" y="486.15" font-size="6.6" font-weight="bold" text-anchor="end" dominant-baseline="central" >60</text>
<line x1="451.6" y1="577.2" x2="542" y2="577.2" stroke="#1a1a1a" stroke-width="1" />
<line x1="451.6" y1="577.2" x2="451.6" y2="580.7" stroke="#1a1a1a" stroke-width="1" />
<text x="451.6" y="588.7" font-size="6.6" font-weight="bold" text-anchor="middle" >0</text>
<line x1="474.2" y1="577.2" x2="474.2" y2="579.7" stroke="#1a1a1a" stroke-width="1" />
<line x1="496.8" y1="577.2" x2="496.8" y2="580.7" stroke="#1a1a1a" stroke-width="1" />
<text x="496.8" y="588.7" font-size="6.6" font-weight="bold" text-anchor="middle" >200</text>
<line x1="519.4" y1="577.2" x2="519.4" y2="579.7" stroke="#1a1a1a" stroke-width="1" />
<line x1="542" y1="577.2" x2="542" y2="580.7" stroke="#1a1a1a" stroke-width="1" />
<text x="542" y="588.7" font-size="6.6" font-weight="bold" text-anchor="middle" >400</text>
<text x="541.3" y="566" font-size="6.6" text-anchor="end" fill="#222" >r = 0.8769</text>
<text x="541.3" y="574.2" font-size="6.6" text-anchor="end" fill="#222" ><tspan font-style="italic">P</tspan> = 0.0009</text>
<text x="496.8" y="598.7" font-size="7.6" text-anchor="middle" fill="#222" >Perfusate fHb (µmol/L)</text>
<text x="426.3" y="531.6" font-size="7.6" text-anchor="middle" fill="#222" transform="rotate(-90 426.3 531.6)" >Perfusate TBARS (MDA)</text>
<text x="435.7" y="531.6" font-size="7.6" text-anchor="middle" fill="#222" transform="rotate(-90 435.7 531.6)" >(µmol/L)</text>
<text x="549.22" y="473.5" font-size="10.2" font-weight="bold" fill="#151515" >M</text>
<path d="M604.80,535.83 L608.20,535.45 L611.60,534.96 L615.00,534.35 L618.40,533.64 L621.80,532.82 L625.20,531.89 L628.60,530.84 L632.00,529.69 L635.40,528.42 L638.80,527.05 L642.20,525.57 L645.60,523.97 L649.00,522.26 L652.40,520.45 L655.80,518.52 L659.20,516.49 L662.60,514.34 L666.00,512.08 L669.40,509.71 L672.80,507.24 L672.80,530.14 L669.40,530.28 L666.00,530.54 L662.60,530.90 L659.20,531.38 L655.80,531.96 L652.40,532.66 L649.00,533.46 L645.60,534.38 L642.20,535.41 L638.80,536.54 L635.40,537.79 L632.00,539.15 L628.60,540.62 L625.20,542.20 L621.80,543.89 L618.40,545.68 L615.00,547.59 L611.60,549.61 L608.20,551.74 L604.80,553.99 Z" fill="#d2d2d2" />
<line x1="604.8" y1="544.91" x2="672.8" y2="518.69" stroke="#111" stroke-width="1.3" />
<circle cx="606.35" cy="534.23" r="1.9" fill="#e8414c" />
<circle cx="620.75" cy="530.88" r="1.9" fill="#e8414c" />
<circle cx="621.41" cy="531.44" r="1.9" fill="#e8414c" />
<circle cx="628.5" cy="538.13" r="1.9" fill="#e8414c" />
<circle cx="631.82" cy="535.9" r="1.9" fill="#e8414c" />
<circle cx="650.65" cy="528.65" r="1.9" fill="#e8414c" />
<circle cx="654.64" cy="532" r="1.9" fill="#e8414c" />
<circle cx="672.8" cy="512.49" r="1.9" fill="#e8414c" />
<path d="M605.24,551.49 L606.94,553.19 L605.24,554.89 L603.54,553.19 Z" fill="#f0923b" />
<path d="M617.43,545.35 L619.13,547.05 L617.43,548.75 L615.73,547.05 Z" fill="#f0923b" />
<line x1="584.2" y1="576.6" x2="584.2" y2="487.4" stroke="#1a1a1a" stroke-width="1" />
<line x1="580.7" y1="576.6" x2="584.2" y2="576.6" stroke="#1a1a1a" stroke-width="1" />
<text x="579.7" y="576.6" font-size="6.6" font-weight="bold" text-anchor="end" dominant-baseline="central" >0</text>
<line x1="580.7" y1="554.3" x2="584.2" y2="554.3" stroke="#1a1a1a" stroke-width="1" />
<text x="579.7" y="554.3" font-size="6.6" font-weight="bold" text-anchor="end" dominant-baseline="central" >2</text>
<line x1="580.7" y1="532" x2="584.2" y2="532" stroke="#1a1a1a" stroke-width="1" />
<text x="579.7" y="532" font-size="6.6" font-weight="bold" text-anchor="end" dominant-baseline="central" >4</text>
<line x1="580.7" y1="509.7" x2="584.2" y2="509.7" stroke="#1a1a1a" stroke-width="1" />
<text x="579.7" y="509.7" font-size="6.6" font-weight="bold" text-anchor="end" dominant-baseline="central" >6</text>
<line x1="580.7" y1="487.4" x2="584.2" y2="487.4" stroke="#1a1a1a" stroke-width="1" />
<text x="579.7" y="487.4" font-size="6.6" font-weight="bold" text-anchor="end" dominant-baseline="central" >8</text>
<line x1="584.2" y1="576.6" x2="672.8" y2="576.6" stroke="#1a1a1a" stroke-width="1" />
<line x1="584.2" y1="576.6" x2="584.2" y2="580.1" stroke="#1a1a1a" stroke-width="1" />
<text x="584.2" y="588.1" font-size="6.6" font-weight="bold" text-anchor="middle" >0</text>
<line x1="606.35" y1="576.6" x2="606.35" y2="580.1" stroke="#1a1a1a" stroke-width="1" />
<text x="606.35" y="588.1" font-size="6.6" font-weight="bold" text-anchor="middle" >100</text>
<line x1="628.5" y1="576.6" x2="628.5" y2="580.1" stroke="#1a1a1a" stroke-width="1" />
<text x="628.5" y="588.1" font-size="6.6" font-weight="bold" text-anchor="middle" >200</text>
<line x1="650.65" y1="576.6" x2="650.65" y2="580.1" stroke="#1a1a1a" stroke-width="1" />
<text x="650.65" y="588.1" font-size="6.6" font-weight="bold" text-anchor="middle" >300</text>
<line x1="672.8" y1="576.6" x2="672.8" y2="580.1" stroke="#1a1a1a" stroke-width="1" />
<text x="672.8" y="588.1" font-size="6.6" font-weight="bold" text-anchor="middle" >400</text>
<text x="672.9" y="564.6" font-size="6.6" text-anchor="end" fill="#222" >r = 0.7811</text>
<text x="672.9" y="572.8" font-size="6.6" text-anchor="end" fill="#222" ><tspan font-style="italic">P</tspan> = 0.0076</text>
<text x="630.4" y="598.7" font-size="7.6" text-anchor="middle" fill="#222" >Perfusate fHb (µmol/L)</text>
<text x="562.8" y="531.6" font-size="7.6" text-anchor="middle" fill="#222" transform="rotate(-90 562.8 531.6)" >Tissue 4HNE</text>
<text x="571.6" y="531.6" font-size="7.6" text-anchor="middle" fill="#222" transform="rotate(-90 571.6 531.6)" >(Log2)</text>
</svg></body></html>
